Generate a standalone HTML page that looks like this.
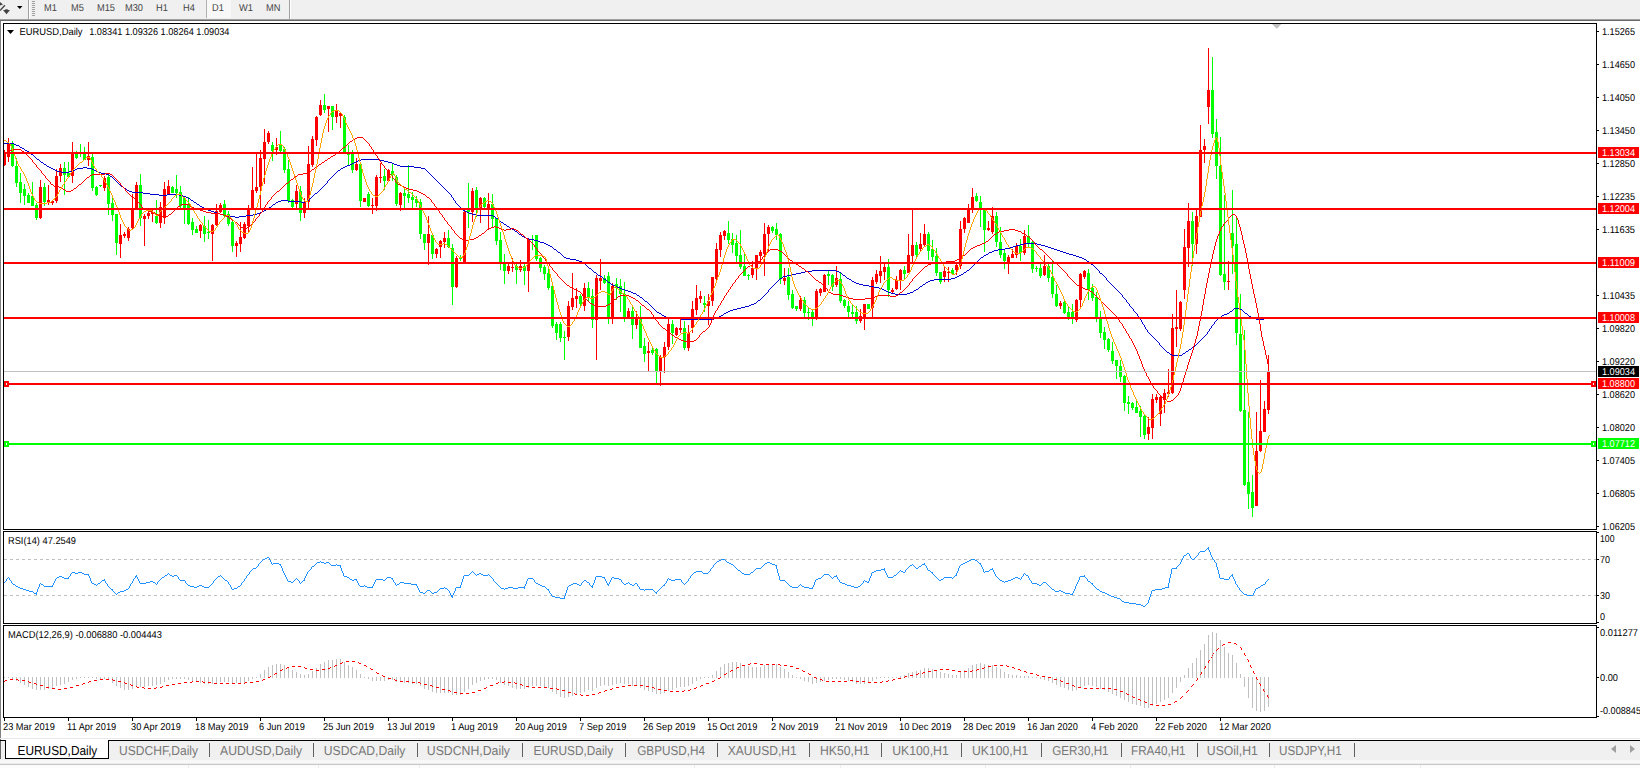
<!DOCTYPE html><html><head><meta charset="utf-8"><title>EURUSD,Daily</title><style>html,body{margin:0;padding:0;background:#fff;width:1640px;height:768px;overflow:hidden}</style></head><body><svg width="1640" height="768" viewBox="0 0 1640 768" style="position:absolute;left:0;top:0" font-family="Liberation Sans, sans-serif">
<g shape-rendering="crispEdges">
<rect x="0" y="0" width="1640" height="768" fill="#fff"/>
<rect x="0" y="0" width="1640" height="19" fill="#f0f0f0"/>
<rect x="0" y="19" width="1640" height="1" fill="#a0a0a0"/>
<rect x="0" y="20" width="1640" height="1" fill="#696969"/>
<rect x="0" y="21" width="1" height="720" fill="#808080"/>
<rect x="28" y="0" width="1" height="19" fill="#a0a0a0"/><rect x="29" y="0" width="1" height="19" fill="#fff"/>
<rect x="289" y="0" width="1" height="19" fill="#a0a0a0"/><rect x="290" y="0" width="1" height="19" fill="#fff"/>
<rect x="32" y="1" width="3" height="1" fill="#a0a0a0"/>
<rect x="32" y="3" width="3" height="1" fill="#a0a0a0"/>
<rect x="32" y="5" width="3" height="1" fill="#a0a0a0"/>
<rect x="32" y="7" width="3" height="1" fill="#a0a0a0"/>
<rect x="32" y="9" width="3" height="1" fill="#a0a0a0"/>
<rect x="32" y="11" width="3" height="1" fill="#a0a0a0"/>
<rect x="32" y="13" width="3" height="1" fill="#a0a0a0"/>
<rect x="32" y="15" width="3" height="1" fill="#a0a0a0"/>
<rect x="207" y="0" width="24" height="18" fill="#f8f8f8"/><rect x="206" y="0" width="1" height="18" fill="#b0b0b0"/>
</g>
<g shape-rendering="crispEdges">
<rect x="4" y="150" width="1" height="16" fill="#ff0000"/>
<rect x="4" y="152" width="2" height="13" fill="#ff0000"/>
<rect x="8" y="138" width="1" height="24" fill="#ff0000"/>
<rect x="7" y="144" width="3" height="13" fill="#ff0000"/>
<rect x="12" y="141" width="1" height="26" fill="#00ff00"/>
<rect x="11" y="144" width="3" height="22" fill="#00ff00"/>
<rect x="16" y="158" width="1" height="29" fill="#00ff00"/>
<rect x="15" y="166" width="3" height="17" fill="#00ff00"/>
<rect x="20" y="173" width="1" height="30" fill="#00ff00"/>
<rect x="19" y="182" width="3" height="11" fill="#00ff00"/>
<rect x="24" y="184" width="1" height="21" fill="#00ff00"/>
<rect x="23" y="189" width="3" height="7" fill="#00ff00"/>
<rect x="28" y="193" width="1" height="10" fill="#00ff00"/>
<rect x="27" y="195" width="3" height="8" fill="#00ff00"/>
<rect x="32" y="182" width="1" height="24" fill="#00ff00"/>
<rect x="31" y="196" width="3" height="10" fill="#00ff00"/>
<rect x="36" y="203" width="1" height="17" fill="#00ff00"/>
<rect x="35" y="205" width="3" height="13" fill="#00ff00"/>
<rect x="40" y="180" width="1" height="39" fill="#ff0000"/>
<rect x="39" y="187" width="3" height="31" fill="#ff0000"/>
<rect x="44" y="183" width="1" height="23" fill="#00ff00"/>
<rect x="43" y="187" width="3" height="15" fill="#00ff00"/>
<rect x="48" y="185" width="1" height="20" fill="#ff0000"/>
<rect x="47" y="200" width="3" height="2" fill="#ff0000"/>
<rect x="52" y="200" width="1" height="5" fill="#ff0000"/>
<rect x="51" y="201" width="3" height="2" fill="#ff0000"/>
<rect x="56" y="169" width="1" height="34" fill="#ff0000"/>
<rect x="55" y="176" width="3" height="25" fill="#ff0000"/>
<rect x="60" y="164" width="1" height="18" fill="#ff0000"/>
<rect x="59" y="168" width="3" height="8" fill="#ff0000"/>
<rect x="64" y="162" width="1" height="33" fill="#00ff00"/>
<rect x="63" y="168" width="3" height="7" fill="#00ff00"/>
<rect x="68" y="162" width="1" height="15" fill="#00ff00"/>
<rect x="67" y="173" width="3" height="4" fill="#00ff00"/>
<rect x="72" y="142" width="1" height="41" fill="#ff0000"/>
<rect x="71" y="153" width="3" height="23" fill="#ff0000"/>
<rect x="76" y="151" width="1" height="8" fill="#00ff00"/>
<rect x="75" y="154" width="3" height="4" fill="#00ff00"/>
<rect x="80" y="144" width="1" height="13" fill="#00ff00"/>
<rect x="79" y="152" width="3" height="2" fill="#00ff00"/>
<rect x="84" y="147" width="1" height="13" fill="#00ff00"/>
<rect x="83" y="153" width="3" height="7" fill="#00ff00"/>
<rect x="88" y="142" width="1" height="24" fill="#ff0000"/>
<rect x="87" y="156" width="3" height="4" fill="#ff0000"/>
<rect x="92" y="154" width="1" height="37" fill="#00ff00"/>
<rect x="91" y="157" width="3" height="31" fill="#00ff00"/>
<rect x="96" y="186" width="1" height="10" fill="#00ff00"/>
<rect x="95" y="187" width="3" height="8" fill="#00ff00"/>
<rect x="100" y="185" width="1" height="2" fill="#00ff00"/>
<rect x="99" y="185" width="3" height="1" fill="#00ff00"/>
<rect x="104" y="176" width="1" height="15" fill="#ff0000"/>
<rect x="103" y="178" width="3" height="10" fill="#ff0000"/>
<rect x="108" y="175" width="1" height="40" fill="#00ff00"/>
<rect x="107" y="177" width="3" height="27" fill="#00ff00"/>
<rect x="112" y="197" width="1" height="24" fill="#00ff00"/>
<rect x="111" y="203" width="3" height="12" fill="#00ff00"/>
<rect x="116" y="214" width="1" height="41" fill="#00ff00"/>
<rect x="115" y="214" width="3" height="29" fill="#00ff00"/>
<rect x="120" y="224" width="1" height="34" fill="#ff0000"/>
<rect x="119" y="235" width="3" height="9" fill="#ff0000"/>
<rect x="124" y="232" width="1" height="6" fill="#ff0000"/>
<rect x="123" y="234" width="3" height="2" fill="#ff0000"/>
<rect x="128" y="227" width="1" height="14" fill="#ff0000"/>
<rect x="127" y="229" width="3" height="9" fill="#ff0000"/>
<rect x="132" y="194" width="1" height="35" fill="#ff0000"/>
<rect x="131" y="210" width="3" height="18" fill="#ff0000"/>
<rect x="136" y="182" width="1" height="28" fill="#ff0000"/>
<rect x="135" y="185" width="3" height="25" fill="#ff0000"/>
<rect x="140" y="174" width="1" height="52" fill="#00ff00"/>
<rect x="139" y="185" width="3" height="33" fill="#00ff00"/>
<rect x="144" y="214" width="1" height="32" fill="#ff0000"/>
<rect x="143" y="216" width="3" height="3" fill="#ff0000"/>
<rect x="148" y="210" width="1" height="9" fill="#ff0000"/>
<rect x="147" y="213" width="3" height="3" fill="#ff0000"/>
<rect x="152" y="210" width="1" height="12" fill="#ff0000"/>
<rect x="151" y="212" width="3" height="2" fill="#ff0000"/>
<rect x="156" y="200" width="1" height="24" fill="#00ff00"/>
<rect x="155" y="216" width="3" height="7" fill="#00ff00"/>
<rect x="160" y="202" width="1" height="26" fill="#ff0000"/>
<rect x="159" y="207" width="3" height="16" fill="#ff0000"/>
<rect x="164" y="182" width="1" height="42" fill="#ff0000"/>
<rect x="163" y="189" width="3" height="29" fill="#ff0000"/>
<rect x="168" y="180" width="1" height="15" fill="#ff0000"/>
<rect x="167" y="186" width="3" height="8" fill="#ff0000"/>
<rect x="172" y="186" width="1" height="7" fill="#00ff00"/>
<rect x="171" y="187" width="3" height="6" fill="#00ff00"/>
<rect x="176" y="175" width="1" height="23" fill="#00ff00"/>
<rect x="175" y="189" width="3" height="4" fill="#00ff00"/>
<rect x="180" y="186" width="1" height="22" fill="#00ff00"/>
<rect x="179" y="192" width="3" height="14" fill="#00ff00"/>
<rect x="184" y="196" width="1" height="28" fill="#00ff00"/>
<rect x="183" y="198" width="3" height="10" fill="#00ff00"/>
<rect x="188" y="197" width="1" height="28" fill="#00ff00"/>
<rect x="187" y="204" width="3" height="20" fill="#00ff00"/>
<rect x="192" y="218" width="1" height="17" fill="#00ff00"/>
<rect x="191" y="222" width="3" height="8" fill="#00ff00"/>
<rect x="196" y="226" width="1" height="7" fill="#00ff00"/>
<rect x="195" y="229" width="3" height="4" fill="#00ff00"/>
<rect x="200" y="224" width="1" height="14" fill="#ff0000"/>
<rect x="199" y="225" width="3" height="6" fill="#ff0000"/>
<rect x="204" y="216" width="1" height="26" fill="#00ff00"/>
<rect x="203" y="226" width="3" height="8" fill="#00ff00"/>
<rect x="208" y="220" width="1" height="19" fill="#00ff00"/>
<rect x="207" y="232" width="3" height="1" fill="#00ff00"/>
<rect x="212" y="224" width="1" height="37" fill="#ff0000"/>
<rect x="211" y="225" width="3" height="9" fill="#ff0000"/>
<rect x="216" y="204" width="1" height="22" fill="#ff0000"/>
<rect x="215" y="211" width="3" height="14" fill="#ff0000"/>
<rect x="220" y="203" width="1" height="10" fill="#ff0000"/>
<rect x="219" y="205" width="3" height="7" fill="#ff0000"/>
<rect x="224" y="200" width="1" height="17" fill="#00ff00"/>
<rect x="223" y="204" width="3" height="12" fill="#00ff00"/>
<rect x="228" y="211" width="1" height="15" fill="#00ff00"/>
<rect x="227" y="214" width="3" height="10" fill="#00ff00"/>
<rect x="232" y="220" width="1" height="32" fill="#00ff00"/>
<rect x="231" y="222" width="3" height="24" fill="#00ff00"/>
<rect x="236" y="241" width="1" height="16" fill="#ff0000"/>
<rect x="235" y="243" width="3" height="3" fill="#ff0000"/>
<rect x="240" y="222" width="1" height="30" fill="#ff0000"/>
<rect x="239" y="237" width="3" height="7" fill="#ff0000"/>
<rect x="244" y="222" width="1" height="17" fill="#ff0000"/>
<rect x="243" y="224" width="3" height="14" fill="#ff0000"/>
<rect x="248" y="205" width="1" height="28" fill="#ff0000"/>
<rect x="247" y="208" width="3" height="18" fill="#ff0000"/>
<rect x="252" y="167" width="1" height="42" fill="#ff0000"/>
<rect x="251" y="190" width="3" height="18" fill="#ff0000"/>
<rect x="256" y="153" width="1" height="40" fill="#ff0000"/>
<rect x="255" y="187" width="3" height="4" fill="#ff0000"/>
<rect x="260" y="150" width="1" height="59" fill="#ff0000"/>
<rect x="259" y="158" width="3" height="29" fill="#ff0000"/>
<rect x="264" y="129" width="1" height="55" fill="#ff0000"/>
<rect x="263" y="142" width="3" height="17" fill="#ff0000"/>
<rect x="268" y="131" width="1" height="13" fill="#ff0000"/>
<rect x="267" y="133" width="3" height="9" fill="#ff0000"/>
<rect x="272" y="142" width="1" height="19" fill="#00ff00"/>
<rect x="271" y="145" width="3" height="6" fill="#00ff00"/>
<rect x="276" y="138" width="1" height="17" fill="#ff0000"/>
<rect x="275" y="147" width="3" height="3" fill="#ff0000"/>
<rect x="280" y="131" width="1" height="21" fill="#00ff00"/>
<rect x="279" y="144" width="3" height="7" fill="#00ff00"/>
<rect x="284" y="147" width="1" height="26" fill="#00ff00"/>
<rect x="283" y="149" width="3" height="21" fill="#00ff00"/>
<rect x="288" y="160" width="1" height="43" fill="#00ff00"/>
<rect x="287" y="169" width="3" height="32" fill="#00ff00"/>
<rect x="292" y="199" width="1" height="9" fill="#00ff00"/>
<rect x="291" y="200" width="3" height="7" fill="#00ff00"/>
<rect x="296" y="185" width="1" height="24" fill="#ff0000"/>
<rect x="295" y="191" width="3" height="13" fill="#ff0000"/>
<rect x="300" y="186" width="1" height="35" fill="#00ff00"/>
<rect x="299" y="191" width="3" height="22" fill="#00ff00"/>
<rect x="304" y="198" width="1" height="20" fill="#ff0000"/>
<rect x="303" y="202" width="3" height="11" fill="#ff0000"/>
<rect x="308" y="146" width="1" height="62" fill="#ff0000"/>
<rect x="307" y="164" width="3" height="38" fill="#ff0000"/>
<rect x="312" y="136" width="1" height="31" fill="#ff0000"/>
<rect x="311" y="139" width="3" height="26" fill="#ff0000"/>
<rect x="316" y="116" width="1" height="30" fill="#ff0000"/>
<rect x="315" y="117" width="3" height="23" fill="#ff0000"/>
<rect x="320" y="100" width="1" height="16" fill="#ff0000"/>
<rect x="319" y="105" width="3" height="10" fill="#ff0000"/>
<rect x="324" y="94" width="1" height="19" fill="#00ff00"/>
<rect x="323" y="105" width="3" height="5" fill="#00ff00"/>
<rect x="328" y="106" width="1" height="26" fill="#ff0000"/>
<rect x="327" y="106" width="3" height="3" fill="#ff0000"/>
<rect x="332" y="106" width="1" height="24" fill="#00ff00"/>
<rect x="331" y="106" width="3" height="11" fill="#00ff00"/>
<rect x="336" y="104" width="1" height="19" fill="#ff0000"/>
<rect x="335" y="111" width="3" height="6" fill="#ff0000"/>
<rect x="340" y="112" width="1" height="16" fill="#ff0000"/>
<rect x="339" y="113" width="3" height="3" fill="#ff0000"/>
<rect x="344" y="115" width="1" height="39" fill="#00ff00"/>
<rect x="343" y="117" width="3" height="35" fill="#00ff00"/>
<rect x="348" y="145" width="1" height="21" fill="#00ff00"/>
<rect x="347" y="152" width="3" height="3" fill="#00ff00"/>
<rect x="352" y="150" width="1" height="23" fill="#00ff00"/>
<rect x="351" y="154" width="3" height="16" fill="#00ff00"/>
<rect x="356" y="158" width="1" height="13" fill="#ff0000"/>
<rect x="355" y="164" width="3" height="6" fill="#ff0000"/>
<rect x="360" y="162" width="1" height="45" fill="#00ff00"/>
<rect x="359" y="164" width="3" height="37" fill="#00ff00"/>
<rect x="364" y="198" width="1" height="4" fill="#ff0000"/>
<rect x="363" y="198" width="3" height="4" fill="#ff0000"/>
<rect x="368" y="192" width="1" height="15" fill="#00ff00"/>
<rect x="367" y="194" width="3" height="12" fill="#00ff00"/>
<rect x="372" y="198" width="1" height="16" fill="#ff0000"/>
<rect x="371" y="205" width="3" height="1" fill="#ff0000"/>
<rect x="376" y="175" width="1" height="36" fill="#ff0000"/>
<rect x="375" y="177" width="3" height="29" fill="#ff0000"/>
<rect x="380" y="163" width="1" height="20" fill="#ff0000"/>
<rect x="379" y="177" width="3" height="1" fill="#ff0000"/>
<rect x="384" y="169" width="1" height="21" fill="#00ff00"/>
<rect x="383" y="176" width="3" height="5" fill="#00ff00"/>
<rect x="388" y="169" width="1" height="13" fill="#ff0000"/>
<rect x="387" y="170" width="3" height="11" fill="#ff0000"/>
<rect x="392" y="163" width="1" height="18" fill="#00ff00"/>
<rect x="391" y="171" width="3" height="4" fill="#00ff00"/>
<rect x="396" y="175" width="1" height="31" fill="#00ff00"/>
<rect x="395" y="177" width="3" height="27" fill="#00ff00"/>
<rect x="400" y="192" width="1" height="19" fill="#ff0000"/>
<rect x="399" y="193" width="3" height="12" fill="#ff0000"/>
<rect x="404" y="189" width="1" height="19" fill="#00ff00"/>
<rect x="403" y="193" width="3" height="3" fill="#00ff00"/>
<rect x="408" y="165" width="1" height="38" fill="#00ff00"/>
<rect x="407" y="194" width="3" height="4" fill="#00ff00"/>
<rect x="412" y="192" width="1" height="16" fill="#00ff00"/>
<rect x="411" y="197" width="3" height="3" fill="#00ff00"/>
<rect x="416" y="196" width="1" height="11" fill="#00ff00"/>
<rect x="415" y="199" width="3" height="4" fill="#00ff00"/>
<rect x="420" y="199" width="1" height="40" fill="#00ff00"/>
<rect x="419" y="202" width="3" height="32" fill="#00ff00"/>
<rect x="424" y="234" width="1" height="16" fill="#00ff00"/>
<rect x="423" y="234" width="3" height="9" fill="#00ff00"/>
<rect x="428" y="216" width="1" height="49" fill="#ff0000"/>
<rect x="427" y="234" width="3" height="9" fill="#ff0000"/>
<rect x="432" y="234" width="1" height="25" fill="#00ff00"/>
<rect x="431" y="235" width="3" height="19" fill="#00ff00"/>
<rect x="436" y="248" width="1" height="10" fill="#ff0000"/>
<rect x="435" y="249" width="3" height="5" fill="#ff0000"/>
<rect x="440" y="240" width="1" height="18" fill="#ff0000"/>
<rect x="439" y="241" width="3" height="6" fill="#ff0000"/>
<rect x="444" y="232" width="1" height="16" fill="#ff0000"/>
<rect x="443" y="238" width="3" height="4" fill="#ff0000"/>
<rect x="448" y="230" width="1" height="18" fill="#00ff00"/>
<rect x="447" y="238" width="3" height="9" fill="#00ff00"/>
<rect x="452" y="244" width="1" height="61" fill="#00ff00"/>
<rect x="451" y="248" width="3" height="39" fill="#00ff00"/>
<rect x="456" y="256" width="1" height="32" fill="#ff0000"/>
<rect x="455" y="258" width="3" height="29" fill="#ff0000"/>
<rect x="460" y="255" width="1" height="6" fill="#00ff00"/>
<rect x="459" y="257" width="3" height="2" fill="#00ff00"/>
<rect x="464" y="210" width="1" height="53" fill="#ff0000"/>
<rect x="463" y="212" width="3" height="51" fill="#ff0000"/>
<rect x="468" y="183" width="1" height="45" fill="#00ff00"/>
<rect x="467" y="209" width="3" height="3" fill="#00ff00"/>
<rect x="472" y="188" width="1" height="34" fill="#ff0000"/>
<rect x="471" y="191" width="3" height="21" fill="#ff0000"/>
<rect x="476" y="187" width="1" height="30" fill="#00ff00"/>
<rect x="475" y="190" width="3" height="18" fill="#00ff00"/>
<rect x="480" y="197" width="1" height="26" fill="#ff0000"/>
<rect x="479" y="198" width="3" height="10" fill="#ff0000"/>
<rect x="484" y="197" width="1" height="11" fill="#00ff00"/>
<rect x="483" y="198" width="3" height="9" fill="#00ff00"/>
<rect x="488" y="193" width="1" height="36" fill="#ff0000"/>
<rect x="487" y="204" width="3" height="4" fill="#ff0000"/>
<rect x="492" y="194" width="1" height="33" fill="#00ff00"/>
<rect x="491" y="204" width="3" height="15" fill="#00ff00"/>
<rect x="496" y="218" width="1" height="27" fill="#00ff00"/>
<rect x="495" y="218" width="3" height="23" fill="#00ff00"/>
<rect x="500" y="232" width="1" height="38" fill="#00ff00"/>
<rect x="499" y="240" width="3" height="22" fill="#00ff00"/>
<rect x="504" y="254" width="1" height="30" fill="#00ff00"/>
<rect x="503" y="263" width="3" height="8" fill="#00ff00"/>
<rect x="508" y="264" width="1" height="10" fill="#ff0000"/>
<rect x="507" y="266" width="3" height="5" fill="#ff0000"/>
<rect x="512" y="258" width="1" height="14" fill="#ff0000"/>
<rect x="511" y="267" width="3" height="1" fill="#ff0000"/>
<rect x="516" y="264" width="1" height="20" fill="#00ff00"/>
<rect x="515" y="266" width="3" height="4" fill="#00ff00"/>
<rect x="520" y="260" width="1" height="12" fill="#ff0000"/>
<rect x="519" y="266" width="3" height="4" fill="#ff0000"/>
<rect x="524" y="263" width="1" height="22" fill="#00ff00"/>
<rect x="523" y="266" width="3" height="5" fill="#00ff00"/>
<rect x="528" y="238" width="1" height="54" fill="#ff0000"/>
<rect x="527" y="239" width="3" height="32" fill="#ff0000"/>
<rect x="532" y="235" width="1" height="15" fill="#00ff00"/>
<rect x="531" y="239" width="3" height="1" fill="#00ff00"/>
<rect x="536" y="235" width="1" height="26" fill="#00ff00"/>
<rect x="535" y="235" width="3" height="24" fill="#00ff00"/>
<rect x="540" y="257" width="1" height="15" fill="#00ff00"/>
<rect x="539" y="258" width="3" height="10" fill="#00ff00"/>
<rect x="544" y="265" width="1" height="15" fill="#00ff00"/>
<rect x="543" y="267" width="3" height="7" fill="#00ff00"/>
<rect x="548" y="266" width="1" height="24" fill="#00ff00"/>
<rect x="547" y="273" width="3" height="15" fill="#00ff00"/>
<rect x="552" y="286" width="1" height="42" fill="#00ff00"/>
<rect x="551" y="286" width="3" height="40" fill="#00ff00"/>
<rect x="556" y="322" width="1" height="18" fill="#00ff00"/>
<rect x="555" y="324" width="3" height="9" fill="#00ff00"/>
<rect x="560" y="322" width="1" height="20" fill="#00ff00"/>
<rect x="559" y="324" width="3" height="14" fill="#00ff00"/>
<rect x="564" y="331" width="1" height="29" fill="#00ff00"/>
<rect x="563" y="337" width="3" height="1" fill="#00ff00"/>
<rect x="568" y="301" width="1" height="40" fill="#ff0000"/>
<rect x="567" y="306" width="3" height="31" fill="#ff0000"/>
<rect x="572" y="273" width="1" height="37" fill="#ff0000"/>
<rect x="571" y="298" width="3" height="9" fill="#ff0000"/>
<rect x="576" y="288" width="1" height="20" fill="#ff0000"/>
<rect x="575" y="296" width="3" height="3" fill="#ff0000"/>
<rect x="580" y="294" width="1" height="12" fill="#00ff00"/>
<rect x="579" y="296" width="3" height="8" fill="#00ff00"/>
<rect x="584" y="283" width="1" height="28" fill="#ff0000"/>
<rect x="583" y="288" width="3" height="18" fill="#ff0000"/>
<rect x="588" y="282" width="1" height="20" fill="#00ff00"/>
<rect x="587" y="288" width="3" height="9" fill="#00ff00"/>
<rect x="592" y="289" width="1" height="39" fill="#00ff00"/>
<rect x="591" y="296" width="3" height="24" fill="#00ff00"/>
<rect x="596" y="275" width="1" height="85" fill="#ff0000"/>
<rect x="595" y="278" width="3" height="42" fill="#ff0000"/>
<rect x="600" y="259" width="1" height="31" fill="#ff0000"/>
<rect x="599" y="278" width="3" height="3" fill="#ff0000"/>
<rect x="604" y="275" width="1" height="9" fill="#00ff00"/>
<rect x="603" y="278" width="3" height="5" fill="#00ff00"/>
<rect x="608" y="272" width="1" height="52" fill="#00ff00"/>
<rect x="607" y="276" width="3" height="41" fill="#00ff00"/>
<rect x="612" y="283" width="1" height="41" fill="#ff0000"/>
<rect x="611" y="286" width="3" height="31" fill="#ff0000"/>
<rect x="616" y="278" width="1" height="22" fill="#00ff00"/>
<rect x="615" y="284" width="3" height="4" fill="#00ff00"/>
<rect x="620" y="279" width="1" height="33" fill="#00ff00"/>
<rect x="619" y="286" width="3" height="8" fill="#00ff00"/>
<rect x="624" y="282" width="1" height="40" fill="#00ff00"/>
<rect x="623" y="294" width="3" height="23" fill="#00ff00"/>
<rect x="628" y="308" width="1" height="10" fill="#ff0000"/>
<rect x="627" y="311" width="3" height="7" fill="#ff0000"/>
<rect x="632" y="307" width="1" height="32" fill="#00ff00"/>
<rect x="631" y="311" width="3" height="14" fill="#00ff00"/>
<rect x="636" y="311" width="1" height="18" fill="#ff0000"/>
<rect x="635" y="317" width="3" height="8" fill="#ff0000"/>
<rect x="640" y="306" width="1" height="42" fill="#00ff00"/>
<rect x="639" y="319" width="3" height="29" fill="#00ff00"/>
<rect x="644" y="338" width="1" height="24" fill="#00ff00"/>
<rect x="643" y="346" width="3" height="8" fill="#00ff00"/>
<rect x="648" y="342" width="1" height="29" fill="#ff0000"/>
<rect x="647" y="351" width="3" height="2" fill="#ff0000"/>
<rect x="652" y="348" width="1" height="7" fill="#00ff00"/>
<rect x="651" y="350" width="3" height="3" fill="#00ff00"/>
<rect x="656" y="348" width="1" height="36" fill="#00ff00"/>
<rect x="655" y="349" width="3" height="23" fill="#00ff00"/>
<rect x="660" y="355" width="1" height="31" fill="#ff0000"/>
<rect x="659" y="357" width="3" height="15" fill="#ff0000"/>
<rect x="664" y="342" width="1" height="31" fill="#ff0000"/>
<rect x="663" y="347" width="3" height="10" fill="#ff0000"/>
<rect x="668" y="318" width="1" height="32" fill="#ff0000"/>
<rect x="667" y="324" width="3" height="23" fill="#ff0000"/>
<rect x="672" y="320" width="1" height="24" fill="#00ff00"/>
<rect x="671" y="324" width="3" height="9" fill="#00ff00"/>
<rect x="676" y="327" width="1" height="9" fill="#ff0000"/>
<rect x="675" y="328" width="3" height="7" fill="#ff0000"/>
<rect x="680" y="318" width="1" height="15" fill="#ff0000"/>
<rect x="679" y="328" width="3" height="2" fill="#ff0000"/>
<rect x="684" y="321" width="1" height="29" fill="#00ff00"/>
<rect x="683" y="328" width="3" height="20" fill="#00ff00"/>
<rect x="688" y="325" width="1" height="26" fill="#ff0000"/>
<rect x="687" y="333" width="3" height="15" fill="#ff0000"/>
<rect x="692" y="301" width="1" height="32" fill="#ff0000"/>
<rect x="691" y="309" width="3" height="19" fill="#ff0000"/>
<rect x="696" y="285" width="1" height="30" fill="#ff0000"/>
<rect x="695" y="298" width="3" height="12" fill="#ff0000"/>
<rect x="700" y="291" width="1" height="12" fill="#ff0000"/>
<rect x="699" y="296" width="3" height="3" fill="#ff0000"/>
<rect x="704" y="296" width="1" height="16" fill="#00ff00"/>
<rect x="703" y="303" width="3" height="2" fill="#00ff00"/>
<rect x="708" y="294" width="1" height="31" fill="#ff0000"/>
<rect x="707" y="301" width="3" height="5" fill="#ff0000"/>
<rect x="712" y="277" width="1" height="29" fill="#ff0000"/>
<rect x="711" y="277" width="3" height="24" fill="#ff0000"/>
<rect x="716" y="243" width="1" height="38" fill="#ff0000"/>
<rect x="715" y="249" width="3" height="30" fill="#ff0000"/>
<rect x="720" y="232" width="1" height="25" fill="#ff0000"/>
<rect x="719" y="235" width="3" height="15" fill="#ff0000"/>
<rect x="724" y="230" width="1" height="10" fill="#ff0000"/>
<rect x="723" y="231" width="3" height="5" fill="#ff0000"/>
<rect x="728" y="221" width="1" height="23" fill="#00ff00"/>
<rect x="727" y="233" width="3" height="7" fill="#00ff00"/>
<rect x="732" y="233" width="1" height="20" fill="#00ff00"/>
<rect x="731" y="239" width="3" height="6" fill="#00ff00"/>
<rect x="736" y="235" width="1" height="27" fill="#00ff00"/>
<rect x="735" y="243" width="3" height="13" fill="#00ff00"/>
<rect x="740" y="230" width="1" height="39" fill="#00ff00"/>
<rect x="739" y="255" width="3" height="12" fill="#00ff00"/>
<rect x="744" y="252" width="1" height="24" fill="#00ff00"/>
<rect x="743" y="266" width="3" height="10" fill="#00ff00"/>
<rect x="748" y="274" width="1" height="6" fill="#00ff00"/>
<rect x="747" y="275" width="3" height="1" fill="#00ff00"/>
<rect x="752" y="261" width="1" height="17" fill="#ff0000"/>
<rect x="751" y="268" width="3" height="7" fill="#ff0000"/>
<rect x="756" y="255" width="1" height="25" fill="#ff0000"/>
<rect x="755" y="255" width="3" height="13" fill="#ff0000"/>
<rect x="760" y="250" width="1" height="12" fill="#ff0000"/>
<rect x="759" y="252" width="3" height="4" fill="#ff0000"/>
<rect x="764" y="223" width="1" height="53" fill="#ff0000"/>
<rect x="763" y="234" width="3" height="20" fill="#ff0000"/>
<rect x="768" y="225" width="1" height="26" fill="#ff0000"/>
<rect x="767" y="227" width="3" height="7" fill="#ff0000"/>
<rect x="772" y="226" width="1" height="7" fill="#00ff00"/>
<rect x="771" y="227" width="3" height="4" fill="#00ff00"/>
<rect x="776" y="223" width="1" height="17" fill="#00ff00"/>
<rect x="775" y="229" width="3" height="6" fill="#00ff00"/>
<rect x="780" y="233" width="1" height="51" fill="#00ff00"/>
<rect x="779" y="234" width="3" height="45" fill="#00ff00"/>
<rect x="784" y="268" width="1" height="17" fill="#ff0000"/>
<rect x="783" y="278" width="3" height="3" fill="#ff0000"/>
<rect x="788" y="268" width="1" height="32" fill="#00ff00"/>
<rect x="787" y="277" width="3" height="18" fill="#00ff00"/>
<rect x="792" y="290" width="1" height="19" fill="#00ff00"/>
<rect x="791" y="294" width="3" height="14" fill="#00ff00"/>
<rect x="796" y="306" width="1" height="5" fill="#00ff00"/>
<rect x="795" y="306" width="3" height="3" fill="#00ff00"/>
<rect x="800" y="296" width="1" height="15" fill="#ff0000"/>
<rect x="799" y="300" width="3" height="9" fill="#ff0000"/>
<rect x="804" y="297" width="1" height="21" fill="#00ff00"/>
<rect x="803" y="300" width="3" height="13" fill="#00ff00"/>
<rect x="808" y="308" width="1" height="12" fill="#00ff00"/>
<rect x="807" y="312" width="3" height="1" fill="#00ff00"/>
<rect x="812" y="310" width="1" height="16" fill="#00ff00"/>
<rect x="811" y="312" width="3" height="6" fill="#00ff00"/>
<rect x="816" y="289" width="1" height="31" fill="#ff0000"/>
<rect x="815" y="291" width="3" height="27" fill="#ff0000"/>
<rect x="820" y="288" width="1" height="8" fill="#ff0000"/>
<rect x="819" y="289" width="3" height="4" fill="#ff0000"/>
<rect x="824" y="274" width="1" height="18" fill="#ff0000"/>
<rect x="823" y="275" width="3" height="17" fill="#ff0000"/>
<rect x="828" y="270" width="1" height="15" fill="#00ff00"/>
<rect x="827" y="274" width="3" height="2" fill="#00ff00"/>
<rect x="832" y="274" width="1" height="17" fill="#00ff00"/>
<rect x="831" y="275" width="3" height="12" fill="#00ff00"/>
<rect x="836" y="266" width="1" height="21" fill="#ff0000"/>
<rect x="835" y="278" width="3" height="7" fill="#ff0000"/>
<rect x="840" y="272" width="1" height="31" fill="#00ff00"/>
<rect x="839" y="279" width="3" height="22" fill="#00ff00"/>
<rect x="844" y="299" width="1" height="9" fill="#00ff00"/>
<rect x="843" y="300" width="3" height="6" fill="#00ff00"/>
<rect x="848" y="301" width="1" height="16" fill="#00ff00"/>
<rect x="847" y="306" width="3" height="6" fill="#00ff00"/>
<rect x="852" y="305" width="1" height="12" fill="#00ff00"/>
<rect x="851" y="312" width="3" height="2" fill="#00ff00"/>
<rect x="856" y="306" width="1" height="18" fill="#00ff00"/>
<rect x="855" y="312" width="3" height="9" fill="#00ff00"/>
<rect x="860" y="309" width="1" height="14" fill="#ff0000"/>
<rect x="859" y="316" width="3" height="5" fill="#ff0000"/>
<rect x="864" y="304" width="1" height="26" fill="#ff0000"/>
<rect x="863" y="304" width="3" height="14" fill="#ff0000"/>
<rect x="868" y="304" width="1" height="5" fill="#00ff00"/>
<rect x="867" y="304" width="3" height="5" fill="#00ff00"/>
<rect x="872" y="277" width="1" height="41" fill="#ff0000"/>
<rect x="871" y="280" width="3" height="28" fill="#ff0000"/>
<rect x="876" y="270" width="1" height="14" fill="#ff0000"/>
<rect x="875" y="274" width="3" height="8" fill="#ff0000"/>
<rect x="880" y="256" width="1" height="27" fill="#ff0000"/>
<rect x="879" y="271" width="3" height="5" fill="#ff0000"/>
<rect x="884" y="262" width="1" height="18" fill="#ff0000"/>
<rect x="883" y="267" width="3" height="5" fill="#ff0000"/>
<rect x="888" y="259" width="1" height="38" fill="#00ff00"/>
<rect x="887" y="267" width="3" height="23" fill="#00ff00"/>
<rect x="892" y="288" width="1" height="5" fill="#ff0000"/>
<rect x="891" y="290" width="3" height="2" fill="#ff0000"/>
<rect x="896" y="276" width="1" height="14" fill="#ff0000"/>
<rect x="895" y="280" width="3" height="9" fill="#ff0000"/>
<rect x="900" y="269" width="1" height="21" fill="#ff0000"/>
<rect x="899" y="270" width="3" height="10" fill="#ff0000"/>
<rect x="904" y="266" width="1" height="13" fill="#00ff00"/>
<rect x="903" y="270" width="3" height="4" fill="#00ff00"/>
<rect x="908" y="234" width="1" height="39" fill="#ff0000"/>
<rect x="907" y="255" width="3" height="18" fill="#ff0000"/>
<rect x="912" y="209" width="1" height="54" fill="#ff0000"/>
<rect x="911" y="245" width="3" height="11" fill="#ff0000"/>
<rect x="916" y="242" width="1" height="17" fill="#00ff00"/>
<rect x="915" y="245" width="3" height="10" fill="#00ff00"/>
<rect x="920" y="233" width="1" height="18" fill="#ff0000"/>
<rect x="919" y="244" width="3" height="5" fill="#ff0000"/>
<rect x="924" y="224" width="1" height="22" fill="#ff0000"/>
<rect x="923" y="234" width="3" height="11" fill="#ff0000"/>
<rect x="928" y="232" width="1" height="28" fill="#00ff00"/>
<rect x="927" y="234" width="3" height="17" fill="#00ff00"/>
<rect x="932" y="240" width="1" height="21" fill="#00ff00"/>
<rect x="931" y="249" width="3" height="8" fill="#00ff00"/>
<rect x="936" y="248" width="1" height="28" fill="#00ff00"/>
<rect x="935" y="256" width="3" height="17" fill="#00ff00"/>
<rect x="940" y="272" width="1" height="12" fill="#00ff00"/>
<rect x="939" y="272" width="3" height="10" fill="#00ff00"/>
<rect x="944" y="267" width="1" height="15" fill="#ff0000"/>
<rect x="943" y="271" width="3" height="6" fill="#ff0000"/>
<rect x="948" y="267" width="1" height="15" fill="#ff0000"/>
<rect x="947" y="272" width="3" height="1" fill="#ff0000"/>
<rect x="952" y="268" width="1" height="7" fill="#00ff00"/>
<rect x="951" y="270" width="3" height="4" fill="#00ff00"/>
<rect x="956" y="264" width="1" height="11" fill="#ff0000"/>
<rect x="955" y="265" width="3" height="5" fill="#ff0000"/>
<rect x="960" y="221" width="1" height="48" fill="#ff0000"/>
<rect x="959" y="229" width="3" height="37" fill="#ff0000"/>
<rect x="964" y="217" width="1" height="16" fill="#ff0000"/>
<rect x="963" y="218" width="3" height="11" fill="#ff0000"/>
<rect x="968" y="204" width="1" height="19" fill="#ff0000"/>
<rect x="967" y="210" width="3" height="13" fill="#ff0000"/>
<rect x="972" y="188" width="1" height="25" fill="#ff0000"/>
<rect x="971" y="197" width="3" height="12" fill="#ff0000"/>
<rect x="976" y="193" width="1" height="9" fill="#00ff00"/>
<rect x="975" y="196" width="3" height="5" fill="#00ff00"/>
<rect x="980" y="196" width="1" height="31" fill="#00ff00"/>
<rect x="979" y="202" width="3" height="6" fill="#00ff00"/>
<rect x="984" y="209" width="1" height="43" fill="#00ff00"/>
<rect x="983" y="210" width="3" height="20" fill="#00ff00"/>
<rect x="988" y="221" width="1" height="10" fill="#ff0000"/>
<rect x="987" y="228" width="3" height="2" fill="#ff0000"/>
<rect x="992" y="207" width="1" height="27" fill="#ff0000"/>
<rect x="991" y="216" width="3" height="16" fill="#ff0000"/>
<rect x="996" y="212" width="1" height="35" fill="#00ff00"/>
<rect x="995" y="216" width="3" height="26" fill="#00ff00"/>
<rect x="1000" y="227" width="1" height="31" fill="#00ff00"/>
<rect x="999" y="242" width="3" height="13" fill="#00ff00"/>
<rect x="1004" y="250" width="1" height="19" fill="#00ff00"/>
<rect x="1003" y="253" width="3" height="8" fill="#00ff00"/>
<rect x="1008" y="255" width="1" height="19" fill="#ff0000"/>
<rect x="1007" y="257" width="3" height="5" fill="#ff0000"/>
<rect x="1012" y="249" width="1" height="9" fill="#ff0000"/>
<rect x="1011" y="254" width="3" height="4" fill="#ff0000"/>
<rect x="1016" y="243" width="1" height="15" fill="#ff0000"/>
<rect x="1015" y="246" width="3" height="9" fill="#ff0000"/>
<rect x="1020" y="239" width="1" height="22" fill="#00ff00"/>
<rect x="1019" y="246" width="3" height="7" fill="#00ff00"/>
<rect x="1024" y="230" width="1" height="25" fill="#ff0000"/>
<rect x="1023" y="236" width="3" height="17" fill="#ff0000"/>
<rect x="1028" y="225" width="1" height="22" fill="#00ff00"/>
<rect x="1027" y="236" width="3" height="8" fill="#00ff00"/>
<rect x="1032" y="241" width="1" height="32" fill="#00ff00"/>
<rect x="1031" y="242" width="3" height="27" fill="#00ff00"/>
<rect x="1036" y="266" width="1" height="6" fill="#00ff00"/>
<rect x="1035" y="268" width="3" height="1" fill="#00ff00"/>
<rect x="1040" y="263" width="1" height="15" fill="#00ff00"/>
<rect x="1039" y="268" width="3" height="8" fill="#00ff00"/>
<rect x="1044" y="255" width="1" height="21" fill="#ff0000"/>
<rect x="1043" y="266" width="3" height="9" fill="#ff0000"/>
<rect x="1048" y="264" width="1" height="18" fill="#00ff00"/>
<rect x="1047" y="266" width="3" height="12" fill="#00ff00"/>
<rect x="1052" y="260" width="1" height="38" fill="#00ff00"/>
<rect x="1051" y="277" width="3" height="17" fill="#00ff00"/>
<rect x="1056" y="285" width="1" height="22" fill="#00ff00"/>
<rect x="1055" y="294" width="3" height="12" fill="#00ff00"/>
<rect x="1060" y="301" width="1" height="8" fill="#ff0000"/>
<rect x="1059" y="303" width="3" height="3" fill="#ff0000"/>
<rect x="1064" y="300" width="1" height="14" fill="#00ff00"/>
<rect x="1063" y="302" width="3" height="11" fill="#00ff00"/>
<rect x="1068" y="306" width="1" height="14" fill="#00ff00"/>
<rect x="1067" y="312" width="3" height="6" fill="#00ff00"/>
<rect x="1072" y="304" width="1" height="20" fill="#00ff00"/>
<rect x="1071" y="312" width="3" height="7" fill="#00ff00"/>
<rect x="1076" y="299" width="1" height="23" fill="#ff0000"/>
<rect x="1075" y="300" width="3" height="20" fill="#ff0000"/>
<rect x="1080" y="273" width="1" height="35" fill="#ff0000"/>
<rect x="1079" y="274" width="3" height="26" fill="#ff0000"/>
<rect x="1084" y="270" width="1" height="9" fill="#ff0000"/>
<rect x="1083" y="271" width="3" height="6" fill="#ff0000"/>
<rect x="1088" y="269" width="1" height="31" fill="#00ff00"/>
<rect x="1087" y="273" width="3" height="16" fill="#00ff00"/>
<rect x="1092" y="284" width="1" height="17" fill="#00ff00"/>
<rect x="1091" y="288" width="3" height="10" fill="#00ff00"/>
<rect x="1096" y="292" width="1" height="30" fill="#00ff00"/>
<rect x="1095" y="297" width="3" height="20" fill="#00ff00"/>
<rect x="1100" y="311" width="1" height="27" fill="#00ff00"/>
<rect x="1099" y="317" width="3" height="16" fill="#00ff00"/>
<rect x="1104" y="327" width="1" height="22" fill="#00ff00"/>
<rect x="1103" y="332" width="3" height="8" fill="#00ff00"/>
<rect x="1108" y="338" width="1" height="14" fill="#00ff00"/>
<rect x="1107" y="339" width="3" height="11" fill="#00ff00"/>
<rect x="1112" y="342" width="1" height="22" fill="#00ff00"/>
<rect x="1111" y="351" width="3" height="10" fill="#00ff00"/>
<rect x="1116" y="360" width="1" height="19" fill="#00ff00"/>
<rect x="1115" y="360" width="3" height="6" fill="#00ff00"/>
<rect x="1120" y="360" width="1" height="22" fill="#00ff00"/>
<rect x="1119" y="366" width="3" height="11" fill="#00ff00"/>
<rect x="1124" y="375" width="1" height="36" fill="#00ff00"/>
<rect x="1123" y="376" width="3" height="27" fill="#00ff00"/>
<rect x="1128" y="396" width="1" height="18" fill="#00ff00"/>
<rect x="1127" y="402" width="3" height="2" fill="#00ff00"/>
<rect x="1132" y="402" width="1" height="8" fill="#00ff00"/>
<rect x="1131" y="403" width="3" height="5" fill="#00ff00"/>
<rect x="1136" y="401" width="1" height="12" fill="#00ff00"/>
<rect x="1135" y="407" width="3" height="6" fill="#00ff00"/>
<rect x="1140" y="406" width="1" height="31" fill="#00ff00"/>
<rect x="1139" y="411" width="3" height="6" fill="#00ff00"/>
<rect x="1144" y="415" width="1" height="24" fill="#00ff00"/>
<rect x="1143" y="416" width="3" height="19" fill="#00ff00"/>
<rect x="1148" y="417" width="1" height="23" fill="#ff0000"/>
<rect x="1147" y="427" width="3" height="7" fill="#ff0000"/>
<rect x="1152" y="394" width="1" height="45" fill="#ff0000"/>
<rect x="1151" y="399" width="3" height="29" fill="#ff0000"/>
<rect x="1156" y="394" width="1" height="9" fill="#ff0000"/>
<rect x="1155" y="397" width="3" height="3" fill="#ff0000"/>
<rect x="1160" y="396" width="1" height="30" fill="#ff0000"/>
<rect x="1159" y="397" width="3" height="17" fill="#ff0000"/>
<rect x="1164" y="389" width="1" height="24" fill="#ff0000"/>
<rect x="1163" y="393" width="3" height="7" fill="#ff0000"/>
<rect x="1168" y="369" width="1" height="28" fill="#ff0000"/>
<rect x="1167" y="392" width="3" height="2" fill="#ff0000"/>
<rect x="1172" y="314" width="1" height="80" fill="#ff0000"/>
<rect x="1171" y="328" width="3" height="65" fill="#ff0000"/>
<rect x="1176" y="290" width="1" height="57" fill="#ff0000"/>
<rect x="1175" y="327" width="3" height="2" fill="#ff0000"/>
<rect x="1180" y="301" width="1" height="30" fill="#ff0000"/>
<rect x="1179" y="302" width="3" height="27" fill="#ff0000"/>
<rect x="1184" y="229" width="1" height="70" fill="#ff0000"/>
<rect x="1183" y="247" width="3" height="43" fill="#ff0000"/>
<rect x="1188" y="203" width="1" height="64" fill="#ff0000"/>
<rect x="1187" y="221" width="3" height="27" fill="#ff0000"/>
<rect x="1192" y="212" width="1" height="54" fill="#00ff00"/>
<rect x="1191" y="221" width="3" height="23" fill="#00ff00"/>
<rect x="1196" y="210" width="1" height="44" fill="#ff0000"/>
<rect x="1195" y="216" width="3" height="28" fill="#ff0000"/>
<rect x="1200" y="125" width="1" height="92" fill="#ff0000"/>
<rect x="1199" y="150" width="3" height="67" fill="#ff0000"/>
<rect x="1204" y="139" width="1" height="24" fill="#ff0000"/>
<rect x="1203" y="146" width="3" height="4" fill="#ff0000"/>
<rect x="1208" y="48" width="1" height="76" fill="#ff0000"/>
<rect x="1207" y="90" width="3" height="17" fill="#ff0000"/>
<rect x="1212" y="57" width="1" height="81" fill="#00ff00"/>
<rect x="1211" y="90" width="3" height="44" fill="#00ff00"/>
<rect x="1216" y="119" width="1" height="60" fill="#00ff00"/>
<rect x="1215" y="132" width="3" height="34" fill="#00ff00"/>
<rect x="1220" y="137" width="1" height="139" fill="#00ff00"/>
<rect x="1219" y="166" width="3" height="109" fill="#00ff00"/>
<rect x="1224" y="195" width="1" height="95" fill="#00ff00"/>
<rect x="1223" y="274" width="3" height="8" fill="#00ff00"/>
<rect x="1228" y="261" width="1" height="29" fill="#ff0000"/>
<rect x="1227" y="281" width="3" height="1" fill="#ff0000"/>
<rect x="1232" y="190" width="1" height="84" fill="#00ff00"/>
<rect x="1231" y="233" width="3" height="13" fill="#00ff00"/>
<rect x="1236" y="217" width="1" height="128" fill="#00ff00"/>
<rect x="1235" y="244" width="3" height="89" fill="#00ff00"/>
<rect x="1240" y="294" width="1" height="118" fill="#00ff00"/>
<rect x="1239" y="334" width="3" height="77" fill="#00ff00"/>
<rect x="1244" y="330" width="1" height="156" fill="#00ff00"/>
<rect x="1243" y="410" width="3" height="75" fill="#00ff00"/>
<rect x="1248" y="412" width="1" height="97" fill="#00ff00"/>
<rect x="1247" y="482" width="3" height="12" fill="#00ff00"/>
<rect x="1252" y="475" width="1" height="42" fill="#00ff00"/>
<rect x="1251" y="492" width="3" height="16" fill="#00ff00"/>
<rect x="1256" y="412" width="1" height="94" fill="#ff0000"/>
<rect x="1255" y="451" width="3" height="55" fill="#ff0000"/>
<rect x="1260" y="380" width="1" height="72" fill="#ff0000"/>
<rect x="1259" y="431" width="3" height="20" fill="#ff0000"/>
<rect x="1264" y="401" width="1" height="31" fill="#ff0000"/>
<rect x="1263" y="409" width="3" height="23" fill="#ff0000"/>
<rect x="1268" y="355" width="1" height="59" fill="#ff0000"/>
<rect x="1267" y="371" width="3" height="39" fill="#ff0000"/>
</g>
<path d="M4.5 143V144M5.5 143V144M6.5 143V144M7.5 143V144M8.5 143V144M9.5 143V144M10.5 143V144M11.5 143V144M12.5 143V144M13.5 143V144M14.5 144V145M15.5 144V145M16.5 145V146M17.5 145V146M18.5 145V146M19.5 146V147M20.5 147V148M21.5 147V148M22.5 148V149M23.5 148V149M24.5 149V150M25.5 150V151M26.5 150V151M27.5 151V152M28.5 151V152M29.5 152V153M30.5 153V154M31.5 154V155M32.5 154V155M33.5 155V156M34.5 156V157M35.5 157V158M36.5 158V159M37.5 159V160M38.5 159V160M39.5 160V161M40.5 161V162M41.5 162V163M42.5 162V163M43.5 163V164M44.5 164V165M45.5 164V165M46.5 165V166M47.5 166V167M48.5 166V167M49.5 167V168M50.5 167V168M51.5 168V169M52.5 168V169M53.5 169V170M54.5 169V170M55.5 170V171M56.5 170V171M57.5 171V172M58.5 171V172M59.5 171V172M60.5 171V172M61.5 172V173M62.5 172V173M63.5 172V173M64.5 172V173M65.5 172V173M66.5 172V173M67.5 172V173M68.5 172V173M69.5 171V172M70.5 171V172M71.5 171V172M72.5 170V171M73.5 170V171M74.5 170V171M75.5 169V170M76.5 169V170M77.5 168V169M78.5 168V169M79.5 168V169M80.5 168V169M81.5 168V169M82.5 168V169M83.5 167V168M84.5 167V168M85.5 167V168M86.5 167V168M87.5 168V169M88.5 168V169M89.5 168V169M90.5 168V169M91.5 168V169M92.5 169V170M93.5 169V170M94.5 170V171M95.5 170V171M96.5 171V172M97.5 171V172M98.5 172V173M99.5 172V173M100.5 172V173M101.5 173V174M102.5 173V174M103.5 173V174M104.5 173V174M105.5 173V174M106.5 174V175M107.5 174V175M108.5 174V175M109.5 175V176M110.5 176V177M111.5 176V177M112.5 177V178M113.5 178V179M114.5 179V180M115.5 180V181M116.5 181V182M117.5 182V183M118.5 183V184M119.5 184V185M120.5 185V186M121.5 186V187M122.5 186V187M123.5 187V188M124.5 188V189M125.5 188V189M126.5 189V190M127.5 190V191M128.5 190V191M129.5 191V192M130.5 191V192M131.5 191V192M132.5 192V193M133.5 192V193M134.5 192V193M135.5 192V193M136.5 192V193M137.5 192V193M138.5 192V193M139.5 192V193M140.5 192V193M141.5 192V193M142.5 192V193M143.5 193V194M144.5 193V194M145.5 193V194M146.5 193V194M147.5 193V194M148.5 193V194M149.5 193V194M150.5 194V195M151.5 194V195M152.5 194V195M153.5 194V195M154.5 194V195M155.5 194V195M156.5 194V195M157.5 194V195M158.5 194V195M159.5 195V196M160.5 195V196M161.5 195V196M162.5 195V196M163.5 195V196M164.5 195V196M165.5 195V196M166.5 195V196M167.5 194V195M168.5 194V195M169.5 194V195M170.5 194V195M171.5 194V195M172.5 194V195M173.5 194V195M174.5 194V195M175.5 194V195M176.5 194V195M177.5 194V195M178.5 194V195M179.5 195V196M180.5 195V196M181.5 195V196M182.5 195V196M183.5 196V197M184.5 196V197M185.5 196V197M186.5 197V198M187.5 197V198M188.5 198V199M189.5 198V199M190.5 199V200M191.5 200V201M192.5 200V201M193.5 201V202M194.5 202V203M195.5 202V203M196.5 203V204M197.5 204V205M198.5 204V205M199.5 205V206M200.5 206V207M201.5 206V207M202.5 207V208M203.5 207V208M204.5 208V209M205.5 208V209M206.5 209V210M207.5 209V210M208.5 210V211M209.5 210V211M210.5 210V211M211.5 211V212M212.5 211V212M213.5 211V212M214.5 212V213M215.5 212V213M216.5 212V213M217.5 213V214M218.5 213V214M219.5 213V214M220.5 214V215M221.5 214V215M222.5 214V215M223.5 214V215M224.5 215V216M225.5 215V216M226.5 215V216M227.5 215V216M228.5 216V217M229.5 216V217M230.5 216V217M231.5 216V217M232.5 216V217M233.5 216V217M234.5 216V217M235.5 217V218M236.5 217V218M237.5 217V218M238.5 217V218M239.5 216V217M240.5 216V217M241.5 216V217M242.5 216V217M243.5 216V217M244.5 216V217M245.5 216V217M246.5 215V216M247.5 215V216M248.5 215V216M249.5 215V216M250.5 215V216M251.5 215V216M252.5 215V216M253.5 214V215M254.5 214V215M255.5 214V215M256.5 214V215M257.5 213V214M258.5 213V214M259.5 213V214M260.5 212V213M261.5 212V213M262.5 211V212M263.5 211V212M264.5 210V211M265.5 210V211M266.5 209V210M267.5 209V210M268.5 208V209M269.5 207V208M270.5 207V208M271.5 206V207M272.5 205V206M273.5 204V205M274.5 204V205M275.5 203V204M276.5 202V203M277.5 202V203M278.5 201V202M279.5 201V202M280.5 201V202M281.5 200V201M282.5 200V201M283.5 200V201M284.5 200V201M285.5 200V201M286.5 200V201M287.5 200V201M288.5 201V202M289.5 201V202M290.5 201V202M291.5 201V202M292.5 201V202M293.5 201V202M294.5 201V202M295.5 201V202M296.5 201V202M297.5 201V202M298.5 201V202M299.5 201V202M300.5 201V202M301.5 202V203M302.5 202V203M303.5 202V203M304.5 202V203M305.5 201V202M306.5 201V202M307.5 200V201M308.5 200V201M309.5 199V200M310.5 198V199M311.5 197V198M312.5 196V197M313.5 195V196M314.5 194V195M315.5 193V194M316.5 193V194M317.5 192V193M318.5 191V192M319.5 190V191M320.5 189V190M321.5 188V189M322.5 187V188M323.5 186V187M324.5 185V186M325.5 184V185M326.5 183V184M327.5 181V183M328.5 180V181M329.5 179V180M330.5 178V179M331.5 177V178M332.5 176V177M333.5 175V176M334.5 174V175M335.5 173V174M336.5 172V173M337.5 171V172M338.5 170V171M339.5 170V171M340.5 169V170M341.5 168V169M342.5 168V169M343.5 167V168M344.5 167V168M345.5 166V167M346.5 166V167M347.5 165V166M348.5 165V166M349.5 165V166M350.5 164V165M351.5 164V165M352.5 163V164M353.5 163V164M354.5 162V163M355.5 162V163M356.5 161V162M357.5 161V162M358.5 160V161M359.5 160V161M360.5 160V161M361.5 159V160M362.5 159V160M363.5 159V160M364.5 159V160M365.5 159V160M366.5 159V160M367.5 159V160M368.5 159V160M369.5 159V160M370.5 159V160M371.5 159V160M372.5 159V160M373.5 159V160M374.5 159V160M375.5 159V160M376.5 159V160M377.5 159V160M378.5 159V160M379.5 160V161M380.5 160V161M381.5 160V161M382.5 160V161M383.5 160V161M384.5 161V162M385.5 161V162M386.5 161V162M387.5 161V162M388.5 162V163M389.5 162V163M390.5 162V163M391.5 162V163M392.5 163V164M393.5 163V164M394.5 164V165M395.5 164V165M396.5 164V165M397.5 165V166M398.5 165V166M399.5 165V166M400.5 166V167M401.5 166V167M402.5 166V167M403.5 166V167M404.5 166V167M405.5 166V167M406.5 166V167M407.5 166V167M408.5 166V167M409.5 166V167M410.5 166V167M411.5 166V167M412.5 166V167M413.5 166V167M414.5 167V168M415.5 167V168M416.5 167V168M417.5 167V168M418.5 167V168M419.5 167V168M420.5 167V168M421.5 168V169M422.5 168V169M423.5 168V169M424.5 168V169M425.5 169V170M426.5 170V171M427.5 171V172M428.5 172V173M429.5 173V174M430.5 174V175M431.5 175V176M432.5 176V177M433.5 177V178M434.5 178V179M435.5 179V180M436.5 180V181M437.5 181V182M438.5 182V183M439.5 183V184M440.5 184V185M441.5 185V186M442.5 186V187M443.5 187V188M444.5 188V189M445.5 189V190M446.5 190V191M447.5 191V192M448.5 192V193M449.5 193V194M450.5 194V195M451.5 195V197M452.5 197V198M453.5 198V200M454.5 200V201M455.5 201V203M456.5 203V204M457.5 204V205M458.5 205V206M459.5 206V207M460.5 207V208M461.5 208V209M462.5 209V210M463.5 210V211M464.5 210V211M465.5 211V212M466.5 211V212M467.5 212V213M468.5 212V213M469.5 213V214M470.5 213V214M471.5 213V214M472.5 214V215M473.5 214V215M474.5 214V215M475.5 214V215M476.5 215V216M477.5 215V216M478.5 215V216M479.5 215V216M480.5 215V216M481.5 215V216M482.5 215V216M483.5 215V216M484.5 215V216M485.5 215V216M486.5 215V216M487.5 215V216M488.5 215V216M489.5 215V216M490.5 215V216M491.5 215V216M492.5 215V216M493.5 216V217M494.5 216V217M495.5 217V218M496.5 218V219M497.5 218V219M498.5 219V220M499.5 220V221M500.5 221V222M501.5 222V223M502.5 222V223M503.5 223V224M504.5 224V225M505.5 224V225M506.5 225V226M507.5 226V227M508.5 226V227M509.5 227V228M510.5 228V229M511.5 228V229M512.5 229V230M513.5 229V230M514.5 230V231M515.5 231V232M516.5 231V232M517.5 232V233M518.5 233V234M519.5 234V235M520.5 234V235M521.5 235V236M522.5 236V237M523.5 236V237M524.5 237V238M525.5 237V238M526.5 238V239M527.5 238V239M528.5 238V239M529.5 239V240M530.5 239V240M531.5 239V240M532.5 239V240M533.5 239V240M534.5 240V241M535.5 240V241M536.5 240V241M537.5 240V241M538.5 241V242M539.5 241V242M540.5 242V243M541.5 242V243M542.5 242V243M543.5 242V243M544.5 243V244M545.5 243V244M546.5 244V245M547.5 244V245M548.5 245V246M549.5 245V246M550.5 246V247M551.5 246V247M552.5 247V248M553.5 248V249M554.5 249V250M555.5 249V250M556.5 250V251M557.5 251V252M558.5 252V253M559.5 252V253M560.5 253V254M561.5 254V255M562.5 255V256M563.5 256V257M564.5 257V258M565.5 257V258M566.5 258V259M567.5 258V259M568.5 258V259M569.5 258V259M570.5 259V260M571.5 259V260M572.5 259V260M573.5 259V260M574.5 259V260M575.5 259V260M576.5 260V261M577.5 260V261M578.5 260V261M579.5 261V262M580.5 261V262M581.5 261V262M582.5 262V263M583.5 263V264M584.5 263V264M585.5 264V265M586.5 265V266M587.5 266V267M588.5 267V268M589.5 268V269M590.5 268V269M591.5 269V270M592.5 270V271M593.5 271V272M594.5 272V273M595.5 272V273M596.5 273V274M597.5 274V275M598.5 275V276M599.5 275V276M600.5 276V277M601.5 276V277M602.5 277V278M603.5 278V279M604.5 279V280M605.5 279V280M606.5 280V281M607.5 281V282M608.5 282V283M609.5 282V283M610.5 283V284M611.5 284V285M612.5 284V285M613.5 285V286M614.5 285V286M615.5 286V287M616.5 286V287M617.5 287V288M618.5 287V288M619.5 287V288M620.5 288V289M621.5 288V289M622.5 289V290M623.5 289V290M624.5 289V290M625.5 290V291M626.5 290V291M627.5 290V291M628.5 291V292M629.5 291V292M630.5 291V292M631.5 292V293M632.5 292V293M633.5 293V294M634.5 293V294M635.5 293V294M636.5 294V295M637.5 295V296M638.5 295V296M639.5 296V297M640.5 297V298M641.5 297V298M642.5 298V299M643.5 299V300M644.5 300V301M645.5 301V302M646.5 301V302M647.5 302V303M648.5 303V304M649.5 304V305M650.5 305V306M651.5 306V307M652.5 307V308M653.5 308V309M654.5 309V310M655.5 310V311M656.5 311V312M657.5 312V313M658.5 312V313M659.5 313V314M660.5 313V314M661.5 314V315M662.5 315V316M663.5 315V316M664.5 316V317M665.5 316V317M666.5 317V318M667.5 317V318M668.5 317V318M669.5 318V319M670.5 318V319M671.5 318V319M672.5 318V319M673.5 318V319M674.5 318V319M675.5 318V319M676.5 318V319M677.5 318V319M678.5 318V319M679.5 318V319M680.5 318V319M681.5 319V320M682.5 319V320M683.5 319V320M684.5 319V320M685.5 319V320M686.5 319V320M687.5 319V320M688.5 319V320M689.5 319V320M690.5 319V320M691.5 319V320M692.5 319V320M693.5 319V320M694.5 319V320M695.5 319V320M696.5 319V320M697.5 319V320M698.5 319V320M699.5 319V320M700.5 319V320M701.5 319V320M702.5 319V320M703.5 319V320M704.5 319V320M705.5 319V320M706.5 319V320M707.5 319V320M708.5 319V320M709.5 319V320M710.5 319V320M711.5 319V320M712.5 319V320M713.5 319V320M714.5 318V319M715.5 318V319M716.5 318V319M717.5 317V318M718.5 317V318M719.5 316V317M720.5 316V317M721.5 315V316M722.5 315V316M723.5 314V315M724.5 313V314M725.5 313V314M726.5 312V313M727.5 312V313M728.5 311V312M729.5 311V312M730.5 310V311M731.5 310V311M732.5 310V311M733.5 309V310M734.5 309V310M735.5 309V310M736.5 309V310M737.5 308V309M738.5 308V309M739.5 308V309M740.5 308V309M741.5 307V308M742.5 307V308M743.5 307V308M744.5 307V308M745.5 306V307M746.5 306V307M747.5 306V307M748.5 306V307M749.5 305V306M750.5 305V306M751.5 304V305M752.5 304V305M753.5 304V305M754.5 303V304M755.5 303V304M756.5 302V303M757.5 301V302M758.5 300V301M759.5 300V301M760.5 299V300M761.5 298V299M762.5 297V298M763.5 296V297M764.5 295V296M765.5 294V295M766.5 293V294M767.5 292V293M768.5 290V292M769.5 289V290M770.5 288V289M771.5 287V288M772.5 286V287M773.5 285V286M774.5 284V285M775.5 283V284M776.5 282V283M777.5 281V282M778.5 280V281M779.5 279V280M780.5 278V279M781.5 278V279M782.5 277V278M783.5 276V277M784.5 276V277M785.5 276V277M786.5 276V277M787.5 275V276M788.5 275V276M789.5 275V276M790.5 275V276M791.5 274V275M792.5 274V275M793.5 274V275M794.5 274V275M795.5 274V275M796.5 273V274M797.5 273V274M798.5 273V274M799.5 273V274M800.5 273V274M801.5 272V273M802.5 272V273M803.5 272V273M804.5 272V273M805.5 271V272M806.5 271V272M807.5 271V272M808.5 271V272M809.5 271V272M810.5 271V272M811.5 271V272M812.5 270V271M813.5 270V271M814.5 270V271M815.5 270V271M816.5 270V271M817.5 270V271M818.5 270V271M819.5 270V271M820.5 270V271M821.5 270V271M822.5 270V271M823.5 270V271M824.5 270V271M825.5 270V271M826.5 270V271M827.5 270V271M828.5 270V271M829.5 270V271M830.5 270V271M831.5 270V271M832.5 270V271M833.5 270V271M834.5 270V271M835.5 270V271M836.5 271V272M837.5 271V272M838.5 271V272M839.5 272V273M840.5 272V273M841.5 273V274M842.5 274V275M843.5 275V276M844.5 275V276M845.5 276V277M846.5 277V278M847.5 278V279M848.5 278V279M849.5 279V280M850.5 279V280M851.5 280V281M852.5 281V282M853.5 281V282M854.5 282V283M855.5 282V283M856.5 283V284M857.5 283V284M858.5 283V284M859.5 284V285M860.5 284V285M861.5 284V285M862.5 284V285M863.5 285V286M864.5 285V286M865.5 285V286M866.5 285V286M867.5 285V286M868.5 285V286M869.5 286V287M870.5 286V287M871.5 286V287M872.5 286V287M873.5 286V287M874.5 287V288M875.5 287V288M876.5 287V288M877.5 287V288M878.5 287V288M879.5 288V289M880.5 288V289M881.5 288V289M882.5 289V290M883.5 289V290M884.5 290V291M885.5 290V291M886.5 291V292M887.5 291V292M888.5 292V293M889.5 292V293M890.5 292V293M891.5 293V294M892.5 293V294M893.5 293V294M894.5 293V294M895.5 294V295M896.5 294V295M897.5 294V295M898.5 294V295M899.5 294V295M900.5 294V295M901.5 294V295M902.5 294V295M903.5 294V295M904.5 294V295M905.5 294V295M906.5 294V295M907.5 293V294M908.5 293V294M909.5 293V294M910.5 292V293M911.5 292V293M912.5 292V293M913.5 291V292M914.5 290V291M915.5 290V291M916.5 289V290M917.5 289V290M918.5 288V289M919.5 287V288M920.5 286V287M921.5 286V287M922.5 285V286M923.5 284V285M924.5 284V285M925.5 283V284M926.5 282V283M927.5 282V283M928.5 281V282M929.5 281V282M930.5 280V281M931.5 280V281M932.5 280V281M933.5 280V281M934.5 279V280M935.5 279V280M936.5 279V280M937.5 279V280M938.5 279V280M939.5 279V280M940.5 279V280M941.5 279V280M942.5 279V280M943.5 279V280M944.5 279V280M945.5 279V280M946.5 279V280M947.5 279V280M948.5 279V280M949.5 279V280M950.5 279V280M951.5 278V279M952.5 278V279M953.5 278V279M954.5 278V279M955.5 277V278M956.5 277V278M957.5 276V277M958.5 276V277M959.5 275V276M960.5 275V276M961.5 274V275M962.5 274V275M963.5 273V274M964.5 272V273M965.5 272V273M966.5 271V272M967.5 270V271M968.5 270V271M969.5 269V270M970.5 268V269M971.5 267V268M972.5 266V267M973.5 265V266M974.5 264V265M975.5 263V264M976.5 263V264M977.5 261V263M978.5 260V261M979.5 259V260M980.5 258V259M981.5 257V258M982.5 257V258M983.5 256V257M984.5 255V256M985.5 255V256M986.5 254V255M987.5 254V255M988.5 253V254M989.5 252V253M990.5 252V253M991.5 252V253M992.5 251V252M993.5 251V252M994.5 250V251M995.5 250V251M996.5 250V251M997.5 250V251M998.5 249V250M999.5 249V250M1000.5 249V250M1001.5 249V250M1002.5 249V250M1003.5 249V250M1004.5 249V250M1005.5 248V249M1006.5 248V249M1007.5 248V249M1008.5 248V249M1009.5 248V249M1010.5 247V248M1011.5 247V248M1012.5 247V248M1013.5 246V247M1014.5 246V247M1015.5 246V247M1016.5 245V246M1017.5 245V246M1018.5 245V246M1019.5 245V246M1020.5 244V245M1021.5 244V245M1022.5 244V245M1023.5 244V245M1024.5 243V244M1025.5 243V244M1026.5 243V244M1027.5 243V244M1028.5 243V244M1029.5 243V244M1030.5 243V244M1031.5 243V244M1032.5 243V244M1033.5 243V244M1034.5 243V244M1035.5 243V244M1036.5 243V244M1037.5 244V245M1038.5 244V245M1039.5 244V245M1040.5 244V245M1041.5 245V246M1042.5 245V246M1043.5 245V246M1044.5 245V246M1045.5 246V247M1046.5 246V247M1047.5 246V247M1048.5 247V248M1049.5 247V248M1050.5 247V248M1051.5 248V249M1052.5 248V249M1053.5 248V249M1054.5 249V250M1055.5 249V250M1056.5 249V250M1057.5 250V251M1058.5 250V251M1059.5 250V251M1060.5 251V252M1061.5 251V252M1062.5 251V252M1063.5 252V253M1064.5 252V253M1065.5 252V253M1066.5 253V254M1067.5 253V254M1068.5 253V254M1069.5 254V255M1070.5 254V255M1071.5 254V255M1072.5 254V255M1073.5 255V256M1074.5 255V256M1075.5 255V256M1076.5 256V257M1077.5 256V257M1078.5 256V257M1079.5 257V258M1080.5 257V258M1081.5 257V258M1082.5 258V259M1083.5 258V259M1084.5 259V260M1085.5 259V260M1086.5 260V261M1087.5 261V262M1088.5 261V262M1089.5 262V263M1090.5 263V264M1091.5 264V265M1092.5 264V265M1093.5 265V266M1094.5 266V267M1095.5 267V268M1096.5 268V269M1097.5 269V270M1098.5 270V271M1099.5 271V273M1100.5 273V274M1101.5 273V274M1102.5 274V275M1103.5 275V276M1104.5 276V277M1105.5 277V278M1106.5 278V280M1107.5 280V281M1108.5 281V282M1109.5 282V283M1110.5 283V284M1111.5 284V285M1112.5 285V286M1113.5 286V287M1114.5 287V288M1115.5 288V289M1116.5 289V290M1117.5 290V291M1118.5 291V292M1119.5 292V293M1120.5 293V294M1121.5 294V295M1122.5 295V297M1123.5 297V298M1124.5 298V299M1125.5 299V300M1126.5 300V302M1127.5 302V303M1128.5 303V304M1129.5 304V306M1130.5 306V307M1131.5 307V308M1132.5 308V309M1133.5 309V311M1134.5 311V312M1135.5 312V313M1136.5 313V314M1137.5 314V316M1138.5 316V317M1139.5 317V319M1140.5 319V320M1141.5 320V322M1142.5 322V324M1143.5 324V325M1144.5 325V327M1145.5 327V329M1146.5 329V330M1147.5 330V332M1148.5 332V333M1149.5 333V334M1150.5 334V335M1151.5 335V336M1152.5 336V337M1153.5 337V338M1154.5 338V339M1155.5 339V340M1156.5 340V341M1157.5 341V342M1158.5 342V343M1159.5 343V345M1160.5 345V346M1161.5 346V347M1162.5 347V348M1163.5 348V349M1164.5 349V350M1165.5 350V351M1166.5 351V352M1167.5 352V353M1168.5 352V353M1169.5 353V354M1170.5 354V355M1171.5 354V355M1172.5 355V356M1173.5 355V356M1174.5 355V356M1175.5 355V356M1176.5 355V356M1177.5 355V356M1178.5 355V356M1179.5 355V356M1180.5 355V356M1181.5 355V356M1182.5 354V355M1183.5 353V354M1184.5 353V354M1185.5 352V353M1186.5 351V352M1187.5 351V352M1188.5 350V351M1189.5 349V350M1190.5 349V350M1191.5 348V349M1192.5 347V348M1193.5 346V347M1194.5 346V347M1195.5 345V346M1196.5 344V345M1197.5 343V344M1198.5 342V343M1199.5 341V342M1200.5 340V341M1201.5 339V340M1202.5 338V339M1203.5 337V338M1204.5 336V337M1205.5 335V336M1206.5 334V335M1207.5 332V334M1208.5 331V332M1209.5 329V331M1210.5 328V329M1211.5 326V328M1212.5 325V326M1213.5 324V325M1214.5 322V324M1215.5 321V322M1216.5 320V321M1217.5 319V320M1218.5 318V319M1219.5 317V318M1220.5 317V318M1221.5 316V317M1222.5 315V316M1223.5 315V316M1224.5 314V315M1225.5 314V315M1226.5 314V315M1227.5 313V314M1228.5 313V314M1229.5 312V313M1230.5 311V312M1231.5 311V312M1232.5 310V311M1233.5 309V310M1234.5 308V309M1235.5 308V309M1236.5 308V309M1237.5 308V309M1238.5 308V309M1239.5 308V309M1240.5 309V310M1241.5 309V310M1242.5 310V311M1243.5 311V312M1244.5 312V313M1245.5 313V314M1246.5 313V314M1247.5 314V315M1248.5 315V316M1249.5 316V317M1250.5 316V317M1251.5 317V318M1252.5 317V318M1253.5 318V319M1254.5 318V319M1255.5 318V319M1256.5 319V320M1257.5 319V320M1258.5 319V320M1259.5 319V320M1260.5 319V320M1261.5 319V320M1262.5 319V320M1263.5 319V320M1264.5 318V319" fill="none" stroke="#0000cd" stroke-width="1" shape-rendering="crispEdges"/>
<path d="M4.5 153V154M5.5 153V154M6.5 153V154M7.5 152V153M8.5 152V153M9.5 151V152M10.5 150V151M11.5 150V151M12.5 150V151M13.5 149V150M14.5 149V150M15.5 149V150M16.5 149V150M17.5 149V150M18.5 149V150M19.5 149V150M20.5 149V150M21.5 150V151M22.5 151V152M23.5 151V152M24.5 152V153M25.5 153V154M26.5 154V155M27.5 155V156M28.5 156V157M29.5 157V158M30.5 158V159M31.5 159V160M32.5 160V162M33.5 162V163M34.5 163V164M35.5 164V165M36.5 165V167M37.5 167V168M38.5 168V169M39.5 169V170M40.5 170V171M41.5 171V173M42.5 173V174M43.5 174V175M44.5 175V176M45.5 176V178M46.5 178V179M47.5 179V180M48.5 180V181M49.5 181V182M50.5 182V184M51.5 184V185M52.5 184V185M53.5 185V186M54.5 186V187M55.5 186V187M56.5 186V187M57.5 186V187M58.5 186V187M59.5 187V188M60.5 187V188M61.5 187V188M62.5 188V189M63.5 189V190M64.5 189V190M65.5 190V191M66.5 191V192M67.5 191V192M68.5 191V192M69.5 191V192M70.5 191V192M71.5 190V191M72.5 190V191M73.5 189V190M74.5 188V189M75.5 188V189M76.5 187V188M77.5 186V187M78.5 185V186M79.5 184V185M80.5 184V185M81.5 183V184M82.5 182V183M83.5 181V182M84.5 180V181M85.5 179V180M86.5 178V179M87.5 177V178M88.5 177V178M89.5 176V177M90.5 175V176M91.5 175V176M92.5 174V175M93.5 174V175M94.5 174V175M95.5 174V175M96.5 174V175M97.5 174V175M98.5 174V175M99.5 174V175M100.5 174V175M101.5 174V175M102.5 174V175M103.5 174V175M104.5 174V175M105.5 173V174M106.5 173V174M107.5 173V174M108.5 173V174M109.5 173V174M110.5 174V175M111.5 174V175M112.5 175V176M113.5 176V177M114.5 177V178M115.5 178V179M116.5 179V180M117.5 180V181M118.5 181V182M119.5 182V183M120.5 183V185M121.5 185V186M122.5 186V187M123.5 187V188M124.5 188V189M125.5 189V191M126.5 191V192M127.5 192V193M128.5 193V194M129.5 194V195M130.5 195V196M131.5 196V197M132.5 197V198M133.5 197V198M134.5 198V199M135.5 199V200M136.5 200V201M137.5 201V202M138.5 202V203M139.5 203V204M140.5 204V205M141.5 205V207M142.5 207V208M143.5 208V209M144.5 209V210M145.5 209V210M146.5 210V211M147.5 210V211M148.5 210V211M149.5 211V212M150.5 211V212M151.5 211V212M152.5 212V213M153.5 212V213M154.5 212V213M155.5 213V214M156.5 214V215M157.5 214V215M158.5 215V216M159.5 215V216M160.5 215V216M161.5 215V216M162.5 216V217M163.5 216V217M164.5 216V217M165.5 216V217M166.5 216V217M167.5 216V217M168.5 215V216M169.5 214V215M170.5 214V215M171.5 213V214M172.5 212V213M173.5 211V212M174.5 210V211M175.5 209V210M176.5 208V209M177.5 207V208M178.5 206V207M179.5 206V207M180.5 205V206M181.5 204V205M182.5 204V205M183.5 204V205M184.5 204V205M185.5 204V205M186.5 204V205M187.5 204V205M188.5 204V205M189.5 205V206M190.5 206V207M191.5 206V207M192.5 207V208M193.5 207V208M194.5 208V209M195.5 208V209M196.5 208V209M197.5 209V210M198.5 209V210M199.5 209V210M200.5 210V211M201.5 210V211M202.5 210V211M203.5 211V212M204.5 211V212M205.5 211V212M206.5 212V213M207.5 212V213M208.5 212V213M209.5 212V213M210.5 212V213M211.5 213V214M212.5 213V214M213.5 213V214M214.5 213V214M215.5 213V214M216.5 213V214M217.5 213V214M218.5 213V214M219.5 213V214M220.5 214V215M221.5 214V215M222.5 214V215M223.5 214V215M224.5 215V216M225.5 215V216M226.5 216V217M227.5 216V217M228.5 217V218M229.5 218V219M230.5 218V219M231.5 219V220M232.5 220V221M233.5 220V221M234.5 221V222M235.5 222V223M236.5 222V223M237.5 223V224M238.5 224V225M239.5 225V226M240.5 226V227M241.5 227V228M242.5 227V228M243.5 228V229M244.5 228V229M245.5 228V229M246.5 228V229M247.5 227V228M248.5 226V227M249.5 226V227M250.5 225V226M251.5 224V225M252.5 223V224M253.5 222V223M254.5 221V222M255.5 219V221M256.5 218V219M257.5 217V218M258.5 216V217M259.5 214V216M260.5 213V214M261.5 212V213M262.5 210V212M263.5 209V210M264.5 207V209M265.5 205V207M266.5 204V205M267.5 202V204M268.5 201V202M269.5 200V201M270.5 199V200M271.5 197V199M272.5 196V197M273.5 195V196M274.5 194V195M275.5 193V194M276.5 192V193M277.5 191V192M278.5 191V192M279.5 190V191M280.5 189V190M281.5 188V189M282.5 187V188M283.5 186V187M284.5 185V186M285.5 184V185M286.5 183V184M287.5 183V184M288.5 182V183M289.5 181V182M290.5 180V181M291.5 179V180M292.5 179V180M293.5 178V179M294.5 177V178M295.5 176V177M296.5 176V177M297.5 175V176M298.5 174V175M299.5 174V175M300.5 174V175M301.5 174V175M302.5 174V175M303.5 173V174M304.5 173V174M305.5 173V174M306.5 173V174M307.5 173V174M308.5 172V173M309.5 172V173M310.5 171V172M311.5 170V171M312.5 169V170M313.5 169V170M314.5 168V169M315.5 167V168M316.5 166V167M317.5 166V167M318.5 165V166M319.5 164V165M320.5 164V165M321.5 163V164M322.5 162V163M323.5 162V163M324.5 161V162M325.5 160V161M326.5 160V161M327.5 159V160M328.5 158V159M329.5 158V159M330.5 157V158M331.5 156V157M332.5 156V157M333.5 155V156M334.5 155V156M335.5 154V155M336.5 153V154M337.5 152V153M338.5 152V153M339.5 151V152M340.5 150V151M341.5 149V150M342.5 148V149M343.5 147V148M344.5 147V148M345.5 146V147M346.5 145V146M347.5 144V145M348.5 143V144M349.5 142V143M350.5 141V142M351.5 141V142M352.5 140V141M353.5 139V140M354.5 139V140M355.5 138V139M356.5 138V139M357.5 137V138M358.5 137V138M359.5 137V138M360.5 137V138M361.5 137V138M362.5 137V138M363.5 138V139M364.5 139V140M365.5 140V141M366.5 141V142M367.5 142V143M368.5 143V144M369.5 144V146M370.5 146V147M371.5 147V149M372.5 149V150M373.5 150V152M374.5 152V153M375.5 153V155M376.5 155V156M377.5 156V158M378.5 158V159M379.5 159V161M380.5 161V162M381.5 162V164M382.5 164V165M383.5 165V166M384.5 166V168M385.5 168V169M386.5 169V170M387.5 170V171M388.5 171V172M389.5 172V174M390.5 174V175M391.5 175V176M392.5 176V178M393.5 178V179M394.5 179V180M395.5 180V182M396.5 182V183M397.5 183V184M398.5 184V185M399.5 184V185M400.5 185V186M401.5 185V186M402.5 186V187M403.5 186V187M404.5 187V188M405.5 187V188M406.5 188V189M407.5 188V189M408.5 188V189M409.5 189V190M410.5 189V190M411.5 189V190M412.5 189V190M413.5 190V191M414.5 190V191M415.5 190V191M416.5 190V191M417.5 191V192M418.5 191V192M419.5 192V193M420.5 192V193M421.5 193V194M422.5 193V194M423.5 194V195M424.5 194V195M425.5 195V196M426.5 196V197M427.5 197V198M428.5 197V198M429.5 198V199M430.5 199V200M431.5 200V202M432.5 202V203M433.5 203V204M434.5 204V206M435.5 206V207M436.5 207V208M437.5 208V210M438.5 210V211M439.5 211V213M440.5 213V214M441.5 214V215M442.5 215V217M443.5 217V218M444.5 218V220M445.5 220V221M446.5 221V222M447.5 222V224M448.5 224V225M449.5 225V226M450.5 226V227M451.5 227V229M452.5 229V230M453.5 230V231M454.5 231V233M455.5 233V234M456.5 234V235M457.5 235V236M458.5 236V237M459.5 237V238M460.5 238V239M461.5 238V239M462.5 239V240M463.5 239V240M464.5 239V240M465.5 240V241M466.5 240V241M467.5 240V241M468.5 240V241M469.5 239V240M470.5 239V240M471.5 239V240M472.5 239V240M473.5 239V240M474.5 238V239M475.5 238V239M476.5 237V238M477.5 237V238M478.5 236V237M479.5 235V236M480.5 235V236M481.5 234V235M482.5 233V234M483.5 233V234M484.5 232V233M485.5 231V232M486.5 230V231M487.5 229V230M488.5 229V230M489.5 228V229M490.5 228V229M491.5 227V228M492.5 227V228M493.5 227V228M494.5 226V227M495.5 226V227M496.5 227V228M497.5 227V228M498.5 227V228M499.5 228V229M500.5 228V229M501.5 229V230M502.5 229V230M503.5 229V230M504.5 230V231M505.5 230V231M506.5 229V230M507.5 229V230M508.5 229V230M509.5 229V230M510.5 229V230M511.5 228V229M512.5 228V229M513.5 228V229M514.5 229V230M515.5 229V230M516.5 230V231M517.5 230V231M518.5 231V232M519.5 232V233M520.5 233V234M521.5 234V235M522.5 234V235M523.5 235V236M524.5 236V237M525.5 237V238M526.5 238V239M527.5 238V239M528.5 239V240M529.5 240V241M530.5 241V242M531.5 242V243M532.5 243V244M533.5 244V245M534.5 245V247M535.5 247V248M536.5 248V249M537.5 249V251M538.5 251V252M539.5 252V253M540.5 253V254M541.5 254V256M542.5 256V257M543.5 257V258M544.5 258V259M545.5 259V261M546.5 261V262M547.5 262V263M548.5 263V264M549.5 264V266M550.5 266V267M551.5 267V268M552.5 268V270M553.5 270V271M554.5 271V272M555.5 272V273M556.5 273V274M557.5 274V276M558.5 276V277M559.5 277V278M560.5 278V279M561.5 279V280M562.5 280V281M563.5 281V282M564.5 282V283M565.5 283V284M566.5 284V285M567.5 285V286M568.5 285V286M569.5 286V287M570.5 287V288M571.5 287V288M572.5 288V289M573.5 288V289M574.5 289V290M575.5 289V290M576.5 290V291M577.5 290V291M578.5 291V292M579.5 291V292M580.5 292V293M581.5 293V294M582.5 294V296M583.5 296V297M584.5 297V298M585.5 298V299M586.5 299V300M587.5 300V301M588.5 301V302M589.5 302V303M590.5 303V304M591.5 303V304M592.5 304V305M593.5 304V305M594.5 305V306M595.5 305V306M596.5 305V306M597.5 306V307M598.5 306V307M599.5 306V307M600.5 306V307M601.5 306V307M602.5 306V307M603.5 306V307M604.5 306V307M605.5 306V307M606.5 305V306M607.5 305V306M608.5 304V305M609.5 304V305M610.5 303V304M611.5 302V303M612.5 301V302M613.5 300V301M614.5 299V300M615.5 299V300M616.5 298V299M617.5 297V298M618.5 296V297M619.5 296V297M620.5 295V296M621.5 295V296M622.5 295V296M623.5 295V296M624.5 295V296M625.5 295V296M626.5 295V296M627.5 295V296M628.5 295V296M629.5 296V297M630.5 296V297M631.5 297V298M632.5 297V298M633.5 298V299M634.5 298V299M635.5 299V300M636.5 300V301M637.5 300V301M638.5 301V302M639.5 302V303M640.5 303V304M641.5 304V305M642.5 305V306M643.5 305V306M644.5 306V307M645.5 307V308M646.5 308V309M647.5 309V310M648.5 309V310M649.5 310V311M650.5 311V312M651.5 312V314M652.5 314V315M653.5 315V317M654.5 317V318M655.5 318V320M656.5 320V321M657.5 321V322M658.5 322V324M659.5 324V325M660.5 325V326M661.5 326V327M662.5 327V328M663.5 328V329M664.5 328V329M665.5 329V330M666.5 330V331M667.5 331V332M668.5 332V333M669.5 333V334M670.5 333V334M671.5 334V335M672.5 335V336M673.5 335V336M674.5 336V337M675.5 337V338M676.5 337V338M677.5 338V339M678.5 338V339M679.5 339V340M680.5 339V340M681.5 340V341M682.5 340V341M683.5 340V341M684.5 341V342M685.5 341V342M686.5 341V342M687.5 341V342M688.5 342V343M689.5 341V342M690.5 341V342M691.5 341V342M692.5 341V342M693.5 341V342M694.5 340V341M695.5 340V341M696.5 339V340M697.5 338V339M698.5 337V338M699.5 335V337M700.5 334V335M701.5 333V334M702.5 332V333M703.5 331V332M704.5 331V332M705.5 330V331M706.5 329V330M707.5 328V329M708.5 327V328M709.5 325V327M710.5 323V325M711.5 320V323M712.5 318V320M713.5 315V318M714.5 313V315M715.5 311V313M716.5 310V311M717.5 308V310M718.5 306V308M719.5 305V306M720.5 303V305M721.5 301V303M722.5 300V301M723.5 298V300M724.5 296V298M725.5 295V296M726.5 293V295M727.5 292V293M728.5 290V292M729.5 289V290M730.5 287V289M731.5 286V287M732.5 284V286M733.5 283V284M734.5 282V283M735.5 280V282M736.5 279V280M737.5 278V279M738.5 276V278M739.5 275V276M740.5 274V275M741.5 273V274M742.5 272V273M743.5 271V272M744.5 270V271M745.5 269V270M746.5 268V269M747.5 267V268M748.5 266V267M749.5 266V267M750.5 265V266M751.5 265V266M752.5 264V265M753.5 263V264M754.5 263V264M755.5 263V264M756.5 262V263M757.5 262V263M758.5 261V262M759.5 261V262M760.5 260V261M761.5 259V260M762.5 257V259M763.5 256V257M764.5 255V256M765.5 254V255M766.5 253V254M767.5 252V253M768.5 251V252M769.5 250V251M770.5 249V250M771.5 249V250M772.5 249V250M773.5 249V250M774.5 249V250M775.5 249V250M776.5 249V250M777.5 249V250M778.5 250V251M779.5 250V251M780.5 251V252M781.5 251V252M782.5 252V253M783.5 253V254M784.5 254V255M785.5 255V256M786.5 256V257M787.5 257V258M788.5 258V259M789.5 259V260M790.5 260V261M791.5 260V261M792.5 261V262M793.5 262V263M794.5 262V263M795.5 263V264M796.5 264V265M797.5 264V265M798.5 265V266M799.5 266V267M800.5 266V267M801.5 267V268M802.5 268V269M803.5 268V269M804.5 269V270M805.5 270V271M806.5 271V272M807.5 271V272M808.5 272V273M809.5 273V274M810.5 274V275M811.5 275V276M812.5 276V277M813.5 277V278M814.5 278V279M815.5 279V280M816.5 280V281M817.5 280V281M818.5 281V282M819.5 282V283M820.5 282V283M821.5 283V284M822.5 284V285M823.5 285V286M824.5 286V287M825.5 287V288M826.5 288V289M827.5 289V291M828.5 291V292M829.5 292V293M830.5 292V293M831.5 293V294M832.5 293V294M833.5 294V295M834.5 294V295M835.5 294V295M836.5 294V295M837.5 294V295M838.5 294V295M839.5 294V295M840.5 295V296M841.5 295V296M842.5 295V296M843.5 296V297M844.5 296V297M845.5 296V297M846.5 297V298M847.5 297V298M848.5 297V298M849.5 298V299M850.5 298V299M851.5 298V299M852.5 298V299M853.5 299V300M854.5 299V300M855.5 299V300M856.5 299V300M857.5 299V300M858.5 299V300M859.5 299V300M860.5 299V300M861.5 299V300M862.5 299V300M863.5 299V300M864.5 299V300M865.5 298V299M866.5 298V299M867.5 298V299M868.5 298V299M869.5 298V299M870.5 298V299M871.5 297V298M872.5 297V298M873.5 297V298M874.5 297V298M875.5 296V297M876.5 296V297M877.5 296V297M878.5 295V296M879.5 295V296M880.5 295V296M881.5 295V296M882.5 295V296M883.5 295V296M884.5 295V296M885.5 295V296M886.5 295V296M887.5 295V296M888.5 295V296M889.5 295V296M890.5 296V297M891.5 296V297M892.5 296V297M893.5 296V297M894.5 296V297M895.5 296V297M896.5 295V296M897.5 295V296M898.5 294V295M899.5 293V294M900.5 292V293M901.5 292V293M902.5 291V292M903.5 290V291M904.5 289V290M905.5 288V289M906.5 287V288M907.5 286V287M908.5 285V286M909.5 283V285M910.5 282V283M911.5 281V282M912.5 279V281M913.5 278V279M914.5 277V278M915.5 276V277M916.5 275V276M917.5 274V275M918.5 273V274M919.5 272V273M920.5 271V272M921.5 270V271M922.5 269V270M923.5 268V269M924.5 267V268M925.5 266V267M926.5 266V267M927.5 265V266M928.5 264V265M929.5 264V265M930.5 264V265M931.5 263V264M932.5 263V264M933.5 263V264M934.5 263V264M935.5 263V264M936.5 263V264M937.5 263V264M938.5 263V264M939.5 263V264M940.5 263V264M941.5 263V264M942.5 263V264M943.5 262V263M944.5 262V263M945.5 262V263M946.5 261V262M947.5 261V262M948.5 261V262M949.5 261V262M950.5 261V262M951.5 261V262M952.5 261V262M953.5 261V262M954.5 261V262M955.5 260V261M956.5 260V261M957.5 259V260M958.5 259V260M959.5 258V259M960.5 258V259M961.5 257V258M962.5 256V257M963.5 255V256M964.5 255V256M965.5 254V255M966.5 253V254M967.5 252V253M968.5 251V252M969.5 250V251M970.5 249V250M971.5 248V249M972.5 248V249M973.5 247V248M974.5 247V248M975.5 246V247M976.5 246V247M977.5 245V246M978.5 245V246M979.5 245V246M980.5 244V245M981.5 244V245M982.5 243V244M983.5 243V244M984.5 243V244M985.5 242V243M986.5 241V242M987.5 241V242M988.5 240V241M989.5 239V240M990.5 238V239M991.5 237V238M992.5 236V237M993.5 235V236M994.5 234V235M995.5 234V235M996.5 233V234M997.5 232V233M998.5 232V233M999.5 231V232M1000.5 231V232M1001.5 231V232M1002.5 231V232M1003.5 231V232M1004.5 230V231M1005.5 230V231M1006.5 230V231M1007.5 230V231M1008.5 230V231M1009.5 229V230M1010.5 229V230M1011.5 229V230M1012.5 229V230M1013.5 229V230M1014.5 229V230M1015.5 230V231M1016.5 230V231M1017.5 230V231M1018.5 231V232M1019.5 231V232M1020.5 231V232M1021.5 232V233M1022.5 233V234M1023.5 233V234M1024.5 234V235M1025.5 234V235M1026.5 235V236M1027.5 236V237M1028.5 236V237M1029.5 237V238M1030.5 238V239M1031.5 239V240M1032.5 240V241M1033.5 241V242M1034.5 242V244M1035.5 244V245M1036.5 245V246M1037.5 246V247M1038.5 247V248M1039.5 248V249M1040.5 249V250M1041.5 249V250M1042.5 250V251M1043.5 251V252M1044.5 252V253M1045.5 253V254M1046.5 254V255M1047.5 255V256M1048.5 256V257M1049.5 257V258M1050.5 258V259M1051.5 259V260M1052.5 260V261M1053.5 261V262M1054.5 262V263M1055.5 263V264M1056.5 263V264M1057.5 264V265M1058.5 265V266M1059.5 266V267M1060.5 267V268M1061.5 268V269M1062.5 269V270M1063.5 270V271M1064.5 271V272M1065.5 272V273M1066.5 273V274M1067.5 274V276M1068.5 276V277M1069.5 277V278M1070.5 278V279M1071.5 279V280M1072.5 280V281M1073.5 281V282M1074.5 282V283M1075.5 283V284M1076.5 284V285M1077.5 285V286M1078.5 285V286M1079.5 286V287M1080.5 286V287M1081.5 287V288M1082.5 287V288M1083.5 288V289M1084.5 288V289M1085.5 289V290M1086.5 289V290M1087.5 289V290M1088.5 290V291M1089.5 290V291M1090.5 291V292M1091.5 291V292M1092.5 292V293M1093.5 293V294M1094.5 294V295M1095.5 295V296M1096.5 296V297M1097.5 297V298M1098.5 298V299M1099.5 299V300M1100.5 300V301M1101.5 301V302M1102.5 302V303M1103.5 303V304M1104.5 304V305M1105.5 305V306M1106.5 306V307M1107.5 307V308M1108.5 308V309M1109.5 309V310M1110.5 310V311M1111.5 311V312M1112.5 312V313M1113.5 313V314M1114.5 314V315M1115.5 315V316M1116.5 316V318M1117.5 318V319M1118.5 319V320M1119.5 320V322M1120.5 322V323M1121.5 323V324M1122.5 324V326M1123.5 326V328M1124.5 328V329M1125.5 329V331M1126.5 331V333M1127.5 333V334M1128.5 334V336M1129.5 336V338M1130.5 338V339M1131.5 339V341M1132.5 341V343M1133.5 343V345M1134.5 345V347M1135.5 347V349M1136.5 349V351M1137.5 351V354M1138.5 354V356M1139.5 356V359M1140.5 359V361M1141.5 361V364M1142.5 364V367M1143.5 367V369M1144.5 369V371M1145.5 371V373M1146.5 373V376M1147.5 376V377M1148.5 377V379M1149.5 379V381M1150.5 381V383M1151.5 383V385M1152.5 385V386M1153.5 386V388M1154.5 388V389M1155.5 389V390M1156.5 390V391M1157.5 391V393M1158.5 393V394M1159.5 394V395M1160.5 395V396M1161.5 396V397M1162.5 397V398M1163.5 398V399M1164.5 399V400M1165.5 399V400M1166.5 400V401M1167.5 401V402M1168.5 401V402M1169.5 401V402M1170.5 401V402M1171.5 400V401M1172.5 400V401M1173.5 399V400M1174.5 398V399M1175.5 397V398M1176.5 396V397M1177.5 395V396M1178.5 393V395M1179.5 391V393M1180.5 388V391M1181.5 385V388M1182.5 382V385M1183.5 378V382M1184.5 375V378M1185.5 372V375M1186.5 369V372M1187.5 365V369M1188.5 362V365M1189.5 359V362M1190.5 356V359M1191.5 353V356M1192.5 350V353M1193.5 346V350M1194.5 343V346M1195.5 339V343M1196.5 336V339M1197.5 331V336M1198.5 326V331M1199.5 321V326M1200.5 316V321M1201.5 311V316M1202.5 305V311M1203.5 299V305M1204.5 294V299M1205.5 288V294M1206.5 283V288M1207.5 278V283M1208.5 273V278M1209.5 268V273M1210.5 263V268M1211.5 259V263M1212.5 254V259M1213.5 250V254M1214.5 246V250M1215.5 242V246M1216.5 239V242M1217.5 236V239M1218.5 234V236M1219.5 231V234M1220.5 229V231M1221.5 227V229M1222.5 226V227M1223.5 224V226M1224.5 223V224M1225.5 222V223M1226.5 221V222M1227.5 220V221M1228.5 218V220M1229.5 217V218M1230.5 216V217M1231.5 215V216M1232.5 214V215M1233.5 214V215M1234.5 214V215M1235.5 215V216M1236.5 216V218M1237.5 218V220M1238.5 220V224M1239.5 224V227M1240.5 227V231M1241.5 231V235M1242.5 235V240M1243.5 240V244M1244.5 244V248M1245.5 248V253M1246.5 253V258M1247.5 258V263M1248.5 263V269M1249.5 269V274M1250.5 274V279M1251.5 279V284M1252.5 284V289M1253.5 289V294M1254.5 294V298M1255.5 298V303M1256.5 303V308M1257.5 308V313M1258.5 313V318M1259.5 318V324M1260.5 324V331M1261.5 331V337M1262.5 337V341M1263.5 341V346M1264.5 346V350M1265.5 350V355M1266.5 355V359M1267.5 359V364M1268.5 364V365" fill="none" stroke="#ff0000" stroke-width="1" shape-rendering="crispEdges"/>
<path d="M4.5 140V141M5.5 140V141M6.5 141V142M7.5 142V143M8.5 142V143M9.5 143V144M10.5 144V146M11.5 146V148M12.5 148V151M13.5 151V153M14.5 153V156M15.5 156V159M16.5 159V161M17.5 161V164M18.5 164V166M19.5 166V167M20.5 167V169M21.5 169V171M22.5 171V172M23.5 172V174M24.5 174V176M25.5 176V178M26.5 178V181M27.5 181V183M28.5 183V186M29.5 186V189M30.5 189V192M31.5 192V194M32.5 194V196M33.5 196V198M34.5 198V200M35.5 200V201M36.5 201V202M37.5 202V203M38.5 202V203M39.5 203V204M40.5 203V204M41.5 203V204M42.5 203V204M43.5 203V204M44.5 203V204M45.5 203V204M46.5 203V204M47.5 202V203M48.5 202V203M49.5 202V203M50.5 202V203M51.5 201V202M52.5 200V201M53.5 199V200M54.5 198V200M55.5 197V198M56.5 196V197M57.5 194V196M58.5 192V194M59.5 190V192M60.5 189V190M61.5 187V189M62.5 185V187M63.5 184V185M64.5 182V184M65.5 181V182M66.5 179V181M67.5 178V179M68.5 176V178M69.5 175V176M70.5 173V175M71.5 172V173M72.5 170V172M73.5 169V170M74.5 168V169M75.5 167V168M76.5 166V167M77.5 165V166M78.5 164V165M79.5 163V164M80.5 162V163M81.5 162V163M82.5 161V162M83.5 160V161M84.5 159V160M85.5 158V159M86.5 157V158M87.5 157V158M88.5 157V158M89.5 157V158M90.5 158V160M91.5 160V162M92.5 162V164M93.5 164V166M94.5 166V168M95.5 168V169M96.5 169V171M97.5 171V172M98.5 172V173M99.5 173V174M100.5 174V175M101.5 175V177M102.5 177V178M103.5 178V180M104.5 180V182M105.5 182V183M106.5 183V185M107.5 185V187M108.5 187V189M109.5 189V191M110.5 191V193M111.5 193V195M112.5 195V198M113.5 198V200M114.5 200V202M115.5 202V205M116.5 205V207M117.5 207V210M118.5 210V212M119.5 212V215M120.5 215V218M121.5 218V220M122.5 220V222M123.5 222V224M124.5 224V226M125.5 226V227M126.5 227V228M127.5 228V229M128.5 229V230M129.5 230V231M130.5 230V231M131.5 229V230M132.5 229V230M133.5 228V229M134.5 227V228M135.5 225V227M136.5 223V225M137.5 221V223M138.5 219V221M139.5 218V219M140.5 216V218M141.5 214V216M142.5 213V214M143.5 212V213M144.5 211V212M145.5 211V212M146.5 210V211M147.5 210V211M148.5 210V211M149.5 210V211M150.5 210V211M151.5 210V211M152.5 211V212M153.5 212V213M154.5 213V214M155.5 214V215M156.5 215V216M157.5 215V216M158.5 214V215M159.5 212V214M160.5 211V212M161.5 210V211M162.5 209V210M163.5 208V209M164.5 207V208M165.5 206V207M166.5 205V206M167.5 204V205M168.5 203V204M169.5 202V203M170.5 201V202M171.5 199V201M172.5 198V199M173.5 197V198M174.5 196V197M175.5 195V196M176.5 194V195M177.5 194V195M178.5 194V195M179.5 194V195M180.5 194V195M181.5 195V196M182.5 196V197M183.5 197V198M184.5 197V198M185.5 198V200M186.5 200V201M187.5 201V202M188.5 202V203M189.5 203V204M190.5 204V206M191.5 206V208M192.5 208V209M193.5 209V211M194.5 211V213M195.5 213V214M196.5 214V216M197.5 216V218M198.5 218V219M199.5 219V221M200.5 221V222M201.5 222V223M202.5 223V225M203.5 225V226M204.5 226V227M205.5 227V228M206.5 228V229M207.5 229V230M208.5 230V231M209.5 231V232M210.5 231V232M211.5 231V232M212.5 231V232M213.5 230V231M214.5 230V231M215.5 228V230M216.5 227V228M217.5 225V227M218.5 224V225M219.5 222V224M220.5 221V222M221.5 220V221M222.5 219V220M223.5 218V219M224.5 217V218M225.5 216V217M226.5 215V216M227.5 215V216M228.5 215V216M229.5 216V217M230.5 217V218M231.5 218V219M232.5 219V220M233.5 220V221M234.5 221V222M235.5 222V224M236.5 224V225M237.5 225V227M238.5 227V229M239.5 229V230M240.5 230V231M241.5 231V232M242.5 232V233M243.5 232V233M244.5 233V234M245.5 233V234M246.5 233V234M247.5 233V234M248.5 232V233M249.5 230V232M250.5 228V230M251.5 225V228M252.5 221V225M253.5 218V221M254.5 214V218M255.5 210V214M256.5 207V210M257.5 203V207M258.5 199V203M259.5 195V199M260.5 191V195M261.5 186V191M262.5 182V186M263.5 178V182M264.5 175V178M265.5 171V175M266.5 168V171M267.5 165V168M268.5 162V165M269.5 159V162M270.5 157V159M271.5 154V157M272.5 152V154M273.5 150V152M274.5 149V150M275.5 147V149M276.5 146V147M277.5 145V146M278.5 144V145M279.5 144V145M280.5 144V145M281.5 144V145M282.5 145V146M283.5 146V148M284.5 148V150M285.5 150V152M286.5 152V154M287.5 154V157M288.5 157V159M289.5 159V162M290.5 162V165M291.5 165V168M292.5 168V171M293.5 171V174M294.5 174V177M295.5 177V180M296.5 180V183M297.5 183V186M298.5 186V189M299.5 189V192M300.5 192V195M301.5 195V197M302.5 197V199M303.5 199V200M304.5 200V201M305.5 201V202M306.5 201V202M307.5 200V202M308.5 198V200M309.5 195V198M310.5 191V195M311.5 187V191M312.5 183V187M313.5 178V183M314.5 173V178M315.5 169V173M316.5 164V169M317.5 159V164M318.5 154V159M319.5 148V154M320.5 143V148M321.5 138V143M322.5 133V138M323.5 129V133M324.5 126V129M325.5 123V126M326.5 120V123M327.5 118V120M328.5 116V118M329.5 115V116M330.5 113V115M331.5 112V113M332.5 111V112M333.5 111V112M334.5 110V111M335.5 110V111M336.5 110V111M337.5 110V111M338.5 110V111M339.5 111V112M340.5 112V113M341.5 113V114M342.5 114V116M343.5 116V118M344.5 118V120M345.5 120V123M346.5 123V125M347.5 125V127M348.5 127V129M349.5 129V131M350.5 131V133M351.5 133V135M352.5 135V138M353.5 138V140M354.5 140V143M355.5 143V146M356.5 146V150M357.5 150V154M358.5 154V158M359.5 158V162M360.5 162V165M361.5 165V169M362.5 169V173M363.5 173V176M364.5 176V179M365.5 179V182M366.5 182V185M367.5 185V187M368.5 187V189M369.5 189V191M370.5 191V192M371.5 192V194M372.5 194V195M373.5 195V196M374.5 195V196M375.5 196V197M376.5 196V197M377.5 196V197M378.5 195V196M379.5 194V195M380.5 193V194M381.5 192V193M382.5 191V192M383.5 189V191M384.5 187V189M385.5 185V187M386.5 184V185M387.5 182V184M388.5 180V182M389.5 178V180M390.5 176V178M391.5 175V176M392.5 174V175M393.5 173V174M394.5 174V176M395.5 176V178M396.5 178V180M397.5 180V182M398.5 182V183M399.5 183V184M400.5 184V185M401.5 185V186M402.5 186V187M403.5 187V188M404.5 188V189M405.5 189V190M406.5 189V190M407.5 190V191M408.5 191V192M409.5 192V193M410.5 192V193M411.5 193V194M412.5 194V195M413.5 195V196M414.5 196V197M415.5 197V198M416.5 198V199M417.5 199V201M418.5 201V203M419.5 203V205M420.5 205V207M421.5 207V209M422.5 209V211M423.5 211V213M424.5 213V215M425.5 215V217M426.5 217V220M427.5 220V223M428.5 223V225M429.5 225V228M430.5 228V231M431.5 231V233M432.5 233V236M433.5 236V238M434.5 238V240M435.5 240V242M436.5 242V243M437.5 243V244M438.5 244V245M439.5 244V245M440.5 244V245M441.5 244V245M442.5 244V245M443.5 243V244M444.5 243V244M445.5 244V245M446.5 244V245M447.5 245V246M448.5 246V247M449.5 247V248M450.5 248V249M451.5 249V250M452.5 250V251M453.5 251V252M454.5 252V253M455.5 253V254M456.5 254V255M457.5 255V256M458.5 256V257M459.5 257V258M460.5 257V258M461.5 257V258M462.5 256V258M463.5 255V256M464.5 253V255M465.5 250V253M466.5 247V250M467.5 244V247M468.5 240V244M469.5 236V240M470.5 233V236M471.5 229V233M472.5 225V229M473.5 222V225M474.5 219V222M475.5 216V219M476.5 213V216M477.5 210V213M478.5 208V210M479.5 207V208M480.5 205V207M481.5 204V205M482.5 203V204M483.5 203V204M484.5 202V203M485.5 201V202M486.5 201V202M487.5 200V201M488.5 200V201M489.5 201V202M490.5 201V202M491.5 202V203M492.5 203V205M493.5 205V207M494.5 207V209M495.5 209V211M496.5 211V214M497.5 214V217M498.5 217V220M499.5 220V223M500.5 223V226M501.5 226V229M502.5 229V232M503.5 232V235M504.5 235V239M505.5 239V242M506.5 242V245M507.5 245V248M508.5 248V251M509.5 251V254M510.5 254V256M511.5 256V259M512.5 259V261M513.5 261V263M514.5 263V265M515.5 265V266M516.5 266V267M517.5 267V268M518.5 267V268M519.5 268V269M520.5 268V269M521.5 268V269M522.5 267V268M523.5 267V268M524.5 267V268M525.5 266V267M526.5 265V266M527.5 264V265M528.5 262V264M529.5 261V262M530.5 260V261M531.5 259V260M532.5 258V259M533.5 257V258M534.5 256V257M535.5 255V256M536.5 255V256M537.5 255V256M538.5 255V256M539.5 255V256M540.5 255V256M541.5 255V256M542.5 255V256M543.5 256V257M544.5 256V257M545.5 257V259M546.5 259V262M547.5 262V266M548.5 266V269M549.5 269V274M550.5 274V278M551.5 278V282M552.5 282V286M553.5 286V290M554.5 290V294M555.5 294V298M556.5 298V302M557.5 302V305M558.5 305V309M559.5 309V312M560.5 312V315M561.5 315V318M562.5 318V321M563.5 321V323M564.5 323V324M565.5 324V325M566.5 325V326M567.5 326V327M568.5 326V327M569.5 326V327M570.5 325V326M571.5 324V325M572.5 322V324M573.5 321V322M574.5 319V321M575.5 317V319M576.5 315V317M577.5 312V315M578.5 310V312M579.5 308V310M580.5 306V308M581.5 304V306M582.5 302V304M583.5 300V302M584.5 299V300M585.5 298V299M586.5 297V298M587.5 297V298M588.5 297V298M589.5 297V298M590.5 298V299M591.5 298V299M592.5 298V299M593.5 297V298M594.5 297V298M595.5 296V297M596.5 295V296M597.5 294V295M598.5 293V294M599.5 292V293M600.5 292V293M601.5 291V292M602.5 291V292M603.5 291V292M604.5 291V292M605.5 292V293M606.5 292V293M607.5 293V294M608.5 294V295M609.5 294V295M610.5 293V295M611.5 291V293M612.5 289V291M613.5 288V289M614.5 287V288M615.5 286V287M616.5 287V288M617.5 288V289M618.5 289V290M619.5 290V291M620.5 291V292M621.5 292V293M622.5 293V294M623.5 293V294M624.5 294V295M625.5 295V296M626.5 296V297M627.5 297V299M628.5 299V300M629.5 300V302M630.5 302V304M631.5 304V305M632.5 305V307M633.5 307V309M634.5 309V311M635.5 311V312M636.5 312V314M637.5 314V316M638.5 316V318M639.5 318V320M640.5 320V322M641.5 322V324M642.5 324V326M643.5 326V329M644.5 329V331M645.5 331V333M646.5 333V336M647.5 336V338M648.5 338V340M649.5 340V342M650.5 342V344M651.5 344V346M652.5 346V348M653.5 348V350M654.5 350V351M655.5 351V353M656.5 353V354M657.5 354V355M658.5 355V356M659.5 356V357M660.5 357V358M661.5 357V358M662.5 357V358M663.5 357V358M664.5 356V357M665.5 355V356M666.5 355V356M667.5 354V355M668.5 352V354M669.5 351V352M670.5 350V351M671.5 348V350M672.5 347V348M673.5 345V347M674.5 343V345M675.5 341V343M676.5 339V341M677.5 337V339M678.5 336V337M679.5 335V336M680.5 334V335M681.5 333V334M682.5 333V334M683.5 332V333M684.5 332V333M685.5 332V333M686.5 332V333M687.5 333V334M688.5 333V334M689.5 332V333M690.5 331V332M691.5 330V331M692.5 328V330M693.5 327V328M694.5 325V327M695.5 324V325M696.5 322V324M697.5 321V322M698.5 319V321M699.5 317V319M700.5 315V317M701.5 314V315M702.5 312V314M703.5 310V312M704.5 308V310M705.5 306V308M706.5 304V306M707.5 302V304M708.5 300V302M709.5 297V300M710.5 295V297M711.5 293V295M712.5 291V293M713.5 288V291M714.5 286V288M715.5 283V286M716.5 280V283M717.5 277V280M718.5 275V277M719.5 272V275M720.5 269V272M721.5 265V269M722.5 262V265M723.5 258V262M724.5 255V258M725.5 252V255M726.5 249V252M727.5 247V249M728.5 245V247M729.5 243V245M730.5 242V243M731.5 240V242M732.5 239V240M733.5 239V240M734.5 239V240M735.5 239V240M736.5 240V241M737.5 241V242M738.5 242V243M739.5 243V244M740.5 244V246M741.5 246V248M742.5 248V250M743.5 250V252M744.5 252V254M745.5 254V256M746.5 256V259M747.5 259V261M748.5 261V263M749.5 263V265M750.5 265V266M751.5 266V267M752.5 267V268M753.5 268V269M754.5 268V269M755.5 268V269M756.5 268V269M757.5 268V269M758.5 268V269M759.5 267V268M760.5 265V267M761.5 264V265M762.5 262V264M763.5 259V262M764.5 257V259M765.5 255V257M766.5 252V255M767.5 249V252M768.5 246V249M769.5 244V246M770.5 242V244M771.5 240V242M772.5 239V240M773.5 238V239M774.5 237V238M775.5 236V237M776.5 235V236M777.5 234V235M778.5 235V236M779.5 236V238M780.5 238V240M781.5 240V242M782.5 242V244M783.5 244V247M784.5 247V250M785.5 250V252M786.5 252V255M787.5 255V259M788.5 259V263M789.5 263V267M790.5 267V272M791.5 272V277M792.5 277V281M793.5 281V284M794.5 284V287M795.5 287V289M796.5 289V291M797.5 291V293M798.5 293V295M799.5 295V297M800.5 297V298M801.5 298V300M802.5 300V301M803.5 301V303M804.5 303V304M805.5 304V305M806.5 305V306M807.5 306V307M808.5 307V308M809.5 308V309M810.5 308V309M811.5 309V310M812.5 309V310M813.5 309V310M814.5 309V310M815.5 308V309M816.5 308V309M817.5 307V308M818.5 306V307M819.5 305V306M820.5 304V305M821.5 302V304M822.5 301V302M823.5 299V301M824.5 298V299M825.5 296V298M826.5 295V296M827.5 293V295M828.5 291V293M829.5 289V291M830.5 287V289M831.5 286V287M832.5 284V286M833.5 283V284M834.5 282V283M835.5 281V282M836.5 280V281M837.5 279V280M838.5 280V281M839.5 280V281M840.5 281V283M841.5 283V284M842.5 284V286M843.5 286V288M844.5 288V291M845.5 291V294M846.5 294V296M847.5 296V298M848.5 298V300M849.5 300V301M850.5 301V303M851.5 303V304M852.5 304V305M853.5 305V306M854.5 306V307M855.5 307V308M856.5 308V309M857.5 309V310M858.5 310V311M859.5 311V312M860.5 312V313M861.5 312V313M862.5 313V314M863.5 313V314M864.5 313V314M865.5 313V314M866.5 313V314M867.5 313V314M868.5 312V313M869.5 311V312M870.5 309V311M871.5 308V309M872.5 306V308M873.5 304V306M874.5 302V304M875.5 300V302M876.5 297V300M877.5 295V297M878.5 292V295M879.5 290V292M880.5 288V290M881.5 287V288M882.5 285V287M883.5 283V285M884.5 282V283M885.5 281V282M886.5 280V281M887.5 279V280M888.5 278V279M889.5 277V278M890.5 277V278M891.5 277V278M892.5 278V279M893.5 279V280M894.5 279V280M895.5 279V280M896.5 280V281M897.5 280V281M898.5 280V281M899.5 280V281M900.5 280V281M901.5 280V281M902.5 280V281M903.5 280V281M904.5 279V280M905.5 278V279M906.5 277V278M907.5 275V277M908.5 274V275M909.5 272V274M910.5 270V272M911.5 267V270M912.5 265V267M913.5 263V265M914.5 261V263M915.5 259V261M916.5 257V259M917.5 255V257M918.5 254V255M919.5 252V254M920.5 251V252M921.5 250V251M922.5 248V250M923.5 247V248M924.5 246V247M925.5 246V247M926.5 245V246M927.5 244V245M928.5 244V245M929.5 245V246M930.5 245V246M931.5 246V247M932.5 247V249M933.5 249V250M934.5 250V251M935.5 251V253M936.5 253V254M937.5 254V256M938.5 256V258M939.5 258V259M940.5 259V261M941.5 261V263M942.5 263V264M943.5 264V266M944.5 266V267M945.5 267V268M946.5 268V269M947.5 269V270M948.5 270V271M949.5 271V272M950.5 272V273M951.5 273V274M952.5 274V275M953.5 274V275M954.5 274V275M955.5 273V274M956.5 272V273M957.5 270V272M958.5 267V270M959.5 265V267M960.5 262V265M961.5 259V262M962.5 255V259M963.5 251V255M964.5 247V251M965.5 243V247M966.5 240V243M967.5 236V240M968.5 233V236M969.5 230V233M970.5 227V230M971.5 224V227M972.5 222V224M973.5 219V222M974.5 217V219M975.5 215V217M976.5 213V215M977.5 211V213M978.5 210V211M979.5 209V210M980.5 208V209M981.5 208V209M982.5 208V209M983.5 209V210M984.5 209V210M985.5 210V211M986.5 210V211M987.5 211V213M988.5 213V214M989.5 214V215M990.5 215V217M991.5 217V218M992.5 218V220M993.5 220V221M994.5 221V223M995.5 223V224M996.5 224V226M997.5 226V228M998.5 228V230M999.5 230V231M1000.5 231V233M1001.5 233V235M1002.5 235V237M1003.5 237V238M1004.5 238V240M1005.5 240V242M1006.5 242V244M1007.5 244V245M1008.5 245V247M1009.5 247V248M1010.5 248V249M1011.5 249V250M1012.5 250V251M1013.5 251V252M1014.5 252V253M1015.5 252V253M1016.5 253V254M1017.5 253V254M1018.5 253V254M1019.5 253V254M1020.5 252V253M1021.5 252V253M1022.5 251V252M1023.5 250V251M1024.5 249V250M1025.5 248V249M1026.5 247V248M1027.5 247V248M1028.5 247V248M1029.5 247V248M1030.5 247V248M1031.5 248V249M1032.5 248V249M1033.5 249V250M1034.5 250V251M1035.5 251V252M1036.5 252V254M1037.5 254V255M1038.5 255V256M1039.5 256V257M1040.5 257V259M1041.5 259V260M1042.5 260V261M1043.5 261V263M1044.5 263V264M1045.5 264V265M1046.5 265V266M1047.5 266V267M1048.5 267V268M1049.5 268V270M1050.5 270V272M1051.5 272V274M1052.5 274V276M1053.5 276V278M1054.5 278V281M1055.5 281V282M1056.5 282V284M1057.5 284V286M1058.5 286V288M1059.5 288V290M1060.5 290V292M1061.5 292V294M1062.5 294V296M1063.5 296V299M1064.5 299V301M1065.5 301V303M1066.5 303V304M1067.5 304V306M1068.5 306V307M1069.5 307V308M1070.5 308V309M1071.5 309V310M1072.5 310V311M1073.5 311V312M1074.5 311V312M1075.5 312V313M1076.5 311V312M1077.5 311V312M1078.5 310V311M1079.5 309V310M1080.5 307V309M1081.5 306V307M1082.5 303V306M1083.5 301V303M1084.5 298V301M1085.5 296V298M1086.5 294V296M1087.5 292V294M1088.5 290V292M1089.5 289V290M1090.5 288V289M1091.5 287V288M1092.5 286V287M1093.5 286V287M1094.5 286V287M1095.5 287V288M1096.5 288V290M1097.5 290V293M1098.5 293V295M1099.5 295V298M1100.5 298V301M1101.5 301V304M1102.5 304V307M1103.5 307V310M1104.5 310V314M1105.5 314V317M1106.5 317V321M1107.5 321V324M1108.5 324V328M1109.5 328V331M1110.5 331V334M1111.5 334V337M1112.5 337V339M1113.5 339V342M1114.5 342V344M1115.5 344V346M1116.5 346V349M1117.5 349V351M1118.5 351V353M1119.5 353V356M1120.5 356V358M1121.5 358V361M1122.5 361V364M1123.5 364V367M1124.5 367V370M1125.5 370V373M1126.5 373V377M1127.5 377V380M1128.5 380V382M1129.5 382V385M1130.5 385V388M1131.5 388V390M1132.5 390V392M1133.5 392V395M1134.5 395V397M1135.5 397V399M1136.5 399V401M1137.5 401V403M1138.5 403V405M1139.5 405V407M1140.5 407V409M1141.5 409V411M1142.5 411V412M1143.5 412V414M1144.5 414V415M1145.5 415V416M1146.5 416V417M1147.5 417V418M1148.5 418V419M1149.5 419V420M1150.5 419V420M1151.5 419V420M1152.5 418V419M1153.5 418V419M1154.5 417V418M1155.5 416V417M1156.5 415V416M1157.5 414V415M1158.5 413V414M1159.5 411V413M1160.5 410V411M1161.5 408V410M1162.5 407V408M1163.5 405V407M1164.5 404V405M1165.5 401V404M1166.5 399V401M1167.5 396V399M1168.5 393V396M1169.5 390V393M1170.5 387V390M1171.5 383V387M1172.5 380V383M1173.5 375V380M1174.5 371V375M1175.5 367V371M1176.5 362V367M1177.5 358V362M1178.5 353V358M1179.5 349V353M1180.5 344V349M1181.5 338V344M1182.5 332V338M1183.5 325V332M1184.5 317V325M1185.5 310V317M1186.5 302V310M1187.5 294V302M1188.5 287V294M1189.5 279V287M1190.5 272V279M1191.5 265V272M1192.5 258V265M1193.5 251V258M1194.5 245V251M1195.5 239V245M1196.5 233V239M1197.5 227V233M1198.5 222V227M1199.5 216V222M1200.5 211V216M1201.5 206V211M1202.5 202V206M1203.5 197V202M1204.5 192V197M1205.5 186V192M1206.5 179V186M1207.5 173V179M1208.5 166V173M1209.5 160V166M1210.5 155V160M1211.5 150V155M1212.5 146V150M1213.5 143V146M1214.5 140V143M1215.5 138V140M1216.5 137V138M1217.5 138V142M1218.5 142V148M1219.5 148V156M1220.5 156V165M1221.5 165V172M1222.5 172V179M1223.5 179V186M1224.5 186V193M1225.5 193V201M1226.5 201V209M1227.5 209V217M1228.5 217V225M1229.5 225V233M1230.5 233V240M1231.5 240V248M1232.5 248V255M1233.5 255V263M1234.5 263V272M1235.5 272V281M1236.5 281V289M1237.5 289V297M1238.5 297V303M1239.5 303V310M1240.5 310V317M1241.5 317V326M1242.5 326V335M1243.5 335V340M1244.5 340V350M1245.5 350V364M1246.5 364V379M1247.5 379V393M1248.5 393V406M1249.5 406V418M1250.5 418V429M1251.5 429V439M1252.5 439V448M1253.5 448V455M1254.5 455V461M1255.5 461V466M1256.5 466V470M1257.5 470V472M1258.5 472V473M1259.5 473V474M1260.5 472V473M1261.5 469V472M1262.5 464V469M1263.5 459V464M1264.5 453V459M1265.5 448V453M1266.5 443V448M1267.5 439V443M1268.5 436V439M1269.5 435V436" fill="none" stroke="#ffa500" stroke-width="1" shape-rendering="crispEdges"/>
<g shape-rendering="crispEdges">
<rect x="4" y="371" width="1592" height="1" fill="#c0c0c0"/>
<rect x="4" y="152" width="1592" height="2" fill="#ff0000"/>
<rect x="4" y="208" width="1592" height="2" fill="#ff0000"/>
<rect x="4" y="262" width="1592" height="2" fill="#ff0000"/>
<rect x="4" y="317" width="1592" height="2" fill="#ff0000"/>
<rect x="4" y="383" width="1592" height="2" fill="#ff0000"/>
<rect x="4" y="443" width="1592" height="2" fill="#00ff00"/>
</g>
<g shape-rendering="crispEdges">
<line x1="4" y1="559.5" x2="1596" y2="559.5" stroke="#c0c0c0" stroke-width="1" stroke-dasharray="3,3"/>
<line x1="4" y1="595.5" x2="1596" y2="595.5" stroke="#c0c0c0" stroke-width="1" stroke-dasharray="3,3"/>
</g>
<path d="M4.5 582V583M5.5 581V582M6.5 579V581M7.5 578V579M8.5 577V578M9.5 578V580M10.5 580V581M11.5 581V583M12.5 583V584M13.5 584V585M14.5 584V585M15.5 585V586M16.5 586V587M17.5 586V587M18.5 587V588M19.5 587V588M20.5 588V589M21.5 588V589M22.5 588V589M23.5 589V590M24.5 589V590M25.5 589V590M26.5 590V591M27.5 590V591M28.5 590V591M29.5 591V592M30.5 591V592M31.5 591V592M32.5 591V592M33.5 592V593M34.5 593V594M35.5 593V594M36.5 592V595M37.5 589V592M38.5 587V589M39.5 584V587M40.5 583V584M41.5 584V585M42.5 584V585M43.5 585V586M44.5 586V587M45.5 586V587M46.5 586V587M47.5 586V587M48.5 586V587M49.5 586V587M50.5 586V587M51.5 586V587M52.5 585V587M53.5 583V585M54.5 581V583M55.5 579V581M56.5 578V579M57.5 577V578M58.5 577V578M59.5 576V577M60.5 576V577M61.5 576V577M62.5 577V578M63.5 577V578M64.5 578V579M65.5 578V579M66.5 578V579M67.5 578V579M68.5 577V579M69.5 576V577M70.5 574V576M71.5 573V574M72.5 572V573M73.5 572V573M74.5 572V573M75.5 573V574M76.5 573V574M77.5 573V574M78.5 572V573M79.5 572V573M80.5 572V573M81.5 572V573M82.5 573V574M83.5 573V574M84.5 574V575M85.5 574V575M86.5 574V575M87.5 574V575M88.5 574V576M89.5 576V578M90.5 578V581M91.5 581V583M92.5 583V584M93.5 583V584M94.5 584V585M95.5 584V585M96.5 585V586M97.5 584V585M98.5 583V584M99.5 583V584M100.5 582V583M101.5 581V582M102.5 580V581M103.5 580V581M104.5 579V581M105.5 581V583M106.5 583V584M107.5 584V586M108.5 586V587M109.5 587V588M110.5 588V589M111.5 589V590M112.5 589V591M113.5 591V592M114.5 592V593M115.5 593V594M116.5 594V595M117.5 593V594M118.5 592V593M119.5 592V593M120.5 591V592M121.5 591V592M122.5 591V592M123.5 591V592M124.5 590V591M125.5 590V591M126.5 589V590M127.5 589V590M128.5 588V589M129.5 586V588M130.5 584V586M131.5 583V584M132.5 581V583M133.5 579V581M134.5 578V579M135.5 576V578M136.5 575V577M137.5 577V579M138.5 579V581M139.5 581V583M140.5 583V584M141.5 583V584M142.5 583V584M143.5 583V584M144.5 583V584M145.5 583V584M146.5 582V583M147.5 582V583M148.5 582V583M149.5 582V583M150.5 581V582M151.5 581V582M152.5 581V582M153.5 582V583M154.5 582V583M155.5 583V584M156.5 584V585M157.5 582V584M158.5 581V582M159.5 580V581M160.5 579V580M161.5 578V579M162.5 577V578M163.5 577V578M164.5 576V577M165.5 575V576M166.5 575V576M167.5 574V575M168.5 573V574M169.5 574V575M170.5 575V576M171.5 575V576M172.5 576V577M173.5 576V577M174.5 575V576M175.5 575V576M176.5 575V576M177.5 576V577M178.5 577V579M179.5 579V580M180.5 580V581M181.5 580V581M182.5 580V581M183.5 580V581M184.5 580V581M185.5 581V583M186.5 583V584M187.5 584V585M188.5 585V586M189.5 585V586M190.5 586V587M191.5 586V587M192.5 586V587M193.5 586V587M194.5 587V588M195.5 587V588M196.5 587V588M197.5 586V587M198.5 586V587M199.5 585V586M200.5 585V586M201.5 585V586M202.5 586V587M203.5 586V587M204.5 587V588M205.5 587V588M206.5 587V588M207.5 587V588M208.5 587V588M209.5 586V587M210.5 585V586M211.5 584V585M212.5 583V584M213.5 581V583M214.5 580V581M215.5 579V580M216.5 578V579M217.5 577V578M218.5 576V577M219.5 576V577M220.5 575V576M221.5 576V577M222.5 577V578M223.5 578V579M224.5 579V580M225.5 580V581M226.5 580V581M227.5 581V582M228.5 582V584M229.5 584V585M230.5 585V587M231.5 587V589M232.5 589V590M233.5 589V590M234.5 588V589M235.5 588V589M236.5 588V589M237.5 587V588M238.5 586V587M239.5 586V587M240.5 585V586M241.5 583V585M242.5 582V583M243.5 581V582M244.5 579V581M245.5 578V579M246.5 576V578M247.5 575V576M248.5 574V575M249.5 572V574M250.5 571V572M251.5 570V571M252.5 569V570M253.5 568V569M254.5 568V569M255.5 568V569M256.5 567V568M257.5 566V567M258.5 564V566M259.5 563V564M260.5 562V563M261.5 561V562M262.5 560V561M263.5 559V560M264.5 559V560M265.5 558V559M266.5 558V559M267.5 557V558M268.5 557V558M269.5 558V560M270.5 560V562M271.5 562V564M272.5 564V565M273.5 563V564M274.5 563V564M275.5 563V564M276.5 563V564M277.5 563V564M278.5 563V564M279.5 564V565M280.5 564V566M281.5 566V568M282.5 568V571M283.5 571V573M284.5 573V575M285.5 575V577M286.5 577V579M287.5 579V581M288.5 581V582M289.5 581V582M290.5 581V582M291.5 582V583M292.5 582V583M293.5 581V582M294.5 580V581M295.5 579V580M296.5 578V579M297.5 579V580M298.5 580V581M299.5 581V583M300.5 583V584M301.5 582V583M302.5 581V582M303.5 580V581M304.5 578V581M305.5 576V578M306.5 574V576M307.5 572V574M308.5 571V572M309.5 570V571M310.5 569V570M311.5 567V569M312.5 566V567M313.5 566V567M314.5 565V566M315.5 564V565M316.5 563V564M317.5 562V563M318.5 562V563M319.5 562V563M320.5 561V562M321.5 562V563M322.5 562V563M323.5 562V563M324.5 563V564M325.5 563V564M326.5 562V563M327.5 562V563M328.5 562V563M329.5 563V564M330.5 564V565M331.5 565V566M332.5 565V566M333.5 565V566M334.5 565V566M335.5 565V566M336.5 564V565M337.5 565V566M338.5 565V566M339.5 565V566M340.5 565V568M341.5 568V571M342.5 571V573M343.5 573V576M344.5 576V577M345.5 576V577M346.5 576V577M347.5 577V578M348.5 577V578M349.5 578V579M350.5 579V580M351.5 579V580M352.5 580V581M353.5 580V581M354.5 579V580M355.5 579V580M356.5 579V581M357.5 581V583M358.5 583V585M359.5 585V586M360.5 586V587M361.5 586V587M362.5 586V587M363.5 586V587M364.5 585V586M365.5 586V587M366.5 586V587M367.5 587V588M368.5 587V588M369.5 587V588M370.5 587V588M371.5 587V588M372.5 586V588M373.5 584V586M374.5 582V584M375.5 580V582M376.5 579V580M377.5 579V580M378.5 579V580M379.5 579V580M380.5 579V580M381.5 579V580M382.5 579V580M383.5 580V581M384.5 580V581M385.5 579V580M386.5 578V579M387.5 577V578M388.5 577V578M389.5 577V578M390.5 577V578M391.5 578V579M392.5 578V580M393.5 580V582M394.5 582V583M395.5 583V585M396.5 585V586M397.5 584V585M398.5 584V585M399.5 583V584M400.5 582V583M401.5 582V583M402.5 582V583M403.5 582V583M404.5 583V584M405.5 583V584M406.5 583V584M407.5 583V584M408.5 583V584M409.5 583V584M410.5 583V584M411.5 584V585M412.5 584V585M413.5 584V585M414.5 584V585M415.5 584V585M416.5 584V586M417.5 586V588M418.5 588V590M419.5 590V592M420.5 592V593M421.5 592V593M422.5 592V593M423.5 593V594M424.5 593V594M425.5 592V593M426.5 591V592M427.5 590V591M428.5 590V591M429.5 590V591M430.5 591V592M431.5 592V593M432.5 593V594M433.5 593V594M434.5 592V593M435.5 592V593M436.5 592V593M437.5 591V592M438.5 590V591M439.5 589V590M440.5 588V589M441.5 588V589M442.5 588V589M443.5 588V589M444.5 587V588M445.5 588V589M446.5 588V589M447.5 589V590M448.5 590V591M449.5 591V593M450.5 593V595M451.5 595V597M452.5 595V598M453.5 593V595M454.5 591V593M455.5 588V591M456.5 587V588M457.5 587V588M458.5 587V588M459.5 587V588M460.5 585V588M461.5 582V585M462.5 579V582M463.5 576V579M464.5 575V576M465.5 575V576M466.5 575V576M467.5 575V576M468.5 575V576M469.5 574V575M470.5 573V574M471.5 572V573M472.5 571V572M473.5 572V573M474.5 573V574M475.5 574V575M476.5 575V576M477.5 574V575M478.5 574V575M479.5 573V574M480.5 573V574M481.5 574V575M482.5 574V575M483.5 575V576M484.5 575V576M485.5 575V576M486.5 575V576M487.5 575V576M488.5 574V575M489.5 575V576M490.5 576V577M491.5 577V578M492.5 578V579M493.5 579V581M494.5 581V582M495.5 582V583M496.5 583V584M497.5 584V585M498.5 585V586M499.5 586V587M500.5 587V588M501.5 588V589M502.5 588V589M503.5 588V589M504.5 589V590M505.5 588V589M506.5 588V589M507.5 588V589M508.5 587V588M509.5 587V588M510.5 587V588M511.5 587V588M512.5 587V588M513.5 588V589M514.5 588V589M515.5 588V589M516.5 588V589M517.5 588V589M518.5 587V588M519.5 587V588M520.5 587V588M521.5 587V588M522.5 587V588M523.5 587V588M524.5 586V589M525.5 584V586M526.5 581V584M527.5 579V581M528.5 578V579M529.5 578V579M530.5 578V579M531.5 578V579M532.5 578V579M533.5 579V580M534.5 580V582M535.5 582V583M536.5 583V584M537.5 583V584M538.5 584V585M539.5 584V585M540.5 585V586M541.5 585V586M542.5 586V587M543.5 586V587M544.5 586V587M545.5 587V588M546.5 588V589M547.5 589V590M548.5 589V591M549.5 591V593M550.5 593V594M551.5 594V596M552.5 596V597M553.5 596V597M554.5 596V597M555.5 597V598M556.5 597V598M557.5 597V598M558.5 597V598M559.5 597V598M560.5 598V599M561.5 598V599M562.5 598V599M563.5 598V599M564.5 596V599M565.5 593V596M566.5 590V593M567.5 587V590M568.5 586V587M569.5 585V586M570.5 585V586M571.5 584V585M572.5 584V585M573.5 583V584M574.5 583V584M575.5 583V584M576.5 583V584M577.5 584V585M578.5 584V585M579.5 585V586M580.5 585V586M581.5 583V585M582.5 582V583M583.5 581V582M584.5 580V581M585.5 580V581M586.5 581V582M587.5 582V583M588.5 582V583M589.5 583V585M590.5 585V586M591.5 586V587M592.5 585V588M593.5 583V585M594.5 580V583M595.5 577V580M596.5 576V577M597.5 576V577M598.5 576V577M599.5 576V577M600.5 576V577M601.5 576V577M602.5 577V578M603.5 577V578M604.5 577V579M605.5 579V581M606.5 581V583M607.5 583V585M608.5 584V586M609.5 582V584M610.5 580V582M611.5 578V580M612.5 577V578M613.5 577V578M614.5 578V579M615.5 578V579M616.5 578V579M617.5 578V579M618.5 578V579M619.5 579V580M620.5 579V580M621.5 580V582M622.5 582V583M623.5 583V584M624.5 584V585M625.5 584V585M626.5 583V584M627.5 583V584M628.5 582V583M629.5 583V584M630.5 584V585M631.5 584V585M632.5 585V586M633.5 585V586M634.5 584V585M635.5 583V584M636.5 583V584M637.5 584V586M638.5 586V587M639.5 587V589M640.5 589V590M641.5 589V590M642.5 589V590M643.5 589V590M644.5 590V591M645.5 589V590M646.5 589V590M647.5 589V590M648.5 589V590M649.5 589V590M650.5 589V590M651.5 589V590M652.5 589V590M653.5 590V591M654.5 591V592M655.5 592V593M656.5 592V594M657.5 591V592M658.5 590V591M659.5 589V590M660.5 588V589M661.5 587V588M662.5 586V587M663.5 585V586M664.5 584V586M665.5 583V584M666.5 581V583M667.5 579V581M668.5 578V579M669.5 579V580M670.5 579V580M671.5 580V581M672.5 580V581M673.5 580V581M674.5 580V581M675.5 579V580M676.5 579V580M677.5 579V580M678.5 579V580M679.5 579V580M680.5 579V580M681.5 580V582M682.5 582V583M683.5 583V584M684.5 584V585M685.5 583V584M686.5 582V583M687.5 581V582M688.5 579V581M689.5 578V579M690.5 576V578M691.5 575V576M692.5 574V575M693.5 573V574M694.5 572V573M695.5 572V573M696.5 571V572M697.5 571V572M698.5 571V572M699.5 571V572M700.5 571V572M701.5 571V572M702.5 572V573M703.5 573V574M704.5 573V574M705.5 573V574M706.5 573V574M707.5 573V574M708.5 572V573M709.5 571V572M710.5 569V571M711.5 568V569M712.5 567V568M713.5 565V567M714.5 564V565M715.5 563V564M716.5 562V563M717.5 561V562M718.5 561V562M719.5 560V561M720.5 560V561M721.5 559V560M722.5 559V560M723.5 559V560M724.5 559V560M725.5 560V561M726.5 561V562M727.5 562V563M728.5 562V563M729.5 563V564M730.5 563V564M731.5 564V565M732.5 564V565M733.5 565V566M734.5 566V567M735.5 567V568M736.5 568V569M737.5 569V570M738.5 570V571M739.5 570V571M740.5 571V572M741.5 572V573M742.5 573V574M743.5 573V574M744.5 574V575M745.5 574V575M746.5 574V575M747.5 574V575M748.5 574V575M749.5 574V575M750.5 573V574M751.5 572V573M752.5 572V573M753.5 571V572M754.5 570V571M755.5 569V570M756.5 568V569M757.5 568V569M758.5 568V569M759.5 568V569M760.5 568V569M761.5 567V568M762.5 566V567M763.5 565V566M764.5 564V565M765.5 563V564M766.5 563V564M767.5 562V563M768.5 562V563M769.5 562V563M770.5 563V564M771.5 563V564M772.5 564V565M773.5 564V565M774.5 564V565M775.5 565V566M776.5 565V569M777.5 569V573M778.5 573V576M779.5 576V580M780.5 580V581M781.5 580V581M782.5 580V581M783.5 580V581M784.5 580V581M785.5 581V582M786.5 582V583M787.5 583V584M788.5 584V585M789.5 585V586M790.5 586V587M791.5 586V587M792.5 587V588M793.5 587V588M794.5 587V588M795.5 587V588M796.5 587V588M797.5 587V588M798.5 586V587M799.5 585V586M800.5 584V585M801.5 585V586M802.5 586V587M803.5 586V587M804.5 587V588M805.5 587V588M806.5 587V588M807.5 587V588M808.5 587V588M809.5 588V589M810.5 588V589M811.5 588V589M812.5 587V589M813.5 585V587M814.5 582V585M815.5 580V582M816.5 579V580M817.5 579V580M818.5 578V579M819.5 578V579M820.5 578V579M821.5 577V578M822.5 576V577M823.5 575V576M824.5 574V575M825.5 574V575M826.5 574V575M827.5 574V575M828.5 574V575M829.5 575V576M830.5 576V577M831.5 577V578M832.5 578V579M833.5 577V578M834.5 576V577M835.5 576V577M836.5 575V577M837.5 577V579M838.5 579V580M839.5 580V582M840.5 582V583M841.5 582V583M842.5 583V584M843.5 583V584M844.5 583V584M845.5 584V585M846.5 584V585M847.5 585V586M848.5 585V586M849.5 585V586M850.5 585V586M851.5 586V587M852.5 586V587M853.5 586V587M854.5 587V588M855.5 587V588M856.5 587V588M857.5 587V588M858.5 586V587M859.5 586V587M860.5 585V586M861.5 584V585M862.5 583V584M863.5 581V583M864.5 580V581M865.5 581V582M866.5 581V582M867.5 582V583M868.5 581V583M869.5 578V581M870.5 576V578M871.5 573V576M872.5 572V573M873.5 572V573M874.5 571V572M875.5 571V572M876.5 570V571M877.5 570V571M878.5 570V571M879.5 570V571M880.5 570V571M881.5 569V570M882.5 569V570M883.5 569V570M884.5 568V571M885.5 571V573M886.5 573V575M887.5 575V577M888.5 577V578M889.5 577V578M890.5 577V578M891.5 577V578M892.5 577V578M893.5 576V577M894.5 575V576M895.5 575V576M896.5 574V575M897.5 573V574M898.5 572V573M899.5 571V572M900.5 570V571M901.5 571V572M902.5 571V572M903.5 572V573M904.5 572V573M905.5 570V572M906.5 569V570M907.5 568V569M908.5 567V568M909.5 566V567M910.5 565V566M911.5 565V566M912.5 564V565M913.5 565V566M914.5 566V567M915.5 567V568M916.5 568V569M917.5 568V569M918.5 567V568M919.5 566V567M920.5 566V567M921.5 565V566M922.5 564V565M923.5 564V565M924.5 563V565M925.5 565V566M926.5 566V568M927.5 568V570M928.5 570V571M929.5 570V571M930.5 571V572M931.5 572V573M932.5 572V574M933.5 574V575M934.5 575V576M935.5 576V577M936.5 577V578M937.5 578V579M938.5 579V580M939.5 580V581M940.5 580V581M941.5 579V580M942.5 579V580M943.5 578V579M944.5 577V578M945.5 577V578M946.5 577V578M947.5 577V578M948.5 577V578M949.5 577V578M950.5 577V578M951.5 577V578M952.5 578V579M953.5 577V578M954.5 576V577M955.5 575V576M956.5 573V576M957.5 571V573M958.5 568V571M959.5 566V568M960.5 565V566M961.5 564V565M962.5 564V565M963.5 563V564M964.5 563V564M965.5 562V563M966.5 562V563M967.5 561V562M968.5 561V562M969.5 560V561M970.5 560V561M971.5 559V560M972.5 559V560M973.5 559V560M974.5 559V560M975.5 560V561M976.5 560V561M977.5 561V562M978.5 562V563M979.5 563V564M980.5 563V565M981.5 565V567M982.5 567V569M983.5 569V572M984.5 572V573M985.5 571V572M986.5 571V572M987.5 571V572M988.5 571V572M989.5 570V571M990.5 569V570M991.5 569V570M992.5 568V570M993.5 570V572M994.5 572V574M995.5 574V576M996.5 576V577M997.5 577V578M998.5 578V579M999.5 579V580M1000.5 580V581M1001.5 580V581M1002.5 581V582M1003.5 581V582M1004.5 582V583M1005.5 581V582M1006.5 581V582M1007.5 581V582M1008.5 580V581M1009.5 580V581M1010.5 580V581M1011.5 579V580M1012.5 579V580M1013.5 578V579M1014.5 578V579M1015.5 577V578M1016.5 577V578M1017.5 577V578M1018.5 578V579M1019.5 578V579M1020.5 579V580M1021.5 577V579M1022.5 576V577M1023.5 574V576M1024.5 573V574M1025.5 574V575M1026.5 575V576M1027.5 575V576M1028.5 576V578M1029.5 578V580M1030.5 580V581M1031.5 581V583M1032.5 583V584M1033.5 583V584M1034.5 583V584M1035.5 583V584M1036.5 583V584M1037.5 584V585M1038.5 584V585M1039.5 585V586M1040.5 585V586M1041.5 584V585M1042.5 583V584M1043.5 582V583M1044.5 582V583M1045.5 582V583M1046.5 583V584M1047.5 584V585M1048.5 585V586M1049.5 586V587M1050.5 587V588M1051.5 588V589M1052.5 589V590M1053.5 589V590M1054.5 590V591M1055.5 591V592M1056.5 591V592M1057.5 591V592M1058.5 591V592M1059.5 590V591M1060.5 590V591M1061.5 591V592M1062.5 591V592M1063.5 592V593M1064.5 592V593M1065.5 593V594M1066.5 593V594M1067.5 593V594M1068.5 593V594M1069.5 593V594M1070.5 594V595M1071.5 594V595M1072.5 593V595M1073.5 591V593M1074.5 589V591M1075.5 586V589M1076.5 584V586M1077.5 582V584M1078.5 580V582M1079.5 577V580M1080.5 576V577M1081.5 576V577M1082.5 576V577M1083.5 576V577M1084.5 575V577M1085.5 577V578M1086.5 578V579M1087.5 579V581M1088.5 581V582M1089.5 581V582M1090.5 582V583M1091.5 583V584M1092.5 583V585M1093.5 585V586M1094.5 586V587M1095.5 587V588M1096.5 588V589M1097.5 589V590M1098.5 589V590M1099.5 590V591M1100.5 591V592M1101.5 591V592M1102.5 592V593M1103.5 592V593M1104.5 592V593M1105.5 593V594M1106.5 593V594M1107.5 594V595M1108.5 594V595M1109.5 595V596M1110.5 595V596M1111.5 596V597M1112.5 596V597M1113.5 596V597M1114.5 597V598M1115.5 597V598M1116.5 597V598M1117.5 598V599M1118.5 598V599M1119.5 598V599M1120.5 599V600M1121.5 600V601M1122.5 601V602M1123.5 601V602M1124.5 602V603M1125.5 602V603M1126.5 602V603M1127.5 602V603M1128.5 602V603M1129.5 603V604M1130.5 603V604M1131.5 603V604M1132.5 603V604M1133.5 603V604M1134.5 603V604M1135.5 603V604M1136.5 604V605M1137.5 604V605M1138.5 604V605M1139.5 604V605M1140.5 604V605M1141.5 605V606M1142.5 605V606M1143.5 606V607M1144.5 606V607M1145.5 605V606M1146.5 604V605M1147.5 603V604M1148.5 600V603M1149.5 597V600M1150.5 594V597M1151.5 591V594M1152.5 590V591M1153.5 590V591M1154.5 590V591M1155.5 589V590M1156.5 589V590M1157.5 589V590M1158.5 589V590M1159.5 589V590M1160.5 589V590M1161.5 589V590M1162.5 588V589M1163.5 588V589M1164.5 588V589M1165.5 587V588M1166.5 587V588M1167.5 587V588M1168.5 583V588M1169.5 578V583M1170.5 574V578M1171.5 569V574M1172.5 568V569M1173.5 568V569M1174.5 568V569M1175.5 568V569M1176.5 567V569M1177.5 566V567M1178.5 565V566M1179.5 564V565M1180.5 562V564M1181.5 560V562M1182.5 558V560M1183.5 556V558M1184.5 555V556M1185.5 555V556M1186.5 554V555M1187.5 553V554M1188.5 553V554M1189.5 554V556M1190.5 556V558M1191.5 558V559M1192.5 559V560M1193.5 559V560M1194.5 558V559M1195.5 557V558M1196.5 556V557M1197.5 555V556M1198.5 553V555M1199.5 552V553M1200.5 551V552M1201.5 551V552M1202.5 551V552M1203.5 551V552M1204.5 551V552M1205.5 550V551M1206.5 549V550M1207.5 548V549M1208.5 547V550M1209.5 550V552M1210.5 552V555M1211.5 555V557M1212.5 557V559M1213.5 559V560M1214.5 560V562M1215.5 562V563M1216.5 563V567M1217.5 567V570M1218.5 570V574M1219.5 574V578M1220.5 578V579M1221.5 578V579M1222.5 578V579M1223.5 578V579M1224.5 579V580M1225.5 579V580M1226.5 579V580M1227.5 579V580M1228.5 579V580M1229.5 577V579M1230.5 576V577M1231.5 575V576M1232.5 574V577M1233.5 577V579M1234.5 579V581M1235.5 581V584M1236.5 584V585M1237.5 585V587M1238.5 587V588M1239.5 588V590M1240.5 590V591M1241.5 591V592M1242.5 592V593M1243.5 593V594M1244.5 594V595M1245.5 594V595M1246.5 594V595M1247.5 595V596M1248.5 595V596M1249.5 595V596M1250.5 595V596M1251.5 595V596M1252.5 595V596M1253.5 593V595M1254.5 591V593M1255.5 589V591M1256.5 588V589M1257.5 588V589M1258.5 587V588M1259.5 587V588M1260.5 586V587M1261.5 585V586M1262.5 585V586M1263.5 584V585M1264.5 584V585M1265.5 582V584M1266.5 581V582M1267.5 580V581M1268.5 579V580" fill="none" stroke="#1e90ff" stroke-width="1" shape-rendering="crispEdges"/>
<g shape-rendering="crispEdges">
<rect x="4" y="677" width="1" height="1" fill="#c0c0c0"/>
<rect x="8" y="677" width="1" height="1" fill="#c0c0c0"/>
<rect x="12" y="677" width="1" height="2" fill="#c0c0c0"/>
<rect x="16" y="677" width="1" height="4" fill="#c0c0c0"/>
<rect x="20" y="677" width="1" height="6" fill="#c0c0c0"/>
<rect x="24" y="677" width="1" height="8" fill="#c0c0c0"/>
<rect x="28" y="677" width="1" height="10" fill="#c0c0c0"/>
<rect x="32" y="677" width="1" height="12" fill="#c0c0c0"/>
<rect x="36" y="677" width="1" height="13" fill="#c0c0c0"/>
<rect x="40" y="677" width="1" height="13" fill="#c0c0c0"/>
<rect x="44" y="677" width="1" height="13" fill="#c0c0c0"/>
<rect x="48" y="677" width="1" height="12" fill="#c0c0c0"/>
<rect x="52" y="677" width="1" height="11" fill="#c0c0c0"/>
<rect x="56" y="677" width="1" height="9" fill="#c0c0c0"/>
<rect x="60" y="677" width="1" height="8" fill="#c0c0c0"/>
<rect x="64" y="677" width="1" height="7" fill="#c0c0c0"/>
<rect x="68" y="677" width="1" height="5" fill="#c0c0c0"/>
<rect x="72" y="677" width="1" height="3" fill="#c0c0c0"/>
<rect x="76" y="677" width="1" height="2" fill="#c0c0c0"/>
<rect x="80" y="677" width="1" height="1" fill="#c0c0c0"/>
<rect x="84" y="677" width="1" height="1" fill="#c0c0c0"/>
<rect x="88" y="677" width="1" height="1" fill="#c0c0c0"/>
<rect x="92" y="677" width="1" height="1" fill="#c0c0c0"/>
<rect x="96" y="677" width="1" height="2" fill="#c0c0c0"/>
<rect x="100" y="677" width="1" height="2" fill="#c0c0c0"/>
<rect x="104" y="677" width="1" height="2" fill="#c0c0c0"/>
<rect x="108" y="677" width="1" height="3" fill="#c0c0c0"/>
<rect x="112" y="677" width="1" height="6" fill="#c0c0c0"/>
<rect x="116" y="677" width="1" height="9" fill="#c0c0c0"/>
<rect x="120" y="677" width="1" height="11" fill="#c0c0c0"/>
<rect x="124" y="677" width="1" height="13" fill="#c0c0c0"/>
<rect x="128" y="677" width="1" height="13" fill="#c0c0c0"/>
<rect x="132" y="677" width="1" height="12" fill="#c0c0c0"/>
<rect x="136" y="677" width="1" height="10" fill="#c0c0c0"/>
<rect x="140" y="677" width="1" height="10" fill="#c0c0c0"/>
<rect x="144" y="677" width="1" height="10" fill="#c0c0c0"/>
<rect x="148" y="677" width="1" height="9" fill="#c0c0c0"/>
<rect x="152" y="677" width="1" height="9" fill="#c0c0c0"/>
<rect x="156" y="677" width="1" height="8" fill="#c0c0c0"/>
<rect x="160" y="677" width="1" height="7" fill="#c0c0c0"/>
<rect x="164" y="677" width="1" height="5" fill="#c0c0c0"/>
<rect x="168" y="677" width="1" height="3" fill="#c0c0c0"/>
<rect x="172" y="677" width="1" height="2" fill="#c0c0c0"/>
<rect x="176" y="677" width="1" height="2" fill="#c0c0c0"/>
<rect x="180" y="677" width="1" height="2" fill="#c0c0c0"/>
<rect x="184" y="677" width="1" height="2" fill="#c0c0c0"/>
<rect x="188" y="677" width="1" height="3" fill="#c0c0c0"/>
<rect x="192" y="677" width="1" height="4" fill="#c0c0c0"/>
<rect x="196" y="677" width="1" height="5" fill="#c0c0c0"/>
<rect x="200" y="677" width="1" height="6" fill="#c0c0c0"/>
<rect x="204" y="677" width="1" height="7" fill="#c0c0c0"/>
<rect x="208" y="677" width="1" height="7" fill="#c0c0c0"/>
<rect x="212" y="677" width="1" height="7" fill="#c0c0c0"/>
<rect x="216" y="677" width="1" height="6" fill="#c0c0c0"/>
<rect x="220" y="677" width="1" height="5" fill="#c0c0c0"/>
<rect x="224" y="677" width="1" height="5" fill="#c0c0c0"/>
<rect x="228" y="677" width="1" height="5" fill="#c0c0c0"/>
<rect x="232" y="677" width="1" height="6" fill="#c0c0c0"/>
<rect x="236" y="677" width="1" height="6" fill="#c0c0c0"/>
<rect x="240" y="677" width="1" height="7" fill="#c0c0c0"/>
<rect x="244" y="677" width="1" height="6" fill="#c0c0c0"/>
<rect x="248" y="677" width="1" height="4" fill="#c0c0c0"/>
<rect x="252" y="677" width="1" height="2" fill="#c0c0c0"/>
<rect x="256" y="677" width="1" height="1" fill="#c0c0c0"/>
<rect x="260" y="674" width="1" height="4" fill="#c0c0c0"/>
<rect x="264" y="670" width="1" height="8" fill="#c0c0c0"/>
<rect x="268" y="667" width="1" height="11" fill="#c0c0c0"/>
<rect x="272" y="665" width="1" height="13" fill="#c0c0c0"/>
<rect x="276" y="664" width="1" height="14" fill="#c0c0c0"/>
<rect x="280" y="664" width="1" height="14" fill="#c0c0c0"/>
<rect x="284" y="665" width="1" height="13" fill="#c0c0c0"/>
<rect x="288" y="668" width="1" height="10" fill="#c0c0c0"/>
<rect x="292" y="670" width="1" height="8" fill="#c0c0c0"/>
<rect x="296" y="672" width="1" height="6" fill="#c0c0c0"/>
<rect x="300" y="674" width="1" height="4" fill="#c0c0c0"/>
<rect x="304" y="675" width="1" height="3" fill="#c0c0c0"/>
<rect x="308" y="674" width="1" height="4" fill="#c0c0c0"/>
<rect x="312" y="671" width="1" height="7" fill="#c0c0c0"/>
<rect x="316" y="668" width="1" height="10" fill="#c0c0c0"/>
<rect x="320" y="664" width="1" height="14" fill="#c0c0c0"/>
<rect x="324" y="662" width="1" height="16" fill="#c0c0c0"/>
<rect x="328" y="660" width="1" height="18" fill="#c0c0c0"/>
<rect x="332" y="660" width="1" height="18" fill="#c0c0c0"/>
<rect x="336" y="659" width="1" height="19" fill="#c0c0c0"/>
<rect x="340" y="659" width="1" height="19" fill="#c0c0c0"/>
<rect x="344" y="662" width="1" height="16" fill="#c0c0c0"/>
<rect x="348" y="665" width="1" height="13" fill="#c0c0c0"/>
<rect x="352" y="667" width="1" height="11" fill="#c0c0c0"/>
<rect x="356" y="670" width="1" height="8" fill="#c0c0c0"/>
<rect x="360" y="674" width="1" height="4" fill="#c0c0c0"/>
<rect x="364" y="677" width="1" height="1" fill="#c0c0c0"/>
<rect x="368" y="677" width="1" height="2" fill="#c0c0c0"/>
<rect x="372" y="677" width="1" height="4" fill="#c0c0c0"/>
<rect x="376" y="677" width="1" height="4" fill="#c0c0c0"/>
<rect x="380" y="677" width="1" height="4" fill="#c0c0c0"/>
<rect x="384" y="677" width="1" height="4" fill="#c0c0c0"/>
<rect x="388" y="677" width="1" height="3" fill="#c0c0c0"/>
<rect x="392" y="677" width="1" height="3" fill="#c0c0c0"/>
<rect x="396" y="677" width="1" height="5" fill="#c0c0c0"/>
<rect x="400" y="677" width="1" height="5" fill="#c0c0c0"/>
<rect x="404" y="677" width="1" height="6" fill="#c0c0c0"/>
<rect x="408" y="677" width="1" height="6" fill="#c0c0c0"/>
<rect x="412" y="677" width="1" height="7" fill="#c0c0c0"/>
<rect x="416" y="677" width="1" height="7" fill="#c0c0c0"/>
<rect x="420" y="677" width="1" height="9" fill="#c0c0c0"/>
<rect x="424" y="677" width="1" height="12" fill="#c0c0c0"/>
<rect x="428" y="677" width="1" height="13" fill="#c0c0c0"/>
<rect x="432" y="677" width="1" height="15" fill="#c0c0c0"/>
<rect x="436" y="677" width="1" height="16" fill="#c0c0c0"/>
<rect x="440" y="677" width="1" height="16" fill="#c0c0c0"/>
<rect x="444" y="677" width="1" height="16" fill="#c0c0c0"/>
<rect x="448" y="677" width="1" height="16" fill="#c0c0c0"/>
<rect x="452" y="677" width="1" height="18" fill="#c0c0c0"/>
<rect x="456" y="677" width="1" height="18" fill="#c0c0c0"/>
<rect x="460" y="677" width="1" height="18" fill="#c0c0c0"/>
<rect x="464" y="677" width="1" height="15" fill="#c0c0c0"/>
<rect x="468" y="677" width="1" height="12" fill="#c0c0c0"/>
<rect x="472" y="677" width="1" height="8" fill="#c0c0c0"/>
<rect x="476" y="677" width="1" height="6" fill="#c0c0c0"/>
<rect x="480" y="677" width="1" height="4" fill="#c0c0c0"/>
<rect x="484" y="677" width="1" height="3" fill="#c0c0c0"/>
<rect x="488" y="677" width="1" height="2" fill="#c0c0c0"/>
<rect x="492" y="677" width="1" height="2" fill="#c0c0c0"/>
<rect x="496" y="677" width="1" height="3" fill="#c0c0c0"/>
<rect x="500" y="677" width="1" height="6" fill="#c0c0c0"/>
<rect x="504" y="677" width="1" height="8" fill="#c0c0c0"/>
<rect x="508" y="677" width="1" height="9" fill="#c0c0c0"/>
<rect x="512" y="677" width="1" height="11" fill="#c0c0c0"/>
<rect x="516" y="677" width="1" height="12" fill="#c0c0c0"/>
<rect x="520" y="677" width="1" height="12" fill="#c0c0c0"/>
<rect x="524" y="677" width="1" height="12" fill="#c0c0c0"/>
<rect x="528" y="677" width="1" height="11" fill="#c0c0c0"/>
<rect x="532" y="677" width="1" height="9" fill="#c0c0c0"/>
<rect x="536" y="677" width="1" height="9" fill="#c0c0c0"/>
<rect x="540" y="677" width="1" height="9" fill="#c0c0c0"/>
<rect x="544" y="677" width="1" height="10" fill="#c0c0c0"/>
<rect x="548" y="677" width="1" height="11" fill="#c0c0c0"/>
<rect x="552" y="677" width="1" height="15" fill="#c0c0c0"/>
<rect x="556" y="677" width="1" height="17" fill="#c0c0c0"/>
<rect x="560" y="677" width="1" height="20" fill="#c0c0c0"/>
<rect x="564" y="677" width="1" height="21" fill="#c0c0c0"/>
<rect x="568" y="677" width="1" height="20" fill="#c0c0c0"/>
<rect x="572" y="677" width="1" height="19" fill="#c0c0c0"/>
<rect x="576" y="677" width="1" height="17" fill="#c0c0c0"/>
<rect x="580" y="677" width="1" height="16" fill="#c0c0c0"/>
<rect x="584" y="677" width="1" height="15" fill="#c0c0c0"/>
<rect x="588" y="677" width="1" height="13" fill="#c0c0c0"/>
<rect x="592" y="677" width="1" height="14" fill="#c0c0c0"/>
<rect x="596" y="677" width="1" height="11" fill="#c0c0c0"/>
<rect x="600" y="677" width="1" height="9" fill="#c0c0c0"/>
<rect x="604" y="677" width="1" height="8" fill="#c0c0c0"/>
<rect x="608" y="677" width="1" height="9" fill="#c0c0c0"/>
<rect x="612" y="677" width="1" height="8" fill="#c0c0c0"/>
<rect x="616" y="677" width="1" height="7" fill="#c0c0c0"/>
<rect x="620" y="677" width="1" height="6" fill="#c0c0c0"/>
<rect x="624" y="677" width="1" height="7" fill="#c0c0c0"/>
<rect x="628" y="677" width="1" height="7" fill="#c0c0c0"/>
<rect x="632" y="677" width="1" height="9" fill="#c0c0c0"/>
<rect x="636" y="677" width="1" height="9" fill="#c0c0c0"/>
<rect x="640" y="677" width="1" height="11" fill="#c0c0c0"/>
<rect x="644" y="677" width="1" height="13" fill="#c0c0c0"/>
<rect x="648" y="677" width="1" height="14" fill="#c0c0c0"/>
<rect x="652" y="677" width="1" height="15" fill="#c0c0c0"/>
<rect x="656" y="677" width="1" height="17" fill="#c0c0c0"/>
<rect x="660" y="677" width="1" height="17" fill="#c0c0c0"/>
<rect x="664" y="677" width="1" height="16" fill="#c0c0c0"/>
<rect x="668" y="677" width="1" height="14" fill="#c0c0c0"/>
<rect x="672" y="677" width="1" height="13" fill="#c0c0c0"/>
<rect x="676" y="677" width="1" height="11" fill="#c0c0c0"/>
<rect x="680" y="677" width="1" height="10" fill="#c0c0c0"/>
<rect x="684" y="677" width="1" height="10" fill="#c0c0c0"/>
<rect x="688" y="677" width="1" height="9" fill="#c0c0c0"/>
<rect x="692" y="677" width="1" height="7" fill="#c0c0c0"/>
<rect x="696" y="677" width="1" height="4" fill="#c0c0c0"/>
<rect x="700" y="677" width="1" height="2" fill="#c0c0c0"/>
<rect x="704" y="677" width="1" height="1" fill="#c0c0c0"/>
<rect x="708" y="677" width="1" height="1" fill="#c0c0c0"/>
<rect x="712" y="675" width="1" height="3" fill="#c0c0c0"/>
<rect x="716" y="671" width="1" height="7" fill="#c0c0c0"/>
<rect x="720" y="667" width="1" height="11" fill="#c0c0c0"/>
<rect x="724" y="664" width="1" height="14" fill="#c0c0c0"/>
<rect x="728" y="663" width="1" height="15" fill="#c0c0c0"/>
<rect x="732" y="662" width="1" height="16" fill="#c0c0c0"/>
<rect x="736" y="662" width="1" height="16" fill="#c0c0c0"/>
<rect x="740" y="663" width="1" height="15" fill="#c0c0c0"/>
<rect x="744" y="665" width="1" height="13" fill="#c0c0c0"/>
<rect x="748" y="666" width="1" height="12" fill="#c0c0c0"/>
<rect x="752" y="667" width="1" height="11" fill="#c0c0c0"/>
<rect x="756" y="667" width="1" height="11" fill="#c0c0c0"/>
<rect x="760" y="667" width="1" height="11" fill="#c0c0c0"/>
<rect x="764" y="665" width="1" height="13" fill="#c0c0c0"/>
<rect x="768" y="664" width="1" height="14" fill="#c0c0c0"/>
<rect x="772" y="664" width="1" height="14" fill="#c0c0c0"/>
<rect x="776" y="664" width="1" height="14" fill="#c0c0c0"/>
<rect x="780" y="667" width="1" height="11" fill="#c0c0c0"/>
<rect x="784" y="669" width="1" height="9" fill="#c0c0c0"/>
<rect x="788" y="672" width="1" height="6" fill="#c0c0c0"/>
<rect x="792" y="675" width="1" height="3" fill="#c0c0c0"/>
<rect x="796" y="677" width="1" height="1" fill="#c0c0c0"/>
<rect x="800" y="677" width="1" height="2" fill="#c0c0c0"/>
<rect x="804" y="677" width="1" height="4" fill="#c0c0c0"/>
<rect x="808" y="677" width="1" height="5" fill="#c0c0c0"/>
<rect x="812" y="677" width="1" height="7" fill="#c0c0c0"/>
<rect x="816" y="677" width="1" height="6" fill="#c0c0c0"/>
<rect x="820" y="677" width="1" height="5" fill="#c0c0c0"/>
<rect x="824" y="677" width="1" height="4" fill="#c0c0c0"/>
<rect x="828" y="677" width="1" height="3" fill="#c0c0c0"/>
<rect x="832" y="677" width="1" height="2" fill="#c0c0c0"/>
<rect x="836" y="677" width="1" height="2" fill="#c0c0c0"/>
<rect x="840" y="677" width="1" height="2" fill="#c0c0c0"/>
<rect x="844" y="677" width="1" height="3" fill="#c0c0c0"/>
<rect x="848" y="677" width="1" height="4" fill="#c0c0c0"/>
<rect x="852" y="677" width="1" height="5" fill="#c0c0c0"/>
<rect x="856" y="677" width="1" height="7" fill="#c0c0c0"/>
<rect x="860" y="677" width="1" height="7" fill="#c0c0c0"/>
<rect x="864" y="677" width="1" height="7" fill="#c0c0c0"/>
<rect x="868" y="677" width="1" height="6" fill="#c0c0c0"/>
<rect x="872" y="677" width="1" height="4" fill="#c0c0c0"/>
<rect x="876" y="677" width="1" height="2" fill="#c0c0c0"/>
<rect x="880" y="677" width="1" height="1" fill="#c0c0c0"/>
<rect x="884" y="677" width="1" height="1" fill="#c0c0c0"/>
<rect x="888" y="677" width="1" height="1" fill="#c0c0c0"/>
<rect x="892" y="677" width="1" height="1" fill="#c0c0c0"/>
<rect x="896" y="677" width="1" height="1" fill="#c0c0c0"/>
<rect x="900" y="676" width="1" height="2" fill="#c0c0c0"/>
<rect x="904" y="675" width="1" height="3" fill="#c0c0c0"/>
<rect x="908" y="673" width="1" height="5" fill="#c0c0c0"/>
<rect x="912" y="672" width="1" height="6" fill="#c0c0c0"/>
<rect x="916" y="671" width="1" height="7" fill="#c0c0c0"/>
<rect x="920" y="670" width="1" height="8" fill="#c0c0c0"/>
<rect x="924" y="668" width="1" height="10" fill="#c0c0c0"/>
<rect x="928" y="668" width="1" height="10" fill="#c0c0c0"/>
<rect x="932" y="669" width="1" height="9" fill="#c0c0c0"/>
<rect x="936" y="670" width="1" height="8" fill="#c0c0c0"/>
<rect x="940" y="672" width="1" height="6" fill="#c0c0c0"/>
<rect x="944" y="673" width="1" height="5" fill="#c0c0c0"/>
<rect x="948" y="674" width="1" height="4" fill="#c0c0c0"/>
<rect x="952" y="675" width="1" height="3" fill="#c0c0c0"/>
<rect x="956" y="675" width="1" height="3" fill="#c0c0c0"/>
<rect x="960" y="672" width="1" height="6" fill="#c0c0c0"/>
<rect x="964" y="670" width="1" height="8" fill="#c0c0c0"/>
<rect x="968" y="668" width="1" height="10" fill="#c0c0c0"/>
<rect x="972" y="665" width="1" height="13" fill="#c0c0c0"/>
<rect x="976" y="664" width="1" height="14" fill="#c0c0c0"/>
<rect x="980" y="663" width="1" height="15" fill="#c0c0c0"/>
<rect x="984" y="664" width="1" height="14" fill="#c0c0c0"/>
<rect x="988" y="665" width="1" height="13" fill="#c0c0c0"/>
<rect x="992" y="665" width="1" height="13" fill="#c0c0c0"/>
<rect x="996" y="667" width="1" height="11" fill="#c0c0c0"/>
<rect x="1000" y="669" width="1" height="9" fill="#c0c0c0"/>
<rect x="1004" y="672" width="1" height="6" fill="#c0c0c0"/>
<rect x="1008" y="674" width="1" height="4" fill="#c0c0c0"/>
<rect x="1012" y="675" width="1" height="3" fill="#c0c0c0"/>
<rect x="1016" y="675" width="1" height="3" fill="#c0c0c0"/>
<rect x="1020" y="676" width="1" height="2" fill="#c0c0c0"/>
<rect x="1024" y="676" width="1" height="2" fill="#c0c0c0"/>
<rect x="1028" y="676" width="1" height="2" fill="#c0c0c0"/>
<rect x="1032" y="677" width="1" height="1" fill="#c0c0c0"/>
<rect x="1036" y="677" width="1" height="1" fill="#c0c0c0"/>
<rect x="1040" y="677" width="1" height="2" fill="#c0c0c0"/>
<rect x="1044" y="677" width="1" height="3" fill="#c0c0c0"/>
<rect x="1048" y="677" width="1" height="4" fill="#c0c0c0"/>
<rect x="1052" y="677" width="1" height="6" fill="#c0c0c0"/>
<rect x="1056" y="677" width="1" height="8" fill="#c0c0c0"/>
<rect x="1060" y="677" width="1" height="10" fill="#c0c0c0"/>
<rect x="1064" y="677" width="1" height="11" fill="#c0c0c0"/>
<rect x="1068" y="677" width="1" height="13" fill="#c0c0c0"/>
<rect x="1072" y="677" width="1" height="14" fill="#c0c0c0"/>
<rect x="1076" y="677" width="1" height="13" fill="#c0c0c0"/>
<rect x="1080" y="677" width="1" height="11" fill="#c0c0c0"/>
<rect x="1084" y="677" width="1" height="9" fill="#c0c0c0"/>
<rect x="1088" y="677" width="1" height="8" fill="#c0c0c0"/>
<rect x="1092" y="677" width="1" height="9" fill="#c0c0c0"/>
<rect x="1096" y="677" width="1" height="10" fill="#c0c0c0"/>
<rect x="1100" y="677" width="1" height="12" fill="#c0c0c0"/>
<rect x="1104" y="677" width="1" height="13" fill="#c0c0c0"/>
<rect x="1108" y="677" width="1" height="15" fill="#c0c0c0"/>
<rect x="1112" y="677" width="1" height="17" fill="#c0c0c0"/>
<rect x="1116" y="677" width="1" height="19" fill="#c0c0c0"/>
<rect x="1120" y="677" width="1" height="21" fill="#c0c0c0"/>
<rect x="1124" y="677" width="1" height="23" fill="#c0c0c0"/>
<rect x="1128" y="677" width="1" height="25" fill="#c0c0c0"/>
<rect x="1132" y="677" width="1" height="27" fill="#c0c0c0"/>
<rect x="1136" y="677" width="1" height="28" fill="#c0c0c0"/>
<rect x="1140" y="677" width="1" height="29" fill="#c0c0c0"/>
<rect x="1144" y="677" width="1" height="31" fill="#c0c0c0"/>
<rect x="1148" y="677" width="1" height="31" fill="#c0c0c0"/>
<rect x="1152" y="677" width="1" height="29" fill="#c0c0c0"/>
<rect x="1156" y="677" width="1" height="27" fill="#c0c0c0"/>
<rect x="1160" y="677" width="1" height="25" fill="#c0c0c0"/>
<rect x="1164" y="677" width="1" height="23" fill="#c0c0c0"/>
<rect x="1168" y="677" width="1" height="21" fill="#c0c0c0"/>
<rect x="1172" y="677" width="1" height="16" fill="#c0c0c0"/>
<rect x="1176" y="677" width="1" height="11" fill="#c0c0c0"/>
<rect x="1180" y="677" width="1" height="5" fill="#c0c0c0"/>
<rect x="1184" y="675" width="1" height="3" fill="#c0c0c0"/>
<rect x="1188" y="668" width="1" height="10" fill="#c0c0c0"/>
<rect x="1192" y="663" width="1" height="15" fill="#c0c0c0"/>
<rect x="1196" y="658" width="1" height="20" fill="#c0c0c0"/>
<rect x="1200" y="650" width="1" height="28" fill="#c0c0c0"/>
<rect x="1204" y="644" width="1" height="34" fill="#c0c0c0"/>
<rect x="1208" y="635" width="1" height="43" fill="#c0c0c0"/>
<rect x="1212" y="632" width="1" height="46" fill="#c0c0c0"/>
<rect x="1216" y="633" width="1" height="45" fill="#c0c0c0"/>
<rect x="1220" y="640" width="1" height="38" fill="#c0c0c0"/>
<rect x="1224" y="647" width="1" height="31" fill="#c0c0c0"/>
<rect x="1228" y="653" width="1" height="25" fill="#c0c0c0"/>
<rect x="1232" y="655" width="1" height="23" fill="#c0c0c0"/>
<rect x="1236" y="663" width="1" height="15" fill="#c0c0c0"/>
<rect x="1240" y="674" width="1" height="4" fill="#c0c0c0"/>
<rect x="1244" y="677" width="1" height="10" fill="#c0c0c0"/>
<rect x="1248" y="677" width="1" height="21" fill="#c0c0c0"/>
<rect x="1252" y="677" width="1" height="31" fill="#c0c0c0"/>
<rect x="1256" y="677" width="1" height="34" fill="#c0c0c0"/>
<rect x="1260" y="677" width="1" height="35" fill="#c0c0c0"/>
<rect x="1264" y="677" width="1" height="34" fill="#c0c0c0"/>
<rect x="1268" y="677" width="1" height="30" fill="#c0c0c0"/>
</g>
<path d="M4.5 681V682M5.5 680V681M6.5 680V681M10.5 679V680M11.5 679V680M12.5 679V680M16.5 679V680M17.5 679V680M18.5 680V681M22.5 680V681M23.5 680V681M24.5 680V681M28.5 681V682M29.5 682V683M30.5 682V683M34.5 683V684M35.5 683V684M36.5 684V685M40.5 685V686M41.5 685V686M42.5 685V686M46.5 687V688M47.5 687V688M48.5 687V688M52.5 688V689M53.5 688V689M54.5 688V689M58.5 689V690M59.5 689V690M60.5 689V690M64.5 688V689M65.5 688V689M66.5 688V689M70.5 687V688M71.5 687V688M72.5 687V688M76.5 685V686M77.5 685V686M78.5 685V686M82.5 684V685M83.5 683V684M84.5 683V684M88.5 682V683M89.5 681V682M90.5 681V682M94.5 680V681M95.5 680V681M96.5 680V681M100.5 679V680M101.5 679V680M102.5 679V680M106.5 679V680M107.5 679V680M108.5 679V680M112.5 679V680M113.5 680V681M114.5 680V681M118.5 681V682M119.5 681V682M120.5 681V682M124.5 682V683M125.5 683V684M126.5 683V684M130.5 684V685M131.5 685V686M132.5 685V686M136.5 686V687M137.5 687V688M138.5 687V688M142.5 687V688M143.5 687V688M144.5 688V689M148.5 688V689M149.5 688V689M150.5 688V689M154.5 688V689M155.5 688V689M156.5 687V688M160.5 687V688M161.5 687V688M162.5 686V687M166.5 685V686M167.5 685V686M168.5 685V686M172.5 684V685M173.5 684V685M174.5 684V685M178.5 683V684M179.5 683V684M180.5 683V684M184.5 682V683M185.5 682V683M186.5 682V683M190.5 682V683M191.5 682V683M192.5 681V682M196.5 681V682M197.5 681V682M198.5 681V682M202.5 681V682M203.5 682V683M204.5 682V683M208.5 682V683M209.5 682V683M210.5 682V683M214.5 683V684M215.5 683V684M216.5 683V684M220.5 683V684M221.5 683V684M222.5 683V684M226.5 683V684M227.5 683V684M228.5 683V684M232.5 683V684M233.5 683V684M234.5 683V684M238.5 683V684M239.5 683V684M240.5 683V684M244.5 683V684M245.5 682V683M246.5 682V683M250.5 682V683M251.5 682V683M252.5 682V683M256.5 681V682M257.5 681V682M258.5 681V682M262.5 680V681M263.5 679V680M264.5 679V680M268.5 677V678M269.5 677V678M270.5 676V677M274.5 674V675M275.5 673V674M276.5 673V674M280.5 670V671M281.5 670V671M282.5 669V670M286.5 668V669M287.5 667V668M288.5 667V668M292.5 666V667M293.5 666V667M294.5 666V667M298.5 666V667M299.5 666V667M300.5 666V667M304.5 667V668M305.5 668V669M306.5 668V669M310.5 669V670M311.5 669V670M312.5 669V670M316.5 670V671M317.5 670V671M318.5 670V671M322.5 669V670M323.5 669V670M324.5 669V670M328.5 668V669M329.5 668V669M330.5 667V668M334.5 666V667M335.5 665V666M336.5 665V666M340.5 663V664M341.5 663V664M342.5 662V663M346.5 661V662M347.5 661V662M348.5 661V662M352.5 661V662M353.5 661V662M354.5 661V662M358.5 662V663M359.5 663V664M360.5 663V664M364.5 665V666M365.5 665V666M366.5 666V667M370.5 668V669M371.5 669V670M372.5 669V670M376.5 672V673M377.5 673V674M378.5 673V674M382.5 675V676M383.5 676V677M384.5 676V677M388.5 678V679M389.5 678V679M390.5 678V679M394.5 679V680M395.5 680V681M396.5 680V681M400.5 681V682M401.5 681V682M402.5 681V682M406.5 681V682M407.5 681V682M408.5 681V682M412.5 682V683M413.5 682V683M414.5 682V683M418.5 682V683M419.5 682V683M420.5 683V684M424.5 684V685M425.5 684V685M426.5 684V685M430.5 685V686M431.5 685V686M432.5 686V687M436.5 687V688M437.5 687V688M438.5 687V688M442.5 689V690M443.5 689V690M444.5 689V690M448.5 690V691M449.5 690V691M450.5 691V692M454.5 692V693M455.5 692V693M456.5 692V693M460.5 693V694M461.5 693V694M462.5 693V694M466.5 693V694M467.5 693V694M468.5 693V694M472.5 692V693M473.5 692V693M474.5 692V693M478.5 690V691M479.5 690V691M480.5 690V691M484.5 688V689M485.5 688V689M486.5 687V688M490.5 685V686M491.5 685V686M492.5 685V686M496.5 683V684M497.5 683V684M498.5 682V683M502.5 682V683M503.5 682V683M504.5 681V682M508.5 682V683M509.5 682V683M510.5 682V683M514.5 682V683M515.5 683V684M516.5 683V684M520.5 684V685M521.5 684V685M522.5 685V686M526.5 686V687M527.5 686V687M528.5 686V687M532.5 687V688M533.5 687V688M534.5 687V688M538.5 687V688M539.5 687V688M540.5 687V688M544.5 687V688M545.5 687V688M546.5 687V688M550.5 688V689M551.5 688V689M552.5 688V689M556.5 688V689M557.5 689V690M558.5 689V690M562.5 690V691M563.5 690V691M564.5 690V691M568.5 692V693M569.5 692V693M570.5 692V693M574.5 693V694M575.5 694V695M576.5 694V695M580.5 694V695M581.5 695V696M582.5 695V696M586.5 695V696M587.5 695V696M588.5 695V696M592.5 694V695M593.5 694V695M594.5 694V695M598.5 693V694M599.5 692V693M600.5 692V693M604.5 691V692M605.5 690V691M606.5 690V691M610.5 689V690M611.5 689V690M612.5 688V689M616.5 687V688M617.5 687V688M618.5 687V688M622.5 686V687M623.5 686V687M624.5 686V687M628.5 685V686M629.5 685V686M630.5 685V686M634.5 685V686M635.5 685V686M636.5 685V686M640.5 685V686M641.5 685V686M642.5 685V686M646.5 686V687M647.5 686V687M648.5 686V687M652.5 687V688M653.5 687V688M654.5 688V689M658.5 689V690M659.5 689V690M660.5 689V690M664.5 690V691M665.5 690V691M666.5 690V691M670.5 691V692M671.5 691V692M672.5 691V692M676.5 691V692M677.5 691V692M678.5 691V692M682.5 691V692M683.5 691V692M684.5 690V691M688.5 690V691M689.5 690V691M690.5 689V690M694.5 688V689M695.5 688V689M696.5 687V688M700.5 686V687M701.5 685V686M702.5 685V686M706.5 683V684M707.5 683V684M708.5 683V684M712.5 681V682M713.5 681V682M714.5 680V681M718.5 678V679M719.5 678V679M720.5 677V678M724.5 674V675M725.5 674V675M726.5 673V674M730.5 671V672M731.5 670V671M732.5 670V671M736.5 668V669M737.5 667V668M738.5 667V668M742.5 665V666M743.5 665V666M744.5 665V666M748.5 664V665M749.5 664V665M750.5 663V664M754.5 663V664M755.5 663V664M756.5 663V664M760.5 664V665M761.5 664V665M762.5 664V665M766.5 664V665M767.5 664V665M768.5 664V665M772.5 664V665M773.5 664V665M774.5 664V665M778.5 664V665M779.5 664V665M780.5 665V666M784.5 665V666M785.5 665V666M786.5 665V666M790.5 666V667M791.5 666V667M792.5 666V667M796.5 668V669M797.5 668V669M798.5 668V669M802.5 670V671M803.5 671V672M804.5 671V672M808.5 673V674M809.5 674V675M810.5 674V675M814.5 677V678M815.5 677V678M816.5 678V679M820.5 679V680M821.5 679V680M822.5 680V681M826.5 681V682M827.5 681V682M828.5 681V682M832.5 681V682M833.5 681V682M834.5 681V682M838.5 681V682M839.5 681V682M840.5 681V682M844.5 681V682M845.5 681V682M846.5 681V682M850.5 680V681M851.5 680V681M852.5 680V681M856.5 681V682M857.5 681V682M858.5 681V682M862.5 681V682M863.5 681V682M864.5 681V682M868.5 682V683M869.5 682V683M870.5 682V683M874.5 682V683M875.5 682V683M876.5 682V683M880.5 682V683M881.5 682V683M882.5 681V682M886.5 681V682M887.5 681V682M888.5 680V681M892.5 680V681M893.5 679V680M894.5 679V680M898.5 678V679M899.5 678V679M900.5 678V679M904.5 677V678M905.5 676V677M906.5 676V677M910.5 675V676M911.5 675V676M912.5 675V676M916.5 674V675M917.5 674V675M918.5 673V674M922.5 673V674M923.5 672V673M924.5 672V673M928.5 671V672M929.5 671V672M930.5 671V672M934.5 670V671M935.5 670V671M936.5 670V671M940.5 669V670M941.5 669V670M942.5 669V670M946.5 669V670M947.5 669V670M948.5 669V670M952.5 670V671M953.5 670V671M954.5 670V671M958.5 671V672M959.5 671V672M960.5 671V672M964.5 671V672M965.5 671V672M966.5 671V672M970.5 671V672M971.5 671V672M972.5 670V671M976.5 670V671M977.5 669V670M978.5 669V670M982.5 668V669M983.5 668V669M984.5 667V668M988.5 666V667M989.5 666V667M990.5 666V667M994.5 665V666M995.5 665V666M996.5 665V666M1000.5 665V666M1001.5 665V666M1002.5 665V666M1006.5 665V666M1007.5 666V667M1008.5 666V667M1012.5 667V668M1013.5 667V668M1014.5 668V669M1018.5 669V670M1019.5 669V670M1020.5 670V671M1024.5 671V672M1025.5 671V672M1026.5 672V673M1030.5 673V674M1031.5 673V674M1032.5 673V674M1036.5 674V675M1037.5 675V676M1038.5 675V676M1042.5 676V677M1043.5 676V677M1044.5 676V677M1048.5 677V678M1049.5 677V678M1050.5 677V678M1054.5 679V680M1055.5 679V680M1056.5 679V680M1060.5 680V681M1061.5 681V682M1062.5 681V682M1066.5 683V684M1067.5 683V684M1068.5 683V684M1072.5 685V686M1073.5 685V686M1074.5 686V687M1078.5 687V688M1079.5 687V688M1080.5 687V688M1084.5 688V689M1085.5 688V689M1086.5 688V689M1090.5 688V689M1091.5 688V689M1092.5 688V689M1096.5 688V689M1097.5 688V689M1098.5 688V689M1102.5 688V689M1103.5 688V689M1104.5 688V689M1108.5 688V689M1109.5 688V689M1110.5 688V689M1114.5 689V690M1115.5 689V690M1116.5 689V690M1120.5 691V692M1121.5 691V692M1122.5 691V692M1126.5 693V694M1127.5 694V695M1128.5 694V695M1132.5 696V697M1133.5 697V698M1134.5 697V698M1138.5 699V700M1139.5 699V700M1140.5 700V701M1144.5 701V702M1145.5 702V703M1146.5 702V703M1150.5 704V705M1151.5 704V705M1152.5 704V705M1156.5 705V706M1157.5 705V706M1158.5 705V706M1162.5 705V706M1163.5 705V706M1164.5 705V706M1168.5 704V705M1169.5 704V705M1170.5 704V705M1174.5 702V703M1175.5 701V702M1176.5 701V702M1180.5 698V699M1181.5 697V698M1182.5 696V697M1186.5 692V693M1187.5 691V692M1188.5 690V691M1191.5 686V687M1192.5 685V686M1193.5 684V685M1196.5 680V681M1197.5 678V680M1200.5 674V675M1201.5 672V674M1204.5 668V669M1205.5 666V668M1208.5 661V663M1209.5 660V661M1211.5 657V658M1212.5 655V656M1213.5 653V654M1216.5 650V651M1217.5 649V650M1218.5 648V649M1222.5 645V646M1223.5 644V645M1224.5 644V645M1228.5 642V643M1229.5 642V643M1230.5 642V643M1234.5 643V644M1235.5 643V644M1236.5 644V645M1240.5 647V648M1241.5 648V650M1244.5 653V655M1245.5 655V656M1247.5 659V660M1248.5 660V662M1250.5 665V667M1251.5 667V668M1253.5 671V673M1254.5 673V674M1256.5 677V679M1257.5 679V680M1259.5 683V684M1260.5 684V686M1263.5 689V691M1264.5 691V692M1267.5 695V697M1268.5 697V698" fill="none" stroke="#ff0000" stroke-width="1" shape-rendering="crispEdges"/>
<g shape-rendering="crispEdges" fill="#000">
<rect x="3" y="23" width="1594" height="1"/>
<rect x="3" y="23" width="1" height="695"/>
<rect x="1596" y="23" width="1" height="695"/>
<rect x="3" y="529" width="1594" height="1"/>
<rect x="3" y="530" width="1594" height="1" fill="#fff"/>
<rect x="3" y="531" width="1594" height="1"/>
<rect x="3" y="623" width="1594" height="1"/>
<rect x="3" y="624" width="1594" height="1" fill="#fff"/>
<rect x="3" y="625" width="1594" height="1"/>
<rect x="3" y="717" width="1594" height="1"/>
<rect x="1597" y="31" width="2" height="1"/>
<rect x="1597" y="64" width="2" height="1"/>
<rect x="1597" y="97" width="2" height="1"/>
<rect x="1597" y="130" width="2" height="1"/>
<rect x="1597" y="163" width="2" height="1"/>
<rect x="1597" y="196" width="2" height="1"/>
<rect x="1597" y="229" width="2" height="1"/>
<rect x="1597" y="295" width="2" height="1"/>
<rect x="1597" y="328" width="2" height="1"/>
<rect x="1597" y="361" width="2" height="1"/>
<rect x="1597" y="394" width="2" height="1"/>
<rect x="1597" y="427" width="2" height="1"/>
<rect x="1597" y="460" width="2" height="1"/>
<rect x="1597" y="493" width="2" height="1"/>
<rect x="1597" y="526" width="2" height="1"/>
<rect x="1597" y="532" width="2" height="1"/>
<rect x="1597" y="559" width="2" height="1"/>
<rect x="1597" y="595" width="2" height="1"/>
<rect x="1597" y="622" width="2" height="1"/>
<rect x="1597" y="627" width="2" height="1"/>
<rect x="1597" y="677" width="2" height="1"/>
<rect x="1597" y="716" width="2" height="1"/>
<rect x="4" y="718" width="1" height="3"/>
<rect x="68" y="718" width="1" height="3"/>
<rect x="132" y="718" width="1" height="3"/>
<rect x="196" y="718" width="1" height="3"/>
<rect x="260" y="718" width="1" height="3"/>
<rect x="324" y="718" width="1" height="3"/>
<rect x="388" y="718" width="1" height="3"/>
<rect x="452" y="718" width="1" height="3"/>
<rect x="516" y="718" width="1" height="3"/>
<rect x="580" y="718" width="1" height="3"/>
<rect x="644" y="718" width="1" height="3"/>
<rect x="708" y="718" width="1" height="3"/>
<rect x="772" y="718" width="1" height="3"/>
<rect x="836" y="718" width="1" height="3"/>
<rect x="900" y="718" width="1" height="3"/>
<rect x="964" y="718" width="1" height="3"/>
<rect x="1028" y="718" width="1" height="3"/>
<rect x="1092" y="718" width="1" height="3"/>
<rect x="1156" y="718" width="1" height="3"/>
<rect x="1220" y="718" width="1" height="3"/>
</g>
<text x="1602" y="35" font-size="10" fill="#000" text-anchor="start" textLength="33.0" lengthAdjust="spacingAndGlyphs" text-rendering="geometricPrecision" >1.15265</text>
<text x="1602" y="68" font-size="10" fill="#000" text-anchor="start" textLength="33.0" lengthAdjust="spacingAndGlyphs" text-rendering="geometricPrecision" >1.14650</text>
<text x="1602" y="101" font-size="10" fill="#000" text-anchor="start" textLength="33.0" lengthAdjust="spacingAndGlyphs" text-rendering="geometricPrecision" >1.14050</text>
<text x="1602" y="134" font-size="10" fill="#000" text-anchor="start" textLength="33.0" lengthAdjust="spacingAndGlyphs" text-rendering="geometricPrecision" >1.13450</text>
<text x="1602" y="167" font-size="10" fill="#000" text-anchor="start" textLength="33.0" lengthAdjust="spacingAndGlyphs" text-rendering="geometricPrecision" >1.12850</text>
<text x="1602" y="200" font-size="10" fill="#000" text-anchor="start" textLength="33.0" lengthAdjust="spacingAndGlyphs" text-rendering="geometricPrecision" >1.12235</text>
<text x="1602" y="233" font-size="10" fill="#000" text-anchor="start" textLength="33.0" lengthAdjust="spacingAndGlyphs" text-rendering="geometricPrecision" >1.11635</text>
<text x="1602" y="299" font-size="10" fill="#000" text-anchor="start" textLength="33.0" lengthAdjust="spacingAndGlyphs" text-rendering="geometricPrecision" >1.10435</text>
<text x="1602" y="332" font-size="10" fill="#000" text-anchor="start" textLength="33.0" lengthAdjust="spacingAndGlyphs" text-rendering="geometricPrecision" >1.09820</text>
<text x="1602" y="365" font-size="10" fill="#000" text-anchor="start" textLength="33.0" lengthAdjust="spacingAndGlyphs" text-rendering="geometricPrecision" >1.09220</text>
<text x="1602" y="398" font-size="10" fill="#000" text-anchor="start" textLength="33.0" lengthAdjust="spacingAndGlyphs" text-rendering="geometricPrecision" >1.08620</text>
<text x="1602" y="431" font-size="10" fill="#000" text-anchor="start" textLength="33.0" lengthAdjust="spacingAndGlyphs" text-rendering="geometricPrecision" >1.08020</text>
<text x="1602" y="464" font-size="10" fill="#000" text-anchor="start" textLength="33.0" lengthAdjust="spacingAndGlyphs" text-rendering="geometricPrecision" >1.07405</text>
<text x="1602" y="497" font-size="10" fill="#000" text-anchor="start" textLength="33.0" lengthAdjust="spacingAndGlyphs" text-rendering="geometricPrecision" >1.06805</text>
<text x="1602" y="530" font-size="10" fill="#000" text-anchor="start" textLength="33.0" lengthAdjust="spacingAndGlyphs" text-rendering="geometricPrecision" >1.06205</text>
<g shape-rendering="crispEdges">
<rect x="1598" y="147" width="41" height="11" fill="#ff0000"/>
<rect x="1598" y="203" width="41" height="11" fill="#ff0000"/>
<rect x="1598" y="257" width="41" height="11" fill="#ff0000"/>
<rect x="1598" y="312" width="41" height="11" fill="#ff0000"/>
<rect x="1598" y="378" width="41" height="11" fill="#ff0000"/>
<rect x="1598" y="438" width="41" height="11" fill="#00ff00"/>
<rect x="1598" y="366" width="41" height="11" fill="#000"/>
<rect x="4" y="381" width="5" height="6" fill="#ff0000"/><rect x="6" y="383" width="1" height="2" fill="#fff"/>
<rect x="1591" y="381" width="5" height="6" fill="#ff0000"/><rect x="1593" y="383" width="1" height="2" fill="#fff"/>
<rect x="4" y="441" width="5" height="6" fill="#00ff00"/><rect x="6" y="443" width="1" height="2" fill="#fff"/>
<rect x="1591" y="441" width="5" height="6" fill="#00ff00"/><rect x="1593" y="443" width="1" height="2" fill="#fff"/>
</g>
<text x="1602" y="156" font-size="10" fill="#fff" text-anchor="start" textLength="33.0" lengthAdjust="spacingAndGlyphs" text-rendering="geometricPrecision" >1.13034</text>
<text x="1602" y="212" font-size="10" fill="#fff" text-anchor="start" textLength="33.0" lengthAdjust="spacingAndGlyphs" text-rendering="geometricPrecision" >1.12004</text>
<text x="1602" y="266" font-size="10" fill="#fff" text-anchor="start" textLength="33.0" lengthAdjust="spacingAndGlyphs" text-rendering="geometricPrecision" >1.11009</text>
<text x="1602" y="321" font-size="10" fill="#fff" text-anchor="start" textLength="33.0" lengthAdjust="spacingAndGlyphs" text-rendering="geometricPrecision" >1.10008</text>
<text x="1602" y="387" font-size="10" fill="#fff" text-anchor="start" textLength="33.0" lengthAdjust="spacingAndGlyphs" text-rendering="geometricPrecision" >1.08800</text>
<text x="1602" y="447" font-size="10" fill="#fff" text-anchor="start" textLength="33.0" lengthAdjust="spacingAndGlyphs" text-rendering="geometricPrecision" >1.07712</text>
<text x="1602" y="375" font-size="10" fill="#fff" text-anchor="start" textLength="33.0" lengthAdjust="spacingAndGlyphs" text-rendering="geometricPrecision" >1.09034</text>
<text x="1600" y="542" font-size="10" fill="#000" text-anchor="start" textLength="14.5" lengthAdjust="spacingAndGlyphs" text-rendering="geometricPrecision" >100</text>
<text x="1600" y="563" font-size="10" fill="#000" text-anchor="start" textLength="10.0" lengthAdjust="spacingAndGlyphs" text-rendering="geometricPrecision" >70</text>
<text x="1600" y="599" font-size="10" fill="#000" text-anchor="start" textLength="10.0" lengthAdjust="spacingAndGlyphs" text-rendering="geometricPrecision" >30</text>
<text x="1600" y="620" font-size="10" fill="#000" text-anchor="start" textLength="5.0" lengthAdjust="spacingAndGlyphs" text-rendering="geometricPrecision" >0</text>
<text x="1600" y="636" font-size="10" fill="#000" text-anchor="start" textLength="38.0" lengthAdjust="spacingAndGlyphs" text-rendering="geometricPrecision" >0.011277</text>
<text x="1600" y="681" font-size="10" fill="#000" text-anchor="start" textLength="18.0" lengthAdjust="spacingAndGlyphs" text-rendering="geometricPrecision" >0.00</text>
<text x="1600" y="714" font-size="10" fill="#000" text-anchor="start" textLength="41.0" lengthAdjust="spacingAndGlyphs" text-rendering="geometricPrecision" >-0.008845</text>
<text x="19.5" y="35" font-size="10" fill="#000" text-anchor="start" textLength="63.0" lengthAdjust="spacingAndGlyphs" text-rendering="geometricPrecision" >EURUSD,Daily</text>
<text x="89.2" y="35" font-size="10" fill="#000" text-anchor="start" textLength="140.3" lengthAdjust="spacingAndGlyphs" text-rendering="geometricPrecision" >1.08341 1.09326 1.08264 1.09034</text>
<path d="M7 30 L14 30 L10.5 34 Z" fill="#000"/>
<text x="8" y="544" font-size="10" fill="#000" text-anchor="start" textLength="68.0" lengthAdjust="spacingAndGlyphs" text-rendering="geometricPrecision" >RSI(14) 47.2549</text>
<text x="8" y="638" font-size="10" fill="#000" text-anchor="start" textLength="154.0" lengthAdjust="spacingAndGlyphs" text-rendering="geometricPrecision" >MACD(12,26,9) -0.006880 -0.004443</text>
<path d="M1272 24 L1281.4 24 L1276.7 28.8 Z" fill="#c0c0c0"/>
<text x="3" y="730" font-size="10" fill="#000" text-anchor="start" textLength="51.9" lengthAdjust="spacingAndGlyphs" text-rendering="geometricPrecision" >23 Mar 2019</text>
<text x="67" y="730" font-size="10" fill="#000" text-anchor="start" textLength="49.2" lengthAdjust="spacingAndGlyphs" text-rendering="geometricPrecision" >11 Apr 2019</text>
<text x="131" y="730" font-size="10" fill="#000" text-anchor="start" textLength="49.9" lengthAdjust="spacingAndGlyphs" text-rendering="geometricPrecision" >30 Apr 2019</text>
<text x="195" y="730" font-size="10" fill="#000" text-anchor="start" textLength="53.5" lengthAdjust="spacingAndGlyphs" text-rendering="geometricPrecision" >18 May 2019</text>
<text x="259" y="730" font-size="10" fill="#000" text-anchor="start" textLength="45.8" lengthAdjust="spacingAndGlyphs" text-rendering="geometricPrecision" >6 Jun 2019</text>
<text x="323" y="730" font-size="10" fill="#000" text-anchor="start" textLength="50.9" lengthAdjust="spacingAndGlyphs" text-rendering="geometricPrecision" >25 Jun 2019</text>
<text x="387" y="730" font-size="10" fill="#000" text-anchor="start" textLength="47.8" lengthAdjust="spacingAndGlyphs" text-rendering="geometricPrecision" >13 Jul 2019</text>
<text x="451" y="730" font-size="10" fill="#000" text-anchor="start" textLength="46.8" lengthAdjust="spacingAndGlyphs" text-rendering="geometricPrecision" >1 Aug 2019</text>
<text x="515" y="730" font-size="10" fill="#000" text-anchor="start" textLength="52.0" lengthAdjust="spacingAndGlyphs" text-rendering="geometricPrecision" >20 Aug 2019</text>
<text x="579" y="730" font-size="10" fill="#000" text-anchor="start" textLength="47.3" lengthAdjust="spacingAndGlyphs" text-rendering="geometricPrecision" >7 Sep 2019</text>
<text x="643" y="730" font-size="10" fill="#000" text-anchor="start" textLength="52.5" lengthAdjust="spacingAndGlyphs" text-rendering="geometricPrecision" >26 Sep 2019</text>
<text x="707" y="730" font-size="10" fill="#000" text-anchor="start" textLength="50.4" lengthAdjust="spacingAndGlyphs" text-rendering="geometricPrecision" >15 Oct 2019</text>
<text x="771" y="730" font-size="10" fill="#000" text-anchor="start" textLength="47.3" lengthAdjust="spacingAndGlyphs" text-rendering="geometricPrecision" >2 Nov 2019</text>
<text x="835" y="730" font-size="10" fill="#000" text-anchor="start" textLength="52.5" lengthAdjust="spacingAndGlyphs" text-rendering="geometricPrecision" >21 Nov 2019</text>
<text x="899" y="730" font-size="10" fill="#000" text-anchor="start" textLength="52.5" lengthAdjust="spacingAndGlyphs" text-rendering="geometricPrecision" >10 Dec 2019</text>
<text x="963" y="730" font-size="10" fill="#000" text-anchor="start" textLength="52.5" lengthAdjust="spacingAndGlyphs" text-rendering="geometricPrecision" >28 Dec 2019</text>
<text x="1027" y="730" font-size="10" fill="#000" text-anchor="start" textLength="50.9" lengthAdjust="spacingAndGlyphs" text-rendering="geometricPrecision" >16 Jan 2020</text>
<text x="1091" y="730" font-size="10" fill="#000" text-anchor="start" textLength="46.8" lengthAdjust="spacingAndGlyphs" text-rendering="geometricPrecision" >4 Feb 2020</text>
<text x="1155" y="730" font-size="10" fill="#000" text-anchor="start" textLength="51.9" lengthAdjust="spacingAndGlyphs" text-rendering="geometricPrecision" >22 Feb 2020</text>
<text x="1219" y="730" font-size="10" fill="#000" text-anchor="start" textLength="51.9" lengthAdjust="spacingAndGlyphs" text-rendering="geometricPrecision" >12 Mar 2020</text>
<text x="44" y="11" font-size="10" fill="#444" text-anchor="start" textLength="12.9" lengthAdjust="spacingAndGlyphs" text-rendering="geometricPrecision" >M1</text>
<text x="71" y="11" font-size="10" fill="#444" text-anchor="start" textLength="12.9" lengthAdjust="spacingAndGlyphs" text-rendering="geometricPrecision" >M5</text>
<text x="97" y="11" font-size="10" fill="#444" text-anchor="start" textLength="18.0" lengthAdjust="spacingAndGlyphs" text-rendering="geometricPrecision" >M15</text>
<text x="125" y="11" font-size="10" fill="#444" text-anchor="start" textLength="18.0" lengthAdjust="spacingAndGlyphs" text-rendering="geometricPrecision" >M30</text>
<text x="156" y="11" font-size="10" fill="#444" text-anchor="start" textLength="11.8" lengthAdjust="spacingAndGlyphs" text-rendering="geometricPrecision" >H1</text>
<text x="183" y="11" font-size="10" fill="#444" text-anchor="start" textLength="11.8" lengthAdjust="spacingAndGlyphs" text-rendering="geometricPrecision" >H4</text>
<text x="212" y="11" font-size="10" fill="#444" text-anchor="start" textLength="11.8" lengthAdjust="spacingAndGlyphs" text-rendering="geometricPrecision" >D1</text>
<text x="239" y="11" font-size="10" fill="#444" text-anchor="start" textLength="13.9" lengthAdjust="spacingAndGlyphs" text-rendering="geometricPrecision" >W1</text>
<text x="266" y="11" font-size="10" fill="#444" text-anchor="start" textLength="14.4" lengthAdjust="spacingAndGlyphs" text-rendering="geometricPrecision" >MN</text>
<path d="M0 2 L3 4.6 L0 5.6 Z" fill="#444"/><path d="M4.9 5.2 L0 10.4" stroke="#444" stroke-width="1.4" fill="none"/><path d="M3 10 L10 10 L6.5 14.2 Z" fill="#444"/><rect x="5.3" y="9.2" width="2.4" height="1" fill="#444"/>
<path d="M17 6 L22.5 6 L19.75 9 Z" fill="#000"/>
<g shape-rendering="crispEdges">
<rect x="0" y="738" width="1640" height="1" fill="#e8e8e8"/>
<rect x="0" y="741" width="1640" height="19" fill="#f0f0f0"/>
<rect x="0" y="760" width="1640" height="3" fill="#f8f8f8"/>
<rect x="0" y="763" width="1640" height="1" fill="#ececec"/>
<rect x="0" y="764" width="1640" height="1" fill="#c8c8c8"/>
<rect x="0" y="765" width="1640" height="3" fill="#fcfcfc"/>
<rect x="188" y="765" width="1" height="3" fill="#ececec"/>
<rect x="318" y="765" width="1" height="3" fill="#ececec"/>
<rect x="419" y="765" width="1" height="3" fill="#ececec"/>
<rect x="694" y="765" width="1" height="3" fill="#ececec"/>
<rect x="840" y="765" width="1" height="3" fill="#ececec"/>
<rect x="985" y="765" width="1" height="3" fill="#ececec"/>
<rect x="1130" y="765" width="1" height="3" fill="#ececec"/>
<rect x="1274" y="765" width="1" height="3" fill="#ececec"/>
<rect x="1420" y="765" width="1" height="3" fill="#ececec"/>
<rect x="6" y="740" width="102" height="18" fill="#fff"/>
<rect x="0" y="740" width="6" height="1" fill="#000"/><rect x="108" y="740" width="1532" height="1" fill="#000"/>
<rect x="5" y="740" width="1" height="19" fill="#000"/><rect x="108" y="740" width="1" height="19" fill="#000"/><rect x="5" y="758" width="104" height="1" fill="#000"/>
<rect x="0" y="741" width="1" height="18" fill="#696969"/>
<rect x="0" y="21" width="1" height="717" fill="#808080"/>
</g>
<text x="17.6" y="755" font-size="13" fill="#000" text-anchor="start" textLength="79.6" lengthAdjust="spacingAndGlyphs" text-rendering="geometricPrecision" >EURUSD,Daily</text>
<text x="119.1" y="755" font-size="13" fill="#777" text-anchor="start" textLength="78.9" lengthAdjust="spacingAndGlyphs" text-rendering="geometricPrecision" >USDCHF,Daily</text>
<text x="220" y="755" font-size="13" fill="#777" text-anchor="start" textLength="82.0" lengthAdjust="spacingAndGlyphs" text-rendering="geometricPrecision" >AUDUSD,Daily</text>
<text x="323.8" y="755" font-size="13" fill="#777" text-anchor="start" textLength="81.6" lengthAdjust="spacingAndGlyphs" text-rendering="geometricPrecision" >USDCAD,Daily</text>
<text x="426.8" y="755" font-size="13" fill="#777" text-anchor="start" textLength="83.2" lengthAdjust="spacingAndGlyphs" text-rendering="geometricPrecision" >USDCNH,Daily</text>
<text x="533.5" y="755" font-size="13" fill="#777" text-anchor="start" textLength="79.6" lengthAdjust="spacingAndGlyphs" text-rendering="geometricPrecision" >EURUSD,Daily</text>
<text x="637.2" y="755" font-size="13" fill="#777" text-anchor="start" textLength="67.8" lengthAdjust="spacingAndGlyphs" text-rendering="geometricPrecision" >GBPUSD,H4</text>
<text x="727.8" y="755" font-size="13" fill="#777" text-anchor="start" textLength="68.8" lengthAdjust="spacingAndGlyphs" text-rendering="geometricPrecision" >XAUUSD,H1</text>
<text x="820" y="755" font-size="13" fill="#777" text-anchor="start" textLength="49.5" lengthAdjust="spacingAndGlyphs" text-rendering="geometricPrecision" >HK50,H1</text>
<text x="892.3" y="755" font-size="13" fill="#777" text-anchor="start" textLength="56.4" lengthAdjust="spacingAndGlyphs" text-rendering="geometricPrecision" >UK100,H1</text>
<text x="972" y="755" font-size="13" fill="#777" text-anchor="start" textLength="56.2" lengthAdjust="spacingAndGlyphs" text-rendering="geometricPrecision" >UK100,H1</text>
<text x="1052.3" y="755" font-size="13" fill="#777" text-anchor="start" textLength="56.2" lengthAdjust="spacingAndGlyphs" text-rendering="geometricPrecision" >GER30,H1</text>
<text x="1131" y="755" font-size="13" fill="#777" text-anchor="start" textLength="54.6" lengthAdjust="spacingAndGlyphs" text-rendering="geometricPrecision" >FRA40,H1</text>
<text x="1206.8" y="755" font-size="13" fill="#777" text-anchor="start" textLength="51.0" lengthAdjust="spacingAndGlyphs" text-rendering="geometricPrecision" >USOil,H1</text>
<text x="1279" y="755" font-size="13" fill="#777" text-anchor="start" textLength="62.7" lengthAdjust="spacingAndGlyphs" text-rendering="geometricPrecision" >USDJPY,H1</text>
<g shape-rendering="crispEdges" fill="#606060">
<rect x="209" y="743" width="1" height="14"/>
<rect x="313" y="743" width="1" height="14"/>
<rect x="417" y="743" width="1" height="14"/>
<rect x="522" y="743" width="1" height="14"/>
<rect x="625" y="743" width="1" height="14"/>
<rect x="717" y="743" width="1" height="14"/>
<rect x="809" y="743" width="1" height="14"/>
<rect x="881" y="743" width="1" height="14"/>
<rect x="961" y="743" width="1" height="14"/>
<rect x="1041" y="743" width="1" height="14"/>
<rect x="1121" y="743" width="1" height="14"/>
<rect x="1197" y="743" width="1" height="14"/>
<rect x="1269" y="743" width="1" height="14"/>
<rect x="1354" y="743" width="1" height="14"/>
</g>
<path d="M1616 745 L1616 753 L1611 749 Z" fill="#a0a0a0"/><path d="M1630 745 L1630 753 L1635 749 Z" fill="#a0a0a0"/>
</svg></body></html>
